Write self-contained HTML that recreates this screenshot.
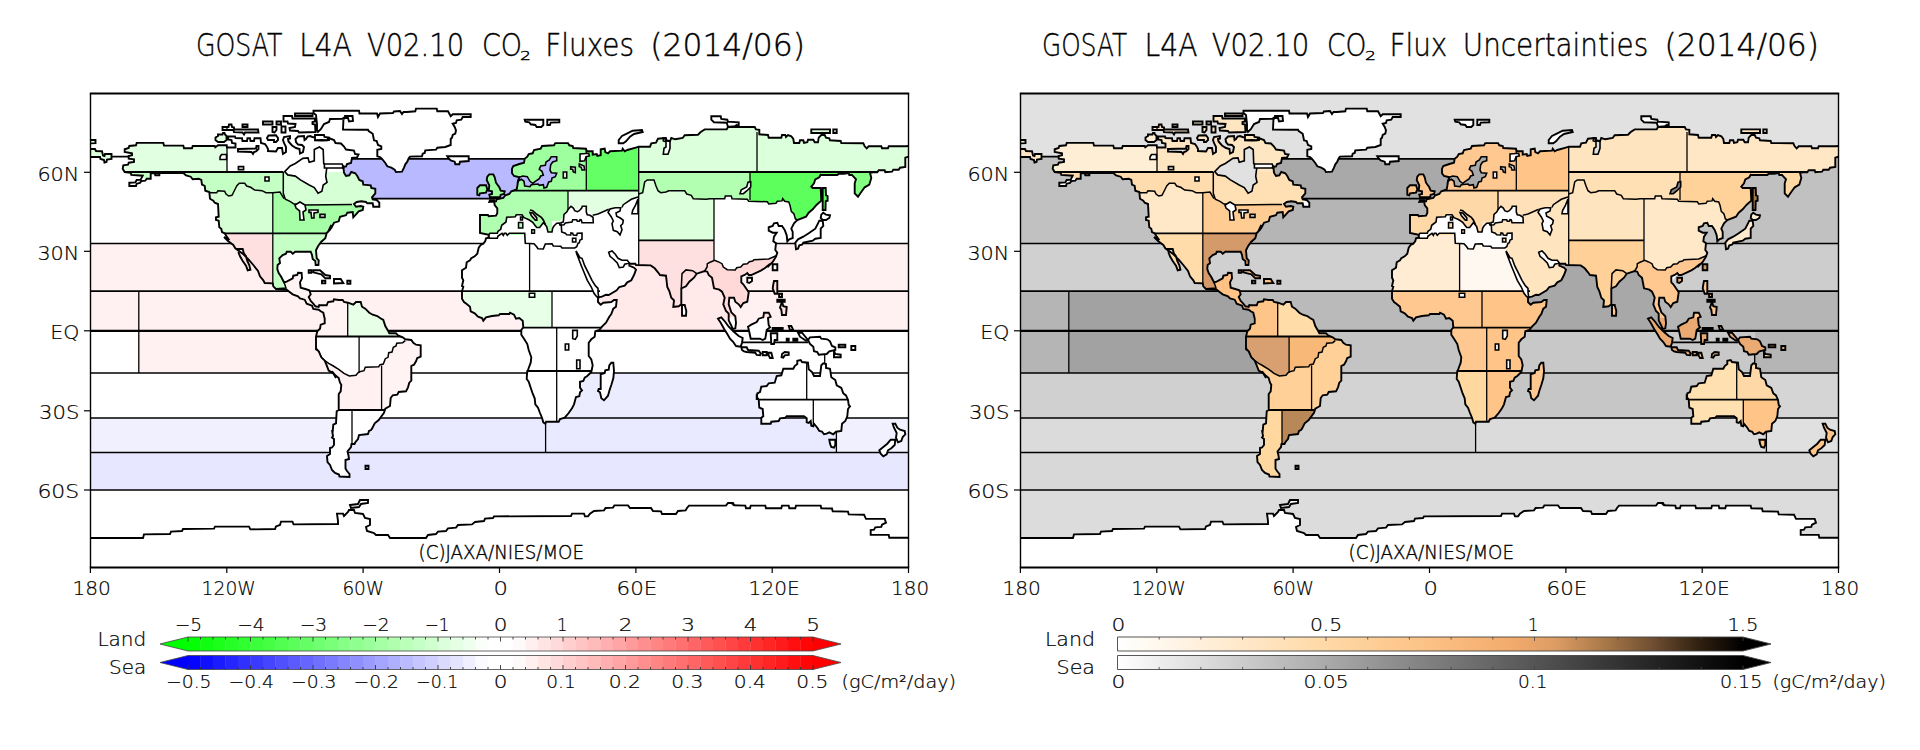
<!DOCTYPE html>
<html lang="en"><head><meta charset="utf-8"><title>GOSAT L4A V02.10 CO2 Fluxes (2014/06)</title>
<style>
html,body{margin:0;padding:0;background:#fff;}
body{width:1920px;height:750px;overflow:hidden;position:relative;}
svg{position:absolute;left:0;top:0;display:block;}
text{font-family:"DejaVu Sans Light","DejaVu Sans","Liberation Sans",sans-serif;font-weight:200;fill:#000;stroke:#000;stroke-width:0.4px;}
.ax text,.cb text{stroke-width:0.22px;}
</style></head><body>
<svg width="1920" height="750" viewBox="0 0 1920 750">
<defs>
<clipPath id="frame"><rect x="90.5" y="93.6" width="818.0" height="473.9"/></clipPath>
<clipPath id="landclip"><path d="M226.7 145.3 L218.0 145.3 L215.3 147.3 L214.7 146.0 L192.7 146.0 L192.0 148.3 L184.0 148.3 L183.3 145.6 L164.0 145.6 L163.3 142.9 L136.7 142.9 L136.0 145.3 L129.3 146.0 L128.7 148.0 L124.7 149.3 L124.7 152.0 L132.0 153.3 L132.0 155.3 L128.7 156.0 L128.7 158.7 L134.0 159.3 L134.0 162.0 L128.7 162.7 L128.0 164.7 L123.3 165.3 L122.7 168.7 L124.7 172.0 L130.7 172.7 L131.3 174.9 L142.7 175.7 L140.7 179.7 L136.7 180.0 L135.3 182.4 L129.3 182.7 L129.3 186.0 L136.0 186.0 L136.7 183.7 L140.0 182.9 L141.3 181.1 L145.3 180.7 L146.7 178.7 L150.7 178.7 L150.7 173.3 L154.7 173.1 L155.3 175.3 L159.3 175.3 L159.6 173.1 L183.3 173.1 L186.0 175.3 L190.7 176.7 L192.7 179.3 L198.7 178.7 L201.3 180.0 L202.0 184.7 L204.7 186.0 L205.3 190.7 L209.3 192.0 L210.0 198.7 L213.3 200.7 L214.7 202.7 L218.0 204.0 L218.7 216.7 L216.0 217.3 L216.0 220.0 L218.7 220.7 L219.3 227.3 L221.3 228.7 L222.0 232.0 L224.7 233.3 L226.7 236.7 L229.3 240.0 L224.0 237.0 L228.0 241.0 L233.3 245.0 L235.3 248.3 L242.7 253.7 L248.7 259.7 L253.3 265.0 L258.0 271.0 L260.0 276.3 L263.3 280.3 L264.7 283.0 L272.7 283.4 L273.3 286.3 L276.0 289.0 L286.7 289.7 L289.3 291.7 L292.7 294.3 L298.0 296.3 L300.0 298.3 L304.7 299.7 L306.7 303.7 L312.0 305.7 L313.3 309.0 L318.7 309.7 L320.7 311.3 L323.3 312.7 L324.7 318.7 L324.7 323.3 L320.7 324.7 L320.0 328.7 L317.3 331.3 L316.0 336.7 L316.0 349.3 L318.7 351.3 L321.3 357.3 L324.7 360.7 L326.7 365.3 L328.7 370.7 L333.3 373.3 L336.0 378.0 L332.0 371.3 L335.3 375.3 L338.7 378.0 L340.0 382.7 L341.3 384.7 L340.7 391.3 L338.7 394.0 L338.7 410.0 L336.7 411.3 L336.0 423.3 L333.3 424.7 L332.7 431.3 L332.0 430.0 L333.0 436.0 L332.0 437.5 L334.0 439.0 L334.0 445.0 L332.0 447.5 L330.0 448.0 L330.0 454.0 L327.0 456.0 L327.5 462.0 L330.0 465.0 L332.0 470.0 L335.0 473.0 L339.0 474.5 L339.5 476.5 L349.5 477.0 L349.5 474.0 L347.0 471.0 L345.5 468.5 L345.5 460.0 L349.0 459.0 L348.5 455.5 L347.5 451.5 L351.0 447.0 L351.5 444.0 L354.5 444.0 L355.5 442.0 L358.0 439.0 L359.0 435.0 L368.0 434.0 L369.0 431.0 L371.0 430.0 L372.0 428.7 L374.7 423.3 L378.7 420.0 L384.0 412.7 L385.3 408.7 L390.0 406.0 L390.7 398.0 L392.7 395.3 L397.3 394.7 L398.7 392.0 L406.0 391.3 L408.0 387.3 L409.3 382.7 L411.3 380.7 L411.3 370.0 L411.3 366.0 L414.0 364.7 L416.0 361.3 L417.3 358.0 L420.7 356.7 L420.7 345.3 L416.0 344.7 L413.3 342.7 L411.3 340.0 L405.3 339.3 L402.7 337.3 L398.0 335.3 L396.0 333.3 L389.3 333.3 L388.0 330.7 L385.3 326.0 L383.3 320.0 L380.0 318.0 L377.3 316.0 L372.7 314.7 L369.3 312.7 L365.3 308.7 L362.0 306.7 L360.7 302.0 L356.0 302.0 L353.3 304.7 L348.0 302.7 L344.0 302.0 L342.7 300.0 L338.7 300.0 L334.0 299.3 L333.3 301.3 L328.0 302.0 L326.7 305.3 L320.0 305.3 L319.3 305.0 L318.7 307.0 L315.3 306.3 L313.3 303.7 L310.7 301.0 L308.7 297.0 L310.7 294.3 L309.3 290.3 L305.3 289.0 L300.7 287.7 L300.0 282.3 L302.0 278.3 L301.6 273.0 L298.0 272.7 L297.3 275.0 L293.3 275.7 L292.7 278.3 L286.7 281.7 L284.0 282.3 L281.3 277.0 L278.7 273.0 L277.3 269.0 L277.6 265.0 L280.0 263.0 L279.3 258.3 L282.7 255.0 L286.0 253.7 L286.7 251.7 L290.7 251.7 L292.7 253.7 L295.3 251.7 L310.7 251.7 L312.0 255.0 L312.7 259.0 L315.3 261.0 L315.7 265.0 L318.4 265.0 L318.7 260.3 L316.7 258.3 L316.0 250.3 L318.0 246.3 L321.3 241.7 L325.3 238.3 L326.7 233.0 L330.0 229.7 L331.3 225.0 L328.0 232.0 L331.3 228.0 L334.0 222.7 L338.7 221.3 L340.0 216.7 L346.0 215.3 L347.3 212.7 L352.7 212.0 L353.3 217.3 L358.7 211.3 L362.7 210.0 L363.3 206.7 L360.7 206.0 L356.0 206.7 L354.0 204.0 L356.7 202.0 L361.3 201.3 L366.0 202.0 L367.3 203.3 L372.7 203.3 L373.3 206.7 L379.3 206.7 L379.3 202.7 L376.7 200.0 L372.7 199.3 L372.0 197.3 L375.3 193.3 L375.3 188.7 L371.3 188.0 L370.7 185.3 L363.3 184.7 L362.7 181.3 L359.3 180.0 L357.3 176.0 L355.3 173.3 L351.3 172.0 L349.3 175.3 L346.0 176.0 L344.0 172.7 L343.3 166.7 L342.0 168.0 L343.0 167.0 L346.0 166.5 L347.0 164.0 L351.0 163.0 L352.0 158.0 L357.0 157.5 L358.5 154.5 L355.0 154.0 L354.0 150.5 L346.0 149.5 L344.0 146.5 L341.0 143.5 L335.5 143.0 L334.0 140.0 L330.0 138.5 L328.0 138.5 L327.0 140.5 L315.0 140.0 L315.0 137.5 L312.5 137.0 L310.0 136.0 L307.5 136.5 L306.0 139.0 L304.5 140.0 L304.0 136.0 L298.0 136.5 L295.5 139.0 L296.0 142.0 L298.0 144.5 L302.0 145.0 L304.0 147.0 L303.0 152.0 L300.0 153.5 L299.5 149.0 L296.0 148.0 L292.0 145.5 L288.5 141.5 L288.0 139.0 L290.0 138.5 L290.0 136.0 L284.0 137.0 L283.0 140.0 L284.0 143.0 L286.0 147.0 L286.0 152.0 L283.0 154.0 L282.0 148.0 L278.0 148.0 L276.0 151.5 L268.0 151.0 L268.0 149.0 L267.0 147.0 L265.0 144.0 L261.0 143.0 L260.5 138.2 L254.5 138.2 L254.0 141.0 L250.5 141.0 L250.0 138.2 L247.5 138.2 L247.0 141.0 L242.5 141.0 L242.0 138.2 L235.5 138.0 L235.0 136.5 L228.0 136.5 L228.0 139.5 L231.5 140.0 L232.0 143.0 L235.5 143.5 L235.5 147.5 L227.0 147.5ZM218.0 134.5 L222.5 134.5 L223.0 133.0 L224.5 133.0 L225.0 134.5 L226.5 136.0 L226.5 140.0 L224.0 142.0 L218.0 142.0 L215.5 140.0 L215.5 137.5 L218.0 136.0ZM222.5 127.0 L228.5 127.0 L229.0 124.5 L231.5 124.5 L232.0 127.0 L234.0 127.5 L234.0 129.5 L258.0 129.5 L258.5 132.5 L245.0 132.5 L244.0 134.5 L242.5 132.5 L234.0 132.2 L233.5 130.0 L222.5 130.0ZM242.5 124.5 L247.5 124.5 L247.5 127.0 L242.5 127.0ZM263.0 121.5 L272.5 121.5 L272.5 124.5 L263.0 124.5ZM276.5 121.5 L281.0 121.5 L281.0 124.5 L276.5 124.5ZM272.5 127.0 L276.5 127.0 L276.5 130.0 L274.5 132.5 L272.5 132.0ZM281.5 126.5 L285.5 126.5 L285.5 132.5 L281.5 132.5ZM283.5 116.0 L292.0 116.0 L292.5 118.5 L315.0 118.5 L315.0 121.5 L312.5 122.0 L312.5 124.0 L315.0 124.5 L315.5 132.0 L299.0 132.5 L298.0 131.0 L290.0 130.5 L289.5 128.0 L295.0 127.0 L295.5 124.0 L288.0 123.5 L287.5 121.5 L283.5 121.5ZM295.0 113.5 L312.5 113.5 L312.5 116.0 L295.0 116.0ZM268.5 135.5 L276.0 135.2 L278.0 138.0 L278.0 140.0 L276.0 142.0 L274.0 142.0 L274.0 140.0 L268.0 140.0 L267.0 138.0ZM238.0 149.0 L256.0 148.5 L256.5 146.0 L258.5 146.0 L258.5 149.0 L256.0 151.5 L254.0 152.0 L253.0 154.0 L251.5 152.0 L238.0 151.5ZM315.0 135.0 L324.0 135.0 L324.5 137.0 L329.0 137.5 L329.0 140.0 L315.0 140.5ZM343.0 129.5 L343.5 118.0 L348.0 118.0 L349.0 121.5 L353.0 121.0 L352.5 116.0 L345.0 116.0 L344.0 118.8 L330.0 119.0 L329.0 122.0 L324.0 124.0 L321.0 129.0 L318.0 132.0 L317.0 130.0 L317.0 124.0 L316.0 115.0 L313.5 113.0 L313.5 110.8 L359.0 110.8 L359.5 113.5 L377.0 113.5 L378.0 117.0 L380.0 113.5 L393.0 113.0 L394.0 111.5 L400.0 111.0 L402.0 114.0 L403.5 112.0 L407.0 112.0 L415.3 111.3 L416.0 108.6 L436.7 108.6 L437.3 111.3 L448.0 111.3 L450.7 116.3 L452.7 114.3 L470.7 114.1 L470.7 117.0 L462.7 117.0 L461.3 119.7 L456.7 120.3 L456.0 123.0 L452.7 123.7 L454.7 127.0 L456.0 130.3 L455.3 133.7 L452.7 135.0 L452.0 137.7 L450.7 139.0 L450.7 145.0 L445.3 147.0 L437.3 147.7 L436.0 149.7 L425.3 150.3 L424.7 153.0 L422.7 153.7 L422.0 156.3 L410.0 156.6 L408.7 158.3 L407.3 161.7 L405.3 164.3 L404.0 167.7 L402.0 171.7 L396.0 172.1 L394.7 169.7 L391.3 167.7 L387.3 166.3 L385.3 163.0 L382.0 159.0 L380.0 157.0 L377.3 156.3 L377.3 149.7 L381.3 149.0 L381.3 146.3 L378.0 145.0 L376.7 141.0 L374.0 140.3 L372.7 133.7 L368.7 131.0 L368.0 129.7 L360.0 129.7ZM447.3 156.3 L468.7 156.3 L468.7 161.0 L460.0 161.7 L459.3 164.3 L455.3 164.3 L454.7 161.7 L450.7 160.3 L448.7 158.3ZM524.7 119.7 L543.3 119.7 L543.3 125.0 L541.3 127.0 L536.7 127.0 L535.3 125.0 L530.7 124.3 L529.3 122.3 L525.3 121.7ZM547.3 119.7 L559.3 119.7 L559.3 122.3 L550.7 122.6 L550.0 125.0 L547.3 125.0ZM618.7 140.0 L622.0 136.0 L627.3 133.3 L632.7 130.7 L642.0 130.0 L642.7 132.0 L634.0 134.0 L630.0 136.7 L626.0 141.3 L623.3 143.3 L618.7 143.3ZM313.3 270.3 L320.0 270.3 L325.3 275.0 L330.0 275.7 L330.0 278.3 L325.3 278.3 L321.3 274.3 L313.3 272.3ZM308.7 270.1 L311.3 270.1 L311.3 272.7 L308.7 272.7ZM334.0 279.0 L340.7 279.0 L343.3 283.0 L334.0 283.4ZM322.0 280.7 L325.3 280.7 L325.3 283.4 L322.0 283.4ZM347.3 280.7 L350.4 280.7 L350.4 283.7 L347.3 283.7ZM238.0 249.0 L242.7 249.0 L244.0 253.7 L246.0 256.3 L247.3 261.0 L249.3 265.0 L250.4 269.7 L247.7 270.3 L246.0 265.7 L242.7 261.0 L240.0 256.3 L238.7 253.0ZM365.5 465.8 L368.5 465.8 L368.5 469.0 L365.5 469.0ZM154.7 173.1 L159.3 173.1 L159.3 175.3 L155.3 175.3ZM90.5 538.0 L143.0 538.0 L144.0 534.4 L170.0 534.0 L171.0 531.6 L182.0 531.0 L183.0 529.0 L214.0 528.6 L215.0 526.6 L249.0 526.6 L250.4 529.4 L275.0 529.0 L276.0 526.4 L280.0 525.0 L281.0 521.6 L292.4 521.6 L293.6 524.4 L338.0 524.0 L338.0 521.0 L337.0 513.6 L343.0 513.6 L344.0 516.0 L348.0 512.0 L349.0 510.0 L354.0 510.0 L355.0 513.0 L363.0 514.0 L365.0 518.0 L370.0 519.0 L370.0 525.0 L366.0 527.0 L367.0 531.0 L374.0 533.0 L376.0 535.0 L388.0 535.0 L390.0 538.0 L426.0 538.0 L428.0 535.0 L436.0 534.0 L438.0 531.6 L446.0 531.0 L448.0 528.4 L456.0 527.6 L458.0 525.0 L472.0 524.4 L475.0 522.0 L484.0 521.0 L485.0 518.6 L493.0 518.0 L494.0 516.4 L571.0 516.0 L572.0 513.6 L584.0 513.6 L585.0 516.4 L588.0 516.4 L590.0 513.6 L594.0 511.0 L604.0 510.4 L605.6 508.0 L613.0 507.6 L614.4 505.4 L628.0 505.4 L630.0 508.0 L651.0 508.0 L653.0 511.0 L661.0 511.4 L662.0 514.0 L676.0 514.0 L678.0 511.0 L685.6 510.4 L687.0 508.0 L689.0 505.6 L726.0 505.6 L728.0 503.0 L733.0 503.0 L734.4 505.6 L734.0 505.3 L745.3 505.6 L746.0 508.3 L750.0 508.3 L750.7 505.6 L765.3 505.6 L766.0 508.3 L781.3 508.3 L782.0 505.6 L788.7 505.6 L789.3 508.3 L795.3 508.3 L796.0 505.6 L820.7 505.6 L821.3 508.3 L832.0 508.5 L832.7 511.3 L848.0 511.6 L848.7 514.4 L864.0 514.7 L866.0 518.9 L884.7 518.9 L886.0 522.7 L882.0 524.7 L881.3 526.9 L875.3 527.3 L874.0 529.6 L870.7 530.0 L870.7 534.9 L888.7 534.9 L889.3 537.7 L908.7 537.7 L912.0 538.0 L912.0 572.0 L88.0 572.0 L88.0 538.0ZM350.0 505.0 L358.0 504.0 L360.0 500.0 L368.0 500.0 L368.0 503.0 L361.0 504.0 L359.0 507.0 L351.0 508.0ZM912.0 145.7 L912.0 155.7 L905.3 157.7 L905.3 167.0 L900.0 167.7 L898.7 169.7 L893.3 169.7 L892.0 171.7 L885.3 172.3 L884.7 170.3 L878.7 170.3 L877.3 172.3 L873.3 172.3 L870.0 172.7 L871.3 178.0 L869.3 184.7 L864.7 187.3 L860.7 192.7 L858.0 196.7 L854.7 193.3 L854.7 183.3 L856.0 179.3 L853.3 176.3 L852.0 175.0 L849.3 175.0 L848.7 173.0 L844.0 173.7 L838.7 173.7 L837.3 175.0 L821.3 175.0 L820.7 174.7 L819.3 177.3 L815.3 179.3 L814.0 183.3 L811.3 186.7 L812.7 188.0 L820.7 188.0 L821.3 200.7 L816.7 204.7 L812.7 209.3 L808.7 212.7 L806.0 216.7 L797.3 220.0 L794.0 223.3 L791.3 228.7 L792.7 232.0 L792.7 238.0 L789.3 239.3 L787.3 241.3 L786.7 235.3 L784.7 230.0 L782.0 226.0 L778.7 226.0 L777.3 222.7 L774.0 223.3 L772.7 226.0 L768.7 227.3 L768.7 230.7 L772.7 232.7 L776.7 232.7 L774.0 236.7 L773.3 241.3 L776.0 243.3 L775.3 250.0 L777.3 252.7 L776.0 256.7 L772.7 262.0 L768.7 266.0 L768.7 265.0 L764.7 268.3 L761.3 270.3 L751.3 275.0 L748.7 275.0 L747.3 273.0 L744.7 275.0 L741.3 276.3 L741.3 282.3 L743.3 284.3 L746.0 288.3 L748.7 292.3 L747.3 301.7 L743.3 303.0 L740.7 307.0 L738.7 304.3 L735.3 301.7 L734.0 297.7 L729.3 297.7 L728.7 304.3 L731.3 312.3 L735.3 316.3 L736.0 323.0 L735.3 328.3 L732.7 329.0 L731.3 325.7 L728.7 320.3 L728.7 313.7 L726.0 311.0 L723.3 304.3 L724.7 297.7 L722.0 291.7 L719.3 289.7 L714.0 288.3 L712.0 277.7 L708.7 275.0 L707.3 271.7 L704.7 271.0 L696.7 273.7 L694.0 277.7 L689.3 281.7 L686.0 286.3 L681.3 288.3 L681.3 304.3 L678.7 306.3 L673.3 307.0 L674.0 300.3 L671.3 297.7 L669.3 291.0 L667.3 287.0 L666.0 275.7 L660.0 275.0 L658.0 272.3 L654.7 268.3 L650.7 265.4 L636.0 265.0 L635.3 263.7 L630.0 263.7 L629.3 263.3 L629.3 265.7 L634.0 267.7 L636.0 269.7 L634.0 275.0 L631.3 280.3 L627.3 282.3 L624.7 285.7 L619.3 287.0 L616.7 290.3 L608.7 295.0 L606.0 294.7 L602.0 296.7 L598.0 297.3 L598.0 302.0 L600.7 304.7 L603.3 302.7 L611.3 302.0 L614.0 300.0 L616.7 300.0 L616.0 306.7 L613.3 308.7 L611.3 314.0 L609.3 316.7 L606.0 322.7 L602.0 326.7 L599.3 330.0 L595.3 331.3 L594.7 336.7 L591.3 339.3 L588.7 342.7 L588.7 356.0 L591.3 359.3 L592.7 365.3 L591.3 372.0 L587.3 376.0 L584.7 377.7 L583.3 381.0 L580.0 381.7 L580.0 387.7 L582.0 390.3 L580.0 392.3 L579.3 396.3 L576.0 397.0 L574.0 404.3 L572.0 408.3 L568.7 413.0 L564.7 417.7 L560.0 419.0 L558.7 421.7 L546.0 421.7 L545.3 423.7 L543.3 422.3 L542.0 417.7 L540.0 413.0 L538.0 407.7 L535.3 404.3 L534.7 398.3 L532.7 393.7 L530.7 387.7 L528.7 381.7 L526.7 379.0 L527.3 370.3 L527.3 372.0 L528.7 368.0 L530.7 362.7 L531.3 357.3 L528.7 350.0 L527.3 344.0 L524.0 338.7 L521.3 334.7 L521.3 330.0 L523.3 327.3 L522.7 320.7 L519.3 318.0 L516.0 318.7 L514.0 314.7 L510.0 312.7 L509.3 314.0 L500.0 314.0 L498.7 315.3 L492.0 316.0 L486.0 317.3 L483.3 320.7 L482.0 318.0 L478.0 316.7 L474.7 313.3 L470.7 311.3 L470.0 306.7 L466.7 304.0 L464.0 302.0 L462.0 298.7 L462.0 291.3 L463.3 286.7 L462.0 286.0 L463.3 280.3 L462.0 277.7 L462.0 270.3 L466.0 267.7 L466.7 262.3 L470.0 260.3 L471.3 258.3 L474.7 256.3 L477.3 253.7 L478.7 247.7 L480.7 245.0 L483.3 243.7 L485.3 241.0 L486.0 238.3 L488.7 237.7 L488.7 234.7 L480.0 233.0 L480.0 215.0 L488.0 215.0 L488.7 216.3 L496.0 215.7 L497.3 213.0 L497.3 208.3 L494.7 205.0 L494.0 200.3 L490.0 200.3 L489.3 202.0 L496.0 201.3 L496.7 199.3 L503.3 198.0 L505.3 195.3 L509.3 194.0 L511.3 191.3 L516.7 189.3 L517.3 186.0 L518.0 181.3 L519.3 177.3 L514.0 176.0 L512.0 173.3 L512.0 168.7 L513.3 166.0 L519.3 164.0 L524.0 162.7 L524.7 158.7 L527.3 156.7 L528.7 154.0 L532.7 153.3 L534.0 150.0 L540.7 148.7 L542.0 146.0 L554.0 145.3 L555.3 143.1 L568.0 143.1 L569.3 145.3 L572.7 146.0 L573.3 148.0 L586.0 148.7 L586.7 151.3 L592.7 151.3 L592.7 154.7 L596.7 154.0 L597.3 156.0 L600.7 155.3 L600.7 149.3 L604.7 148.7 L605.3 152.0 L608.0 153.3 L610.0 151.3 L622.0 150.7 L622.7 148.7 L624.7 151.3 L627.3 150.0 L636.7 147.3 L638.7 146.7 L650.0 146.7 L651.3 143.3 L656.0 142.7 L658.0 138.7 L664.7 138.0 L666.0 140.7 L670.0 141.3 L671.3 138.0 L675.3 139.3 L682.7 138.0 L684.7 135.3 L698.0 134.7 L700.7 132.0 L704.7 129.4 L726.7 129.4 L728.0 127.0 L734.7 126.3 L736.7 125.0 L738.7 127.0 L754.7 127.0 L756.0 129.4 L759.3 129.9 L759.3 134.3 L768.0 135.0 L768.7 137.7 L781.3 137.7 L782.0 135.0 L785.3 135.0 L786.0 137.0 L788.0 135.0 L791.3 136.3 L793.3 139.0 L794.0 143.0 L799.3 143.0 L800.0 140.3 L803.3 140.3 L804.0 143.0 L807.3 142.3 L808.0 139.7 L813.3 139.7 L814.7 142.3 L818.0 142.3 L818.7 137.7 L821.3 135.0 L824.7 135.0 L826.0 137.7 L829.3 138.3 L830.0 140.3 L840.7 141.0 L841.3 143.0 L863.3 143.3 L864.7 146.3 L866.7 148.3 L868.7 146.3 L881.3 146.3 L882.0 148.3 L888.0 148.3 L888.7 146.3 L905.3 146.3ZM86.0 149.0 L95.0 149.0 L96.0 151.0 L102.0 151.2 L103.0 155.5 L104.5 156.0 L105.0 154.0 L111.5 154.0 L111.5 159.0 L107.0 159.5 L106.5 162.0 L104.5 162.5 L104.0 160.0 L100.5 159.0 L100.0 157.0 L86.0 157.0ZM86.0 140.0 L95.5 140.0 L95.5 143.2 L86.0 143.5ZM711.3 116.3 L720.7 116.3 L721.3 119.0 L727.3 119.7 L728.0 121.7 L738.7 122.3 L738.7 127.0 L728.0 127.0 L726.7 122.7 L714.0 122.3 L711.3 119.7ZM811.3 129.4 L830.0 129.4 L830.0 133.0 L811.3 133.0ZM833.3 129.4 L836.7 129.4 L836.7 133.0 L833.3 133.0ZM822.7 188.0 L825.7 188.0 L826.0 195.3 L827.6 196.0 L827.6 200.7 L825.7 201.3 L825.5 210.0 L822.7 210.0ZM821.3 214.7 L823.3 212.7 L826.0 214.7 L830.0 215.3 L829.3 218.0 L826.0 220.0 L822.7 220.0 L820.7 218.0ZM822.7 220.7 L823.3 226.0 L820.7 228.7 L820.7 238.0 L815.3 238.7 L812.7 240.7 L803.3 242.7 L802.0 244.7 L799.3 245.3 L798.0 248.7 L796.0 249.3 L795.3 242.7 L798.0 239.3 L803.3 236.7 L808.7 233.3 L815.3 228.7 L818.0 223.3 L819.3 220.7ZM772.7 264.3 L777.3 264.3 L777.3 270.3 L772.7 270.3ZM747.3 277.7 L752.0 277.7 L752.0 281.0 L749.3 283.0 L747.3 282.3ZM774.0 281.0 L777.3 281.0 L777.3 293.7 L774.7 293.7 L772.7 288.3 L773.3 284.3ZM777.3 299.7 L784.7 299.7 L784.7 301.7 L777.3 301.7ZM779.1 293.7 L782.0 293.7 L782.0 297.0 L779.1 297.0ZM782.0 301.7 L783.3 306.3 L786.7 307.0 L786.0 315.0 L782.0 315.0 L781.3 309.7 L780.0 307.7ZM682.0 305.0 L684.7 305.0 L686.3 311.0 L686.0 315.7 L682.0 315.7ZM487.3 176.7 L489.3 174.4 L493.3 174.4 L494.7 177.3 L496.0 182.7 L499.3 187.3 L500.7 190.7 L504.7 191.3 L504.0 194.0 L500.7 194.7 L500.0 197.3 L490.0 197.3 L489.3 194.7 L492.0 194.0 L492.0 191.3 L488.7 190.7 L489.3 185.3 L486.7 180.0ZM477.3 188.0 L480.0 185.3 L486.0 185.1 L487.3 189.3 L486.0 192.7 L480.0 193.3 L479.3 195.3 L477.3 194.7ZM611.3 362.7 L613.3 362.7 L614.0 371.0 L613.3 378.3 L611.3 385.0 L609.3 391.0 L608.0 395.7 L604.0 400.3 L601.3 398.3 L600.0 392.3 L598.0 391.0 L598.7 389.0 L600.7 389.0 L600.7 374.3 L604.7 373.0 L605.3 370.3 L608.7 369.7 L609.3 365.3ZM718.0 318.7 L721.3 317.3 L725.3 322.0 L728.7 326.7 L733.3 331.3 L738.7 336.0 L742.7 338.0 L742.0 342.7 L740.7 346.7 L736.0 346.0 L733.3 342.0 L730.0 338.7 L727.3 334.0 L724.0 328.7 L720.7 322.7ZM741.3 347.3 L746.7 347.3 L748.0 350.0 L758.7 350.7 L760.7 353.3 L760.0 355.3 L756.7 354.9 L755.3 352.7 L746.7 352.0 L744.0 351.3 L742.0 350.0ZM762.7 352.0 L766.7 352.0 L766.7 355.3 L762.7 355.3ZM768.0 352.7 L771.3 352.7 L772.7 358.0 L770.0 358.0 L768.7 355.3ZM748.0 326.7 L751.3 324.7 L756.7 322.0 L758.7 318.7 L763.3 317.3 L764.0 312.7 L768.7 312.7 L770.7 316.7 L768.0 318.0 L768.7 325.3 L770.0 327.3 L766.7 330.0 L765.3 338.7 L762.7 340.0 L760.0 338.7 L750.7 338.7 L749.3 332.0ZM770.7 333.3 L777.3 333.3 L777.3 340.0 L774.7 340.0 L774.0 344.0 L771.3 344.0ZM772.7 328.0 L782.7 328.0 L782.7 330.0 L772.7 330.0ZM788.7 326.0 L791.3 326.0 L793.3 330.0 L790.0 330.0ZM782.0 354.0 L784.7 352.0 L788.7 352.3 L788.7 354.9 L784.7 355.3 L783.3 357.6 L781.6 357.3ZM798.0 332.7 L802.0 332.7 L808.0 340.0 L806.0 340.7 L800.0 336.7ZM786.7 338.7 L788.7 338.7 L788.7 340.7 L786.7 340.7ZM793.3 338.7 L797.3 338.7 L797.3 340.7 L793.3 340.7ZM808.0 340.0 L810.0 337.3 L820.0 336.7 L821.3 338.7 L827.3 339.3 L830.0 341.3 L832.0 346.0 L835.3 347.3 L835.3 350.0 L829.3 351.3 L826.7 354.0 L818.7 354.7 L817.3 352.0 L814.0 351.3 L813.3 346.7 L810.0 344.0ZM838.7 344.7 L845.3 344.7 L845.3 347.3 L838.7 347.3ZM834.0 350.7 L835.3 354.0 L840.7 354.7 L840.7 357.3 L834.0 357.3ZM851.3 346.0 L855.3 346.0 L855.3 350.0 L851.3 350.0ZM756.7 400.0 L757.3 393.3 L760.0 392.0 L761.3 386.7 L766.7 386.0 L768.7 383.3 L774.7 382.7 L776.7 376.0 L781.3 375.3 L783.3 368.7 L793.3 368.7 L794.7 366.0 L797.3 364.0 L797.3 360.7 L800.7 360.0 L802.0 362.0 L808.0 362.7 L808.7 369.3 L812.0 372.0 L814.0 376.0 L820.0 376.0 L821.3 365.3 L823.3 363.3 L826.0 364.0 L826.0 368.0 L830.0 368.7 L831.3 377.3 L835.3 380.0 L836.7 385.3 L841.3 388.0 L843.3 393.3 L846.7 396.0 L846.0 395.7 L848.0 399.7 L848.7 405.0 L850.0 406.3 L848.0 409.0 L847.3 416.3 L845.3 421.0 L842.0 423.7 L841.3 431.0 L836.0 431.7 L833.3 434.3 L829.3 432.3 L826.7 433.7 L824.0 434.3 L822.0 431.7 L819.3 431.0 L817.3 427.7 L814.0 423.7 L813.3 426.3 L811.3 425.7 L810.7 421.0 L808.7 423.0 L806.7 422.3 L806.7 418.3 L804.0 416.3 L786.7 416.3 L785.3 417.7 L780.0 418.3 L778.7 421.0 L771.3 421.7 L770.7 423.7 L761.3 423.7 L761.3 417.7 L763.3 416.3 L762.7 409.0 L759.3 407.7 L758.7 399.7 L756.7 397.0ZM829.3 439.7 L835.3 439.7 L835.3 445.0 L834.0 447.7 L831.3 447.0 L830.0 443.7ZM892.7 423.7 L895.3 423.7 L897.3 427.7 L900.0 429.7 L904.7 431.0 L905.3 434.3 L902.7 437.0 L901.3 441.0 L898.0 442.3 L896.0 437.7 L896.7 433.0 L894.0 427.7ZM890.7 439.7 L895.3 439.7 L894.7 445.0 L891.3 448.3 L888.0 450.3 L886.7 454.3 L883.3 456.3 L880.7 453.7 L879.3 450.3 L883.3 447.0 L887.3 443.7Z"/></clipPath>
</defs>
<rect width="1920" height="750" fill="#fff"/>
<g class="ttl">
<text x="195.9" y="56.2" font-size="31.2" textLength="86.6" lengthAdjust="spacingAndGlyphs">GOSAT</text>
<text x="299.3" y="56.2" font-size="31.2" textLength="52.5" lengthAdjust="spacingAndGlyphs">L4A</text>
<text x="366.9" y="56.2" font-size="31.2" textLength="97.3" lengthAdjust="spacingAndGlyphs">V02.10</text>
<text x="481.9" y="56.2" font-size="31.2" textLength="40.1" lengthAdjust="spacingAndGlyphs">CO</text>
<text x="545.3" y="56.2" font-size="31.2" textLength="88.7" lengthAdjust="spacingAndGlyphs">Fluxes</text>
<text x="650.3" y="56.2" font-size="31.2" textLength="154.7" lengthAdjust="spacingAndGlyphs">(2014/06)</text>
<text x="520.0" y="59.5" font-size="12.0" textLength="11.0" lengthAdjust="spacingAndGlyphs" stroke-width="0.8">2</text>
<text x="1042.1" y="56.2" font-size="31.2" textLength="84.9" lengthAdjust="spacingAndGlyphs">GOSAT</text>
<text x="1144.6" y="56.2" font-size="31.2" textLength="52.8" lengthAdjust="spacingAndGlyphs">L4A</text>
<text x="1211.7" y="56.2" font-size="31.2" textLength="97.7" lengthAdjust="spacingAndGlyphs">V02.10</text>
<text x="1327.0" y="56.2" font-size="31.2" textLength="39.4" lengthAdjust="spacingAndGlyphs">CO</text>
<text x="1389.4" y="56.2" font-size="31.2" textLength="57.9" lengthAdjust="spacingAndGlyphs">Flux</text>
<text x="1462.8" y="56.2" font-size="31.2" textLength="185.4" lengthAdjust="spacingAndGlyphs">Uncertainties</text>
<text x="1664.5" y="56.2" font-size="31.2" textLength="154.5" lengthAdjust="spacingAndGlyphs">(2014/06)</text>
<text x="1365.1" y="59.5" font-size="12.0" textLength="11.0" lengthAdjust="spacingAndGlyphs" stroke-width="0.8">2</text>
</g>
<g transform="translate(0,0)">
<g clip-path="url(#frame)">
<rect x="90.5" y="93.6" width="818.0" height="473.9" fill="#ffffff"/>
<rect x="300.0" y="158.9" width="260.0" height="39.8" fill="#b9b9ff"/>
<polygon points="90.5,243.5 250.0,243.5 280.0,291.2 90.5,291.2" fill="#fff1f1"/>
<polygon points="770.0,243.5 908.5,243.5 908.5,291.2 735.0,291.2" fill="#fff1f1"/>
<polygon points="585.0,235.0 722.0,235.0 727.0,295.0 734.0,322.0 727.0,330.8 585.0,330.8" fill="#ffe9e9"/>
<polygon points="727.0,295.0 722.0,291.2 908.5,291.2 908.5,330.8 727.0,330.8 734.0,322.0" fill="#fff1f1"/>
<polygon points="90.5,291.2 138.8,291.2 138.8,330.8 90.5,330.8" fill="#fff1f1"/>
<polygon points="138.8,291.2 290.0,291.2 303.0,300.0 316.0,308.5 323.0,312.0 323.0,330.8 138.8,330.8" fill="#fff1f1"/>
<polygon points="290.0,291.2 303.0,300.0 316.0,308.5 323.0,312.0 323.0,330.8 540.0,330.8 540.0,291.2" fill="#fff1f1"/>
<rect x="138.8" y="330.8" width="201.2" height="42.2" fill="#fff1f1"/>
<rect x="555.0" y="373.0" width="260.0" height="45.0" fill="#ececff"/>
<rect x="90.5" y="418.0" width="249.5" height="34.5" fill="#f0f0fe"/>
<rect x="340.0" y="418.0" width="205.6" height="34.5" fill="#e9e9ff"/>
<rect x="545.6" y="418.0" width="290.8" height="34.5" fill="#e9e9ff"/>
<rect x="836.4" y="418.0" width="72.1" height="34.5" fill="#f0f0fe"/>
<rect x="90.5" y="452.5" width="818.0" height="37.5" fill="#e7e7ff"/>
<g stroke="#000" stroke-width="1.7" fill="none">
<line x1="90.5" y1="156.7" x2="130.0" y2="156.7"/>
<line x1="300.0" y1="158.9" x2="540.0" y2="158.9"/>
<line x1="340.0" y1="198.7" x2="500.0" y2="198.7"/>
<line x1="90.5" y1="243.5" x2="908.5" y2="243.5"/>
<line x1="90.5" y1="291.2" x2="560.0" y2="291.2"/>
<line x1="742.0" y1="291.2" x2="908.5" y2="291.2"/>
<line x1="90.5" y1="330.8" x2="908.5" y2="330.8" stroke-width="2.3"/>
<line x1="90.5" y1="373.0" x2="908.5" y2="373.0"/>
<line x1="90.5" y1="418.0" x2="908.5" y2="418.0"/>
<line x1="90.5" y1="452.5" x2="908.5" y2="452.5"/>
<line x1="90.5" y1="490.0" x2="908.5" y2="490.0"/>
<line x1="138.8" y1="291.2" x2="138.8" y2="373.0" stroke-width="1.3"/>
<line x1="545.6" y1="412.0" x2="545.6" y2="452.5" stroke-width="1.3"/>
<line x1="836.4" y1="425.0" x2="836.4" y2="452.5" stroke-width="1.3"/>
<line x1="824.7" y1="350.0" x2="824.7" y2="368.0" stroke-width="1.3"/>
<line x1="741.0" y1="342.3" x2="808.0" y2="342.3"/>
</g>
<g clip-path="url(#landclip)">
<rect x="90.5" y="93.6" width="818.0" height="473.9" fill="#ffffff"/>
<polygon points="80.0,100.0 227.0,100.0 227.0,172.0 80.0,172.0" fill="#e1ffe1"/>
<polygon points="227.0,95.0 362.0,95.0 362.0,212.0 227.0,212.0" fill="#ffffff"/>
<polygon points="120.0,172.0 283.3,172.0 283.3,193.3 280.0,192.0 272.7,192.7 266.0,192.7 262.0,190.7 254.7,190.0 250.7,187.3 246.7,186.0 244.7,183.3 239.3,183.3 236.7,186.0 234.7,190.0 232.0,195.3 228.7,196.0 226.0,194.0 224.7,191.3 218.0,190.7 216.7,192.7 209.3,192.7 200.0,193.0" fill="#c4ffc4"/>
<polygon points="209.3,192.7 216.7,192.7 218.0,190.7 224.7,191.3 226.0,194.0 228.7,196.0 232.0,195.3 234.7,190.0 236.7,186.0 239.3,183.3 244.7,183.3 246.7,186.0 250.7,187.3 254.7,190.0 262.0,190.7 266.0,192.7 272.7,192.7 280.0,192.0 282.0,195.3 284.0,198.7 284.0,199.0 272.8,199.0 272.8,233.3 200.0,233.3 200.0,192.0" fill="#d6ffd6"/>
<polygon points="283.3,172.0 400.0,172.0 400.0,204.5 304.0,204.5 294.0,204.0 290.0,201.3 285.3,199.3 283.3,193.3 283.3,172.0" fill="#d6ffd6"/>
<polygon points="272.8,192.7 284.0,193.5 286.0,199.3 290.7,201.3 294.7,204.0 304.0,204.5 400.0,204.5 400.0,233.3 272.8,233.3" fill="#a6ffa6"/>
<polygon points="200.0,233.3 272.8,233.3 272.8,292.0 200.0,292.0" fill="#ffe0e0"/>
<polygon points="272.8,233.3 345.0,233.3 345.0,270.0 290.0,270.0 284.0,282.0 286.0,288.0 272.8,289.0" fill="#c6ffc6"/>
<polygon points="272.8,289.0 286.0,288.0 284.0,282.0 290.0,270.0 312.0,270.0 330.0,312.0 300.0,312.0" fill="#fff3f3"/>
<polygon points="300.0,285.0 347.7,285.0 347.7,336.5 300.0,336.5" fill="#fff3f3"/>
<polygon points="347.7,285.0 420.0,285.0 420.0,336.5 347.7,336.5" fill="#e6ffe6"/>
<polygon points="310.0,336.5 359.1,336.5 359.1,372.0 358.7,372.0 356.0,375.3 349.3,376.0 344.0,373.3 338.7,369.3 333.3,366.0 328.7,363.3 324.7,360.7 321.3,357.3 318.7,351.3 316.0,348.0" fill="#ffffff"/>
<polygon points="359.1,336.5 410.0,336.5 405.0,340.0 405.3,340.7 402.7,342.7 396.7,343.3 396.0,346.0 393.3,347.3 392.0,352.0 388.7,352.7 388.0,357.3 385.3,358.7 383.3,364.0 380.0,364.7 378.7,366.7 365.3,367.3 364.0,370.7 358.7,372.0 359.1,372.0" fill="#ffffff"/>
<polygon points="405.0,340.0 425.0,340.0 425.0,410.0 381.6,410.0 381.6,365.5 380.0,364.7 383.3,364.0 385.3,358.7 388.0,357.3 388.7,352.7 392.0,352.0 393.3,347.3 396.0,346.0 396.7,343.3 402.7,342.7 405.3,340.7" fill="#fff3f3"/>
<polygon points="316.0,348.0 318.7,351.3 321.3,357.3 324.7,360.7 328.7,363.3 333.3,366.0 338.7,369.3 344.0,373.3 349.3,376.0 356.0,375.3 358.7,372.0 358.7,372.0 364.0,370.7 365.3,367.3 378.7,366.7 380.0,364.7 381.6,365.5 381.6,410.0 320.0,410.0 320.0,360.0 310.0,345.0" fill="#fff1f1"/>
<polygon points="320.0,410.0 352.0,410.0 352.0,480.0 320.0,480.0" fill="#ffffff"/>
<polygon points="352.0,410.0 400.0,410.0 400.0,480.0 352.0,480.0" fill="#ffffff"/>
<polygon points="500.0,100.0 586.3,100.0 586.3,190.7 500.0,190.7" fill="#9eff9e"/>
<polygon points="586.3,100.0 638.7,100.0 638.7,190.7 586.3,190.7" fill="#64ff64"/>
<polygon points="470.0,190.7 568.0,190.7 568.0,213.0 560.0,221.0 552.0,221.0 552.0,245.0 470.0,245.0" fill="#b0ffb0"/>
<polygon points="568.0,190.7 638.7,190.7 638.7,196.7 631.3,199.3 623.3,204.7 622.0,207.3 608.7,209.3 598.0,214.0 592.7,215.3 586.0,208.7 568.0,210.0" fill="#e2ffe2"/>
<polygon points="638.7,100.0 757.0,100.0 757.0,172.0 638.7,172.0" fill="#dcffdc"/>
<polygon points="757.0,100.0 915.0,100.0 915.0,172.0 757.0,172.0" fill="#dcffdc"/>
<polygon points="638.7,172.0 750.0,172.0 750.0,201.4 748.7,201.3 747.3,199.3 732.0,198.7 731.3,196.0 725.3,196.0 724.7,198.7 710.0,198.7 706.0,199.3 693.3,198.7 691.3,195.3 686.7,194.0 684.7,190.7 668.7,190.7 666.0,192.0 660.7,192.7 658.0,190.7 656.0,186.0 654.0,180.0 647.3,180.0 644.7,182.0 642.7,192.7 638.7,194.0" fill="#b2ffb2"/>
<polygon points="750.0,172.0 915.0,172.0 915.0,240.0 797.5,240.0 797.3,220.0 795.3,218.7 794.0,214.0 791.3,211.3 790.0,205.3 788.7,202.0 784.7,201.3 782.7,198.7 782.0,200.9 777.3,201.3 776.0,203.3 768.7,204.0 767.3,201.7 750.0,201.4" fill="#5cff5c"/>
<polygon points="638.7,194.0 642.7,192.7 644.7,182.0 647.3,180.0 654.0,180.0 656.0,186.0 658.0,190.7 660.7,192.7 666.0,192.0 668.7,190.7 684.7,190.7 686.7,194.0 691.3,195.3 693.3,198.7 706.0,199.3 710.0,198.7 714.0,198.7 714.0,240.4 638.7,240.4" fill="#dcffdc"/>
<polygon points="714.0,198.7 724.7,198.7 725.3,196.0 731.3,196.0 732.0,198.7 747.3,199.3 748.7,201.3 767.3,201.7 768.7,204.0 776.0,203.3 777.3,201.3 782.0,200.9 782.7,198.7 784.7,201.3 788.7,202.0 790.0,205.3 791.3,211.3 794.0,214.0 795.3,218.7 797.3,220.0 797.5,262.0 778.0,255.0 773.3,257.0 768.7,259.0 754.0,259.7 752.7,261.0 749.3,261.7 747.3,263.7 743.3,264.3 740.7,267.0 736.7,267.7 735.3,269.9 727.3,269.7 723.3,267.0 722.0,263.7 718.0,261.7 714.7,260.3" fill="#ffffff"/>
<polygon points="638.7,240.4 714.0,240.4 714.0,259.3 714.7,260.3 710.0,262.3 707.3,263.7 707.1,267.0 704.7,271.0 696.7,273.7 696.7,273.7 692.7,270.7 686.0,269.9 682.0,273.7 681.3,287.7 681.3,310.0 640.0,310.0" fill="#ffe0e0"/>
<polygon points="681.3,287.7 682.0,273.7 686.0,269.9 692.7,270.7 696.7,273.7 700.0,280.0 690.0,295.0 681.3,295.0" fill="#ffdcdc"/>
<polygon points="704.7,271.0 707.1,267.0 707.3,263.7 710.0,262.3 714.7,260.3 718.0,261.7 722.0,263.7 723.3,267.0 727.3,269.7 735.3,269.9 736.7,267.7 740.7,267.0 743.3,264.3 747.3,263.7 749.3,261.7 752.7,261.0 754.0,259.7 768.7,259.0 773.3,257.0 778.0,255.0 780.0,262.0 780.0,317.5 700.0,317.5 704.7,271.0" fill="#ffd8d8"/>
<polygon points="852.0,172.6 885.0,172.6 885.0,200.0 852.0,200.0" fill="#84ff84"/>
<polygon points="568.0,210.0 586.0,208.7 592.7,215.3 598.0,214.0 608.7,209.3 622.0,207.3 623.3,204.7 631.3,199.3 638.7,196.7 638.7,300.0 552.0,300.0 552.0,221.0 560.0,221.0 568.0,212.0" fill="#ffffff"/>
<polygon points="440.0,235.0 529.6,235.0 529.6,291.2 440.0,291.2" fill="#ffffff"/>
<polygon points="529.6,235.0 575.0,235.0 576.3,252.0 579.5,258.5 583.0,265.7 586.3,273.0 589.7,280.3 593.3,286.3 596.0,291.2 529.6,291.2" fill="#ffffff"/>
<polygon points="440.0,291.2 552.0,291.2 552.0,327.7 440.0,327.7" fill="#e8ffe8"/>
<polygon points="552.0,291.2 596.0,291.2 598.5,297.8 640.0,299.0 640.0,327.7 552.0,327.7" fill="#ffffff"/>
<polygon points="500.0,327.7 556.7,327.7 556.7,371.0 500.0,371.0" fill="#ffffff"/>
<polygon points="556.7,327.7 620.0,327.7 620.0,371.0 556.7,371.0" fill="#ffffff"/>
<polygon points="500.0,371.0 556.7,371.0 556.7,440.0 500.0,440.0" fill="#ffffff"/>
<polygon points="556.7,371.0 620.0,371.0 620.0,440.0 556.7,440.0" fill="#ffffff"/>
<polygon points="595.0,365.0 620.0,365.0 620.0,405.0 595.0,405.0" fill="#ffffff"/>
<polygon points="715.0,317.5 860.0,317.5 860.0,360.0 715.0,360.0" fill="#ffffff"/>
<polygon points="745.0,280.0 800.0,280.0 800.0,317.5 745.0,317.5" fill="#ffdede"/>
<polygon points="750.0,355.0 806.7,355.0 806.7,399.7 750.0,399.7" fill="#ffffff"/>
<polygon points="806.7,355.0 860.0,355.0 860.0,399.7 806.7,399.7" fill="#ffffff"/>
<polygon points="750.0,399.7 813.3,399.7 813.3,450.0 750.0,450.0" fill="#ffffff"/>
<polygon points="813.3,399.7 860.0,399.7 860.0,450.0 813.3,450.0" fill="#ffffff"/>
<polygon points="870.0,420.0 908.0,420.0 908.0,460.0 870.0,460.0" fill="#ffffff"/>
<polygon points="300.0,262.0 352.0,262.0 352.0,290.0 300.0,290.0" fill="#ffffff"/>
<polygon points="470.0,170.0 505.0,170.0 505.0,197.6 470.0,197.6" fill="#9eff9e"/>
<polygon points="372.5,199.2 381.0,199.2 381.0,208.0 372.5,208.0" fill="#ffffff"/>
<polygon points="80.0,130.0 125.0,130.0 125.0,160.0 80.0,160.0" fill="#dcffdc"/>
<polygon points="343.0,129.5 343.5,118.0 348.0,118.0 349.0,121.5 353.0,121.0 352.5,116.0 345.0,116.0 344.0,118.8 330.0,119.0 329.0,122.0 324.0,124.0 321.0,129.0 318.0,132.0 317.0,130.0 317.0,124.0 316.0,115.0 313.5,113.0 313.5,110.8 359.0,110.8 359.5,113.5 377.0,113.5 378.0,117.0 380.0,113.5 393.0,113.0 394.0,111.5 400.0,111.0 402.0,114.0 403.5,112.0 407.0,112.0 415.3,111.3 416.0,108.6 436.7,108.6 437.3,111.3 448.0,111.3 450.7,116.3 452.7,114.3 470.7,114.1 470.7,117.0 462.7,117.0 461.3,119.7 456.7,120.3 456.0,123.0 452.7,123.7 454.7,127.0 456.0,130.3 455.3,133.7 452.7,135.0 452.0,137.7 450.7,139.0 450.7,145.0 445.3,147.0 437.3,147.7 436.0,149.7 425.3,150.3 424.7,153.0 422.7,153.7 422.0,156.3 410.0,156.6 408.7,158.3 407.3,161.7 405.3,164.3 404.0,167.7 402.0,171.7 396.0,172.1 394.7,169.7 391.3,167.7 387.3,166.3 385.3,163.0 382.0,159.0 380.0,157.0 377.3,156.3 377.3,149.7 381.3,149.0 381.3,146.3 378.0,145.0 376.7,141.0 374.0,140.3 372.7,133.7 368.7,131.0 368.0,129.7 360.0,129.7" fill="#ffffff"/>
<polygon points="447.3,156.3 468.7,156.3 468.7,161.0 460.0,161.7 459.3,164.3 455.3,164.3 454.7,161.7 450.7,160.3 448.7,158.3" fill="#ffffff"/>
<polygon points="524.7,119.7 543.3,119.7 543.3,125.0 541.3,127.0 536.7,127.0 535.3,125.0 530.7,124.3 529.3,122.3 525.3,121.7" fill="#ffffff"/>
<polygon points="547.3,119.7 559.3,119.7 559.3,122.3 550.7,122.6 550.0,125.0 547.3,125.0" fill="#ffffff"/>
<polygon points="618.7,140.0 622.0,136.0 627.3,133.3 632.7,130.7 642.0,130.0 642.7,132.0 634.0,134.0 630.0,136.7 626.0,141.3 623.3,143.3 618.7,143.3" fill="#ffffff"/>
<polygon points="711.3,116.3 720.7,116.3 721.3,119.0 727.3,119.7 728.0,121.7 738.7,122.3 738.7,127.0 728.0,127.0 726.7,122.7 714.0,122.3 711.3,119.7" fill="#ffffff"/>
<polygon points="682.0,305.0 684.7,305.0 686.3,311.0 686.0,315.7 682.0,315.7" fill="#ffffff"/>
<polygon points="747.3,277.7 752.0,277.7 752.0,281.0 749.3,283.0 747.3,282.3" fill="#ffffff"/>
<polygon points="772.7,264.3 777.3,264.3 777.3,270.3 772.7,270.3" fill="#ffffff"/>
<polygon points="822.7,188.0 825.7,188.0 826.0,195.3 827.6,196.0 827.6,200.7 825.7,201.3 825.5,210.0 822.7,210.0" fill="#60ff60"/>
<polygon points="821.3,214.7 823.3,212.7 826.0,214.7 830.0,215.3 829.3,218.0 826.0,220.0 822.7,220.0 820.7,218.0" fill="#ffffff"/>
<polygon points="822.7,220.7 823.3,226.0 820.7,228.7 820.7,238.0 815.3,238.7 812.7,240.7 803.3,242.7 802.0,244.7 799.3,245.3 798.0,248.7 796.0,249.3 795.3,242.7 798.0,239.3 803.3,236.7 808.7,233.3 815.3,228.7 818.0,223.3 819.3,220.7" fill="#ffffff"/>
<g stroke="#000" stroke-width="1.5" fill="none" stroke-linejoin="miter">
<line x1="227.0" y1="120.0" x2="227.0" y2="172.0" stroke-width="1.3"/>
<line x1="120.0" y1="172.0" x2="283.3" y2="172.0" stroke-width="1.8"/>
<polyline points="209.3,192.7 216.7,192.7 218.0,190.7 224.7,191.3 226.0,194.0 228.7,196.0 232.0,195.3 234.7,190.0 236.7,186.0 239.3,183.3 244.7,183.3 246.7,186.0 250.7,187.3 254.7,190.0 262.0,190.7 266.0,192.7 272.7,192.7 280.0,192.0 282.0,195.3 284.0,198.7"/>
<polyline points="283.3,172.0 283.3,193.3 285.3,199.3 290.0,201.3 294.0,204.0 304.7,204.9 352.0,204.5"/>
<line x1="272.8" y1="192.7" x2="272.8" y2="289.0" stroke-width="1.3"/>
<line x1="225.0" y1="233.3" x2="335.0" y2="233.3" stroke-width="1.8"/>
<polyline points="272.8,289.0 286.0,288.0 284.0,282.0 281.0,276.0"/>
<line x1="310.0" y1="336.5" x2="410.0" y2="336.5" stroke-width="1.8"/>
<line x1="347.7" y1="295.0" x2="347.7" y2="336.5" stroke-width="1.3"/>
<line x1="359.1" y1="336.5" x2="359.1" y2="373.0" stroke-width="1.3"/>
<polyline points="316.0,348.0 318.7,351.3 321.3,357.3 324.7,360.7 328.7,363.3 333.3,366.0 338.7,369.3 344.0,373.3 349.3,376.0 356.0,375.3 358.7,372.0"/>
<polyline points="358.7,372.0 364.0,370.7 365.3,367.3 378.7,366.7 380.0,364.7 383.3,364.0 385.3,358.7 388.0,357.3 388.7,352.7 392.0,352.0 393.3,347.3 396.0,346.0 396.7,343.3 402.7,342.7 405.3,340.7"/>
<line x1="381.6" y1="365.5" x2="381.6" y2="410.0" stroke-width="1.3"/>
<line x1="330.0" y1="410.0" x2="390.0" y2="410.0" stroke-width="1.8"/>
<line x1="352.0" y1="410.0" x2="352.0" y2="455.0" stroke-width="1.3"/>
<line x1="505.0" y1="190.7" x2="638.7" y2="190.7" stroke-width="1.8"/>
<line x1="586.3" y1="140.0" x2="586.3" y2="190.7" stroke-width="1.3"/>
<line x1="638.7" y1="140.0" x2="638.7" y2="268.0" stroke-width="1.3"/>
<line x1="568.0" y1="190.7" x2="568.0" y2="212.0" stroke-width="1.3"/>
<polyline points="592.7,215.3 598.0,214.0 608.7,209.3"/>
<polyline points="622.0,207.3 623.3,204.7 631.3,199.3 638.7,196.7"/>
<line x1="638.7" y1="172.0" x2="905.0" y2="172.0" stroke-width="1.8"/>
<line x1="757.0" y1="132.0" x2="757.0" y2="172.0" stroke-width="1.3"/>
<line x1="750.0" y1="172.0" x2="750.0" y2="200.0" stroke-width="1.3"/>
<polyline points="638.7,194.0 642.7,192.7 644.7,182.0 647.3,180.0 654.0,180.0 656.0,186.0 658.0,190.7 660.7,192.7 666.0,192.0 668.7,190.7 684.7,190.7 686.7,194.0 691.3,195.3 693.3,198.7 706.0,199.3 710.0,198.7 724.7,198.7 725.3,196.0 731.3,196.0 732.0,198.7 747.3,199.3 748.7,201.3 767.3,201.7 768.7,204.0 776.0,203.3 777.3,201.3 782.0,200.9 782.7,198.7 784.7,201.3 788.7,202.0 790.0,205.3 791.3,211.3 794.0,214.0 795.3,218.7 797.3,220.0"/>
<line x1="714.0" y1="198.7" x2="714.0" y2="260.3" stroke-width="1.3"/>
<line x1="638.7" y1="240.4" x2="714.0" y2="240.4" stroke-width="1.8"/>
<polyline points="704.7,271.0 707.1,267.0 707.3,263.7 710.0,262.3 714.7,260.3 718.0,261.7 722.0,263.7 723.3,267.0 727.3,269.7 735.3,269.9 736.7,267.7 740.7,267.0 743.3,264.3 747.3,263.7 749.3,261.7 752.7,261.0 754.0,259.7 768.7,259.0 773.3,257.0 778.0,255.0"/>
<polyline points="681.3,287.7 682.0,273.7 686.0,269.9 692.7,270.7 696.7,273.7"/>
<line x1="529.6" y1="238.0" x2="529.6" y2="291.2" stroke-width="1.3"/>
<line x1="455.0" y1="291.2" x2="600.0" y2="291.2" stroke-width="1.8"/>
<line x1="552.0" y1="291.2" x2="552.0" y2="327.7" stroke-width="1.3"/>
<line x1="520.0" y1="327.7" x2="605.0" y2="327.7" stroke-width="1.8"/>
<line x1="556.7" y1="327.7" x2="556.7" y2="425.0" stroke-width="1.3"/>
<line x1="525.0" y1="371.0" x2="595.0" y2="371.0" stroke-width="1.8"/>
<line x1="806.7" y1="362.0" x2="806.7" y2="399.7" stroke-width="1.3"/>
<line x1="756.0" y1="399.7" x2="850.0" y2="399.7" stroke-width="1.8"/>
<line x1="813.3" y1="399.7" x2="813.3" y2="426.0" stroke-width="1.3"/>
</g>
</g>
<polygon points="488.7,234.7 490.0,233.3 497.3,233.3 498.0,231.3 500.7,229.3 501.7,225.3 506.0,222.0 506.7,217.3 515.3,216.7 516.3,214.7 522.0,214.7 524.0,217.7 527.3,219.0 529.3,220.0 532.7,222.3 535.3,225.7 536.7,227.5 539.7,227.5 540.8,225.9 543.3,222.7 545.3,224.7 546.7,226.7 548.0,232.0 552.0,232.0 552.7,228.0 554.0,226.0 556.7,223.3 559.3,223.0 560.0,225.0 561.3,225.3 561.7,232.0 565.3,233.3 566.7,234.7 570.7,235.0 571.0,233.0 572.7,233.3 573.3,235.0 576.7,235.3 577.3,233.3 582.0,233.0 582.0,239.3 580.0,240.0 579.3,242.7 578.0,243.3 576.7,246.7 574.7,248.0 573.3,248.0 562.0,248.0 560.7,246.3 553.3,246.0 552.0,243.7 545.3,244.0 543.3,249.0 538.0,248.7 536.7,246.7 534.0,243.7 525.3,243.3 524.7,233.3 509.3,233.3 507.3,235.3 506.0,233.3 504.3,233.3 503.3,235.3 502.0,233.3 498.0,236.0 497.3,238.3 490.0,238.3 488.7,237.7" fill="#ffffff" stroke="#000" stroke-width="1.6"/>
<polygon points="530.0,212.5 532.7,212.9 536.8,217.9 536.8,220.1 535.3,220.1 531.3,215.5" fill="#ffffff" stroke="#000" stroke-width="1.6"/>
<polygon points="563.3,222.0 564.0,214.3 566.7,212.0 568.7,208.7 571.0,206.3 573.3,208.0 574.7,210.7 577.3,211.7 579.3,210.7 581.7,208.0 582.3,206.3 586.3,206.3 586.3,212.0 587.3,214.7 590.0,215.3 593.0,217.3 593.3,222.7 582.0,222.7 581.3,220.0 580.0,219.7 579.3,221.3 577.3,221.3 576.7,219.7 572.7,219.7 572.0,222.0 565.3,223.0 564.0,224.7 561.0,225.0 561.0,222.7" fill="#ffffff" stroke="#000" stroke-width="1.6"/>
<polygon points="608.0,212.3 610.0,209.0 615.3,207.7 620.7,207.7 620.0,211.0 616.0,213.0 616.7,216.3 620.7,218.3 623.3,220.3 622.7,223.7 620.7,225.7 622.0,229.7 620.0,235.0 617.3,231.7 613.3,230.3 612.0,223.7 613.3,221.0 611.3,217.0" fill="#ffffff" stroke="#000" stroke-width="1.6"/>
<polygon points="638.0,199.0 638.0,213.7 632.0,213.7 632.7,210.3 635.3,205.7" fill="#ffffff" stroke="#000" stroke-width="1.6"/>
<polygon points="576.0,251.0 580.0,257.7 582.0,258.3 584.7,265.7 588.7,273.7 592.0,280.3 595.3,285.7 598.0,288.3 598.0,292.0 598.7,297.3 596.7,296.7 594.0,293.3 591.3,287.0 587.3,280.3 584.0,272.3 581.3,265.7 578.7,259.0 576.7,253.7" fill="#ffffff" stroke="#000" stroke-width="1.6"/>
<polygon points="608.7,252.3 612.0,251.0 615.3,254.3 618.0,258.3 622.0,260.3 627.3,260.3 629.3,263.0 624.7,264.3 623.3,267.0 619.3,267.7 617.3,263.0 613.3,259.0 610.0,256.3" fill="#ffffff" stroke="#000" stroke-width="1.6"/>
<polygon points="556.7,156.7 551.3,156.7 549.3,160.0 546.0,162.0 545.3,165.3 540.7,166.0 539.3,169.3 542.0,171.3 543.3,175.3 540.7,176.0 539.3,178.7 535.3,181.3 532.7,183.3 530.0,181.3 527.3,176.7 522.7,176.0 519.3,177.3 518.0,181.3 521.3,179.3 524.0,181.3 524.7,186.0 530.0,186.7 531.3,184.7 538.0,184.0 539.3,185.3 543.3,184.7 544.0,188.0 546.7,187.3 548.7,182.0 551.3,181.3 552.0,178.0 555.3,176.7 556.7,173.3 551.3,172.7 550.0,170.0 550.7,164.7 552.7,162.0 556.7,160.7" fill="#b9b9ff" stroke="#000" stroke-width="1.6"/>
<polygon points="580.0,154.0 588.7,153.3 589.3,156.0 586.0,156.7 584.7,160.7 580.0,161.3" fill="#ffffff" stroke="#000" stroke-width="1.6"/>
<polygon points="572.7,330.4 577.3,330.4 577.3,336.0 575.3,339.3 572.7,338.7" fill="#ffffff" stroke="#000" stroke-width="1.6"/>
<polygon points="565.3,344.0 568.7,344.0 568.7,350.0 565.3,350.0" fill="#ffffff" stroke="#000" stroke-width="1.6"/>
<polygon points="576.7,360.0 580.0,360.0 580.0,368.7 576.7,368.7" fill="#ffffff" stroke="#000" stroke-width="1.6"/>
<polygon points="529.3,293.3 534.7,293.3 534.7,297.3 529.3,297.3" fill="#ffffff" stroke="#000" stroke-width="1.6"/>
<polygon points="740.0,193.7 741.3,189.7 746.7,187.0 748.0,182.3 750.7,181.7 750.7,187.0 746.7,191.0 743.3,193.7" fill="#ffffff" stroke="#000" stroke-width="1.6"/>
<polygon points="663.3,137.7 666.0,137.7 666.7,140.3 670.0,141.0 670.0,148.3 668.0,154.3 663.3,154.3 664.0,148.3 666.0,147.0 666.0,141.7 663.3,141.0" fill="#ffffff" stroke="#000" stroke-width="1.6"/>
<polygon points="220.0,157.0 221.5,154.5 226.5,154.5 226.5,159.5 220.0,159.5" fill="#ffffff" stroke="#000" stroke-width="1.6"/>
<polygon points="284.7,171.6 290.2,166.0 295.3,163.5 302.9,158.4 308.0,157.9 309.2,162.2 314.3,160.9 314.3,149.5 319.4,147.0 323.2,149.5 323.7,163.5 327.0,166.0 325.7,176.1 327.0,182.5 323.2,185.0 321.9,191.3 318.1,193.3 314.3,187.5 309.2,185.0 300.4,179.9 295.3,176.1 287.7,174.9" fill="#ffffff" stroke="#000" stroke-width="1.6"/>
<polygon points="324.4,164.0 342.2,164.0 343.4,168.0 324.4,168.0" fill="#ffffff" stroke="#000" stroke-width="1.6"/>
<polygon points="295.0,205.0 300.0,202.0 305.0,205.0 306.0,210.0 303.0,212.0 304.0,220.0 300.0,220.0 299.6,211.0 296.0,208.0" fill="#ffffff" stroke="#000" stroke-width="1.6"/>
<polygon points="309.0,210.0 318.0,210.0 318.0,212.4 314.0,213.0 314.0,218.0 311.6,218.0 311.0,212.4 309.0,212.4" fill="#ffffff" stroke="#000" stroke-width="1.6"/>
<polygon points="320.0,214.4 325.0,214.4 325.0,217.4 320.0,217.4" fill="#ffffff" stroke="#000" stroke-width="1.6"/>
<polygon points="238.4,166.6 243.6,166.6 243.6,169.6 238.4,169.6" fill="#ffffff" stroke="#000" stroke-width="1.6"/>
<polygon points="265.0,177.0 269.0,177.0 269.0,181.0 265.0,181.0" fill="#ffffff" stroke="#000" stroke-width="1.6"/>
<polygon points="570.7,166.7 575.3,167.3 575.3,172.7 573.3,172.0 572.7,169.3 570.7,169.3" fill="#ffffff" stroke="#000" stroke-width="1.6"/>
<polygon points="579.3,164.0 584.0,166.0 584.7,170.0 582.0,170.0 581.3,167.3 579.3,166.7" fill="#ffffff" stroke="#000" stroke-width="1.6"/>
<polygon points="563.3,172.0 566.7,172.0 566.7,178.0 563.3,178.0" fill="#ffffff" stroke="#000" stroke-width="1.6"/>
<polyline points="530.0,210.0 532.7,210.7 536.7,214.3 541.3,217.3 543.3,220.0 545.3,224.7" fill="none" stroke="#000" stroke-width="1.8"/>
<polygon points="518.5,222.5 522.8,222.5 522.8,227.9 518.5,227.9" fill="#b0ffb0" stroke="#000" stroke-width="1.5"/>
<polygon points="520.5,217.0 522.5,217.0 522.5,219.9 520.5,219.9" fill="#b0ffb0" stroke="#000" stroke-width="1.5"/>
<polygon points="531.7,229.7 534.5,229.7 534.5,233.2 531.7,233.2" fill="#b0ffb0" stroke="#000" stroke-width="1.5"/>
<polygon points="572.5,238.3 575.9,238.3 575.9,241.9 572.5,241.9" fill="#ffffff" stroke="#000" stroke-width="1.5"/>
<path d="M226.7 145.3 L218.0 145.3 L215.3 147.3 L214.7 146.0 L192.7 146.0 L192.0 148.3 L184.0 148.3 L183.3 145.6 L164.0 145.6 L163.3 142.9 L136.7 142.9 L136.0 145.3 L129.3 146.0 L128.7 148.0 L124.7 149.3 L124.7 152.0 L132.0 153.3 L132.0 155.3 L128.7 156.0 L128.7 158.7 L134.0 159.3 L134.0 162.0 L128.7 162.7 L128.0 164.7 L123.3 165.3 L122.7 168.7 L124.7 172.0 L130.7 172.7 L131.3 174.9 L142.7 175.7 L140.7 179.7 L136.7 180.0 L135.3 182.4 L129.3 182.7 L129.3 186.0 L136.0 186.0 L136.7 183.7 L140.0 182.9 L141.3 181.1 L145.3 180.7 L146.7 178.7 L150.7 178.7 L150.7 173.3 L154.7 173.1 L155.3 175.3 L159.3 175.3 L159.6 173.1 L183.3 173.1 L186.0 175.3 L190.7 176.7 L192.7 179.3 L198.7 178.7 L201.3 180.0 L202.0 184.7 L204.7 186.0 L205.3 190.7 L209.3 192.0 L210.0 198.7 L213.3 200.7 L214.7 202.7 L218.0 204.0 L218.7 216.7 L216.0 217.3 L216.0 220.0 L218.7 220.7 L219.3 227.3 L221.3 228.7 L222.0 232.0 L224.7 233.3 L226.7 236.7 L229.3 240.0 L224.0 237.0 L228.0 241.0 L233.3 245.0 L235.3 248.3 L242.7 253.7 L248.7 259.7 L253.3 265.0 L258.0 271.0 L260.0 276.3 L263.3 280.3 L264.7 283.0 L272.7 283.4 L273.3 286.3 L276.0 289.0 L286.7 289.7 L289.3 291.7 L292.7 294.3 L298.0 296.3 L300.0 298.3 L304.7 299.7 L306.7 303.7 L312.0 305.7 L313.3 309.0 L318.7 309.7 L320.7 311.3 L323.3 312.7 L324.7 318.7 L324.7 323.3 L320.7 324.7 L320.0 328.7 L317.3 331.3 L316.0 336.7 L316.0 349.3 L318.7 351.3 L321.3 357.3 L324.7 360.7 L326.7 365.3 L328.7 370.7 L333.3 373.3 L336.0 378.0 L332.0 371.3 L335.3 375.3 L338.7 378.0 L340.0 382.7 L341.3 384.7 L340.7 391.3 L338.7 394.0 L338.7 410.0 L336.7 411.3 L336.0 423.3 L333.3 424.7 L332.7 431.3 L332.0 430.0 L333.0 436.0 L332.0 437.5 L334.0 439.0 L334.0 445.0 L332.0 447.5 L330.0 448.0 L330.0 454.0 L327.0 456.0 L327.5 462.0 L330.0 465.0 L332.0 470.0 L335.0 473.0 L339.0 474.5 L339.5 476.5 L349.5 477.0 L349.5 474.0 L347.0 471.0 L345.5 468.5 L345.5 460.0 L349.0 459.0 L348.5 455.5 L347.5 451.5 L351.0 447.0 L351.5 444.0 L354.5 444.0 L355.5 442.0 L358.0 439.0 L359.0 435.0 L368.0 434.0 L369.0 431.0 L371.0 430.0 L372.0 428.7 L374.7 423.3 L378.7 420.0 L384.0 412.7 L385.3 408.7 L390.0 406.0 L390.7 398.0 L392.7 395.3 L397.3 394.7 L398.7 392.0 L406.0 391.3 L408.0 387.3 L409.3 382.7 L411.3 380.7 L411.3 370.0 L411.3 366.0 L414.0 364.7 L416.0 361.3 L417.3 358.0 L420.7 356.7 L420.7 345.3 L416.0 344.7 L413.3 342.7 L411.3 340.0 L405.3 339.3 L402.7 337.3 L398.0 335.3 L396.0 333.3 L389.3 333.3 L388.0 330.7 L385.3 326.0 L383.3 320.0 L380.0 318.0 L377.3 316.0 L372.7 314.7 L369.3 312.7 L365.3 308.7 L362.0 306.7 L360.7 302.0 L356.0 302.0 L353.3 304.7 L348.0 302.7 L344.0 302.0 L342.7 300.0 L338.7 300.0 L334.0 299.3 L333.3 301.3 L328.0 302.0 L326.7 305.3 L320.0 305.3 L319.3 305.0 L318.7 307.0 L315.3 306.3 L313.3 303.7 L310.7 301.0 L308.7 297.0 L310.7 294.3 L309.3 290.3 L305.3 289.0 L300.7 287.7 L300.0 282.3 L302.0 278.3 L301.6 273.0 L298.0 272.7 L297.3 275.0 L293.3 275.7 L292.7 278.3 L286.7 281.7 L284.0 282.3 L281.3 277.0 L278.7 273.0 L277.3 269.0 L277.6 265.0 L280.0 263.0 L279.3 258.3 L282.7 255.0 L286.0 253.7 L286.7 251.7 L290.7 251.7 L292.7 253.7 L295.3 251.7 L310.7 251.7 L312.0 255.0 L312.7 259.0 L315.3 261.0 L315.7 265.0 L318.4 265.0 L318.7 260.3 L316.7 258.3 L316.0 250.3 L318.0 246.3 L321.3 241.7 L325.3 238.3 L326.7 233.0 L330.0 229.7 L331.3 225.0 L328.0 232.0 L331.3 228.0 L334.0 222.7 L338.7 221.3 L340.0 216.7 L346.0 215.3 L347.3 212.7 L352.7 212.0 L353.3 217.3 L358.7 211.3 L362.7 210.0 L363.3 206.7 L360.7 206.0 L356.0 206.7 L354.0 204.0 L356.7 202.0 L361.3 201.3 L366.0 202.0 L367.3 203.3 L372.7 203.3 L373.3 206.7 L379.3 206.7 L379.3 202.7 L376.7 200.0 L372.7 199.3 L372.0 197.3 L375.3 193.3 L375.3 188.7 L371.3 188.0 L370.7 185.3 L363.3 184.7 L362.7 181.3 L359.3 180.0 L357.3 176.0 L355.3 173.3 L351.3 172.0 L349.3 175.3 L346.0 176.0 L344.0 172.7 L343.3 166.7 L342.0 168.0 L343.0 167.0 L346.0 166.5 L347.0 164.0 L351.0 163.0 L352.0 158.0 L357.0 157.5 L358.5 154.5 L355.0 154.0 L354.0 150.5 L346.0 149.5 L344.0 146.5 L341.0 143.5 L335.5 143.0 L334.0 140.0 L330.0 138.5 L328.0 138.5 L327.0 140.5 L315.0 140.0 L315.0 137.5 L312.5 137.0 L310.0 136.0 L307.5 136.5 L306.0 139.0 L304.5 140.0 L304.0 136.0 L298.0 136.5 L295.5 139.0 L296.0 142.0 L298.0 144.5 L302.0 145.0 L304.0 147.0 L303.0 152.0 L300.0 153.5 L299.5 149.0 L296.0 148.0 L292.0 145.5 L288.5 141.5 L288.0 139.0 L290.0 138.5 L290.0 136.0 L284.0 137.0 L283.0 140.0 L284.0 143.0 L286.0 147.0 L286.0 152.0 L283.0 154.0 L282.0 148.0 L278.0 148.0 L276.0 151.5 L268.0 151.0 L268.0 149.0 L267.0 147.0 L265.0 144.0 L261.0 143.0 L260.5 138.2 L254.5 138.2 L254.0 141.0 L250.5 141.0 L250.0 138.2 L247.5 138.2 L247.0 141.0 L242.5 141.0 L242.0 138.2 L235.5 138.0 L235.0 136.5 L228.0 136.5 L228.0 139.5 L231.5 140.0 L232.0 143.0 L235.5 143.5 L235.5 147.5 L227.0 147.5ZM218.0 134.5 L222.5 134.5 L223.0 133.0 L224.5 133.0 L225.0 134.5 L226.5 136.0 L226.5 140.0 L224.0 142.0 L218.0 142.0 L215.5 140.0 L215.5 137.5 L218.0 136.0ZM222.5 127.0 L228.5 127.0 L229.0 124.5 L231.5 124.5 L232.0 127.0 L234.0 127.5 L234.0 129.5 L258.0 129.5 L258.5 132.5 L245.0 132.5 L244.0 134.5 L242.5 132.5 L234.0 132.2 L233.5 130.0 L222.5 130.0ZM242.5 124.5 L247.5 124.5 L247.5 127.0 L242.5 127.0ZM263.0 121.5 L272.5 121.5 L272.5 124.5 L263.0 124.5ZM276.5 121.5 L281.0 121.5 L281.0 124.5 L276.5 124.5ZM272.5 127.0 L276.5 127.0 L276.5 130.0 L274.5 132.5 L272.5 132.0ZM281.5 126.5 L285.5 126.5 L285.5 132.5 L281.5 132.5ZM283.5 116.0 L292.0 116.0 L292.5 118.5 L315.0 118.5 L315.0 121.5 L312.5 122.0 L312.5 124.0 L315.0 124.5 L315.5 132.0 L299.0 132.5 L298.0 131.0 L290.0 130.5 L289.5 128.0 L295.0 127.0 L295.5 124.0 L288.0 123.5 L287.5 121.5 L283.5 121.5ZM295.0 113.5 L312.5 113.5 L312.5 116.0 L295.0 116.0ZM268.5 135.5 L276.0 135.2 L278.0 138.0 L278.0 140.0 L276.0 142.0 L274.0 142.0 L274.0 140.0 L268.0 140.0 L267.0 138.0ZM238.0 149.0 L256.0 148.5 L256.5 146.0 L258.5 146.0 L258.5 149.0 L256.0 151.5 L254.0 152.0 L253.0 154.0 L251.5 152.0 L238.0 151.5ZM315.0 135.0 L324.0 135.0 L324.5 137.0 L329.0 137.5 L329.0 140.0 L315.0 140.5ZM343.0 129.5 L343.5 118.0 L348.0 118.0 L349.0 121.5 L353.0 121.0 L352.5 116.0 L345.0 116.0 L344.0 118.8 L330.0 119.0 L329.0 122.0 L324.0 124.0 L321.0 129.0 L318.0 132.0 L317.0 130.0 L317.0 124.0 L316.0 115.0 L313.5 113.0 L313.5 110.8 L359.0 110.8 L359.5 113.5 L377.0 113.5 L378.0 117.0 L380.0 113.5 L393.0 113.0 L394.0 111.5 L400.0 111.0 L402.0 114.0 L403.5 112.0 L407.0 112.0 L415.3 111.3 L416.0 108.6 L436.7 108.6 L437.3 111.3 L448.0 111.3 L450.7 116.3 L452.7 114.3 L470.7 114.1 L470.7 117.0 L462.7 117.0 L461.3 119.7 L456.7 120.3 L456.0 123.0 L452.7 123.7 L454.7 127.0 L456.0 130.3 L455.3 133.7 L452.7 135.0 L452.0 137.7 L450.7 139.0 L450.7 145.0 L445.3 147.0 L437.3 147.7 L436.0 149.7 L425.3 150.3 L424.7 153.0 L422.7 153.7 L422.0 156.3 L410.0 156.6 L408.7 158.3 L407.3 161.7 L405.3 164.3 L404.0 167.7 L402.0 171.7 L396.0 172.1 L394.7 169.7 L391.3 167.7 L387.3 166.3 L385.3 163.0 L382.0 159.0 L380.0 157.0 L377.3 156.3 L377.3 149.7 L381.3 149.0 L381.3 146.3 L378.0 145.0 L376.7 141.0 L374.0 140.3 L372.7 133.7 L368.7 131.0 L368.0 129.7 L360.0 129.7ZM447.3 156.3 L468.7 156.3 L468.7 161.0 L460.0 161.7 L459.3 164.3 L455.3 164.3 L454.7 161.7 L450.7 160.3 L448.7 158.3ZM524.7 119.7 L543.3 119.7 L543.3 125.0 L541.3 127.0 L536.7 127.0 L535.3 125.0 L530.7 124.3 L529.3 122.3 L525.3 121.7ZM547.3 119.7 L559.3 119.7 L559.3 122.3 L550.7 122.6 L550.0 125.0 L547.3 125.0ZM618.7 140.0 L622.0 136.0 L627.3 133.3 L632.7 130.7 L642.0 130.0 L642.7 132.0 L634.0 134.0 L630.0 136.7 L626.0 141.3 L623.3 143.3 L618.7 143.3ZM313.3 270.3 L320.0 270.3 L325.3 275.0 L330.0 275.7 L330.0 278.3 L325.3 278.3 L321.3 274.3 L313.3 272.3ZM308.7 270.1 L311.3 270.1 L311.3 272.7 L308.7 272.7ZM334.0 279.0 L340.7 279.0 L343.3 283.0 L334.0 283.4ZM322.0 280.7 L325.3 280.7 L325.3 283.4 L322.0 283.4ZM347.3 280.7 L350.4 280.7 L350.4 283.7 L347.3 283.7ZM238.0 249.0 L242.7 249.0 L244.0 253.7 L246.0 256.3 L247.3 261.0 L249.3 265.0 L250.4 269.7 L247.7 270.3 L246.0 265.7 L242.7 261.0 L240.0 256.3 L238.7 253.0ZM365.5 465.8 L368.5 465.8 L368.5 469.0 L365.5 469.0ZM154.7 173.1 L159.3 173.1 L159.3 175.3 L155.3 175.3ZM90.5 538.0 L143.0 538.0 L144.0 534.4 L170.0 534.0 L171.0 531.6 L182.0 531.0 L183.0 529.0 L214.0 528.6 L215.0 526.6 L249.0 526.6 L250.4 529.4 L275.0 529.0 L276.0 526.4 L280.0 525.0 L281.0 521.6 L292.4 521.6 L293.6 524.4 L338.0 524.0 L338.0 521.0 L337.0 513.6 L343.0 513.6 L344.0 516.0 L348.0 512.0 L349.0 510.0 L354.0 510.0 L355.0 513.0 L363.0 514.0 L365.0 518.0 L370.0 519.0 L370.0 525.0 L366.0 527.0 L367.0 531.0 L374.0 533.0 L376.0 535.0 L388.0 535.0 L390.0 538.0 L426.0 538.0 L428.0 535.0 L436.0 534.0 L438.0 531.6 L446.0 531.0 L448.0 528.4 L456.0 527.6 L458.0 525.0 L472.0 524.4 L475.0 522.0 L484.0 521.0 L485.0 518.6 L493.0 518.0 L494.0 516.4 L571.0 516.0 L572.0 513.6 L584.0 513.6 L585.0 516.4 L588.0 516.4 L590.0 513.6 L594.0 511.0 L604.0 510.4 L605.6 508.0 L613.0 507.6 L614.4 505.4 L628.0 505.4 L630.0 508.0 L651.0 508.0 L653.0 511.0 L661.0 511.4 L662.0 514.0 L676.0 514.0 L678.0 511.0 L685.6 510.4 L687.0 508.0 L689.0 505.6 L726.0 505.6 L728.0 503.0 L733.0 503.0 L734.4 505.6 L734.0 505.3 L745.3 505.6 L746.0 508.3 L750.0 508.3 L750.7 505.6 L765.3 505.6 L766.0 508.3 L781.3 508.3 L782.0 505.6 L788.7 505.6 L789.3 508.3 L795.3 508.3 L796.0 505.6 L820.7 505.6 L821.3 508.3 L832.0 508.5 L832.7 511.3 L848.0 511.6 L848.7 514.4 L864.0 514.7 L866.0 518.9 L884.7 518.9 L886.0 522.7 L882.0 524.7 L881.3 526.9 L875.3 527.3 L874.0 529.6 L870.7 530.0 L870.7 534.9 L888.7 534.9 L889.3 537.7 L908.7 537.7 L912.0 538.0 L912.0 572.0 L88.0 572.0 L88.0 538.0ZM350.0 505.0 L358.0 504.0 L360.0 500.0 L368.0 500.0 L368.0 503.0 L361.0 504.0 L359.0 507.0 L351.0 508.0ZM912.0 145.7 L912.0 155.7 L905.3 157.7 L905.3 167.0 L900.0 167.7 L898.7 169.7 L893.3 169.7 L892.0 171.7 L885.3 172.3 L884.7 170.3 L878.7 170.3 L877.3 172.3 L873.3 172.3 L870.0 172.7 L871.3 178.0 L869.3 184.7 L864.7 187.3 L860.7 192.7 L858.0 196.7 L854.7 193.3 L854.7 183.3 L856.0 179.3 L853.3 176.3 L852.0 175.0 L849.3 175.0 L848.7 173.0 L844.0 173.7 L838.7 173.7 L837.3 175.0 L821.3 175.0 L820.7 174.7 L819.3 177.3 L815.3 179.3 L814.0 183.3 L811.3 186.7 L812.7 188.0 L820.7 188.0 L821.3 200.7 L816.7 204.7 L812.7 209.3 L808.7 212.7 L806.0 216.7 L797.3 220.0 L794.0 223.3 L791.3 228.7 L792.7 232.0 L792.7 238.0 L789.3 239.3 L787.3 241.3 L786.7 235.3 L784.7 230.0 L782.0 226.0 L778.7 226.0 L777.3 222.7 L774.0 223.3 L772.7 226.0 L768.7 227.3 L768.7 230.7 L772.7 232.7 L776.7 232.7 L774.0 236.7 L773.3 241.3 L776.0 243.3 L775.3 250.0 L777.3 252.7 L776.0 256.7 L772.7 262.0 L768.7 266.0 L768.7 265.0 L764.7 268.3 L761.3 270.3 L751.3 275.0 L748.7 275.0 L747.3 273.0 L744.7 275.0 L741.3 276.3 L741.3 282.3 L743.3 284.3 L746.0 288.3 L748.7 292.3 L747.3 301.7 L743.3 303.0 L740.7 307.0 L738.7 304.3 L735.3 301.7 L734.0 297.7 L729.3 297.7 L728.7 304.3 L731.3 312.3 L735.3 316.3 L736.0 323.0 L735.3 328.3 L732.7 329.0 L731.3 325.7 L728.7 320.3 L728.7 313.7 L726.0 311.0 L723.3 304.3 L724.7 297.7 L722.0 291.7 L719.3 289.7 L714.0 288.3 L712.0 277.7 L708.7 275.0 L707.3 271.7 L704.7 271.0 L696.7 273.7 L694.0 277.7 L689.3 281.7 L686.0 286.3 L681.3 288.3 L681.3 304.3 L678.7 306.3 L673.3 307.0 L674.0 300.3 L671.3 297.7 L669.3 291.0 L667.3 287.0 L666.0 275.7 L660.0 275.0 L658.0 272.3 L654.7 268.3 L650.7 265.4 L636.0 265.0 L635.3 263.7 L630.0 263.7 L629.3 263.3 L629.3 265.7 L634.0 267.7 L636.0 269.7 L634.0 275.0 L631.3 280.3 L627.3 282.3 L624.7 285.7 L619.3 287.0 L616.7 290.3 L608.7 295.0 L606.0 294.7 L602.0 296.7 L598.0 297.3 L598.0 302.0 L600.7 304.7 L603.3 302.7 L611.3 302.0 L614.0 300.0 L616.7 300.0 L616.0 306.7 L613.3 308.7 L611.3 314.0 L609.3 316.7 L606.0 322.7 L602.0 326.7 L599.3 330.0 L595.3 331.3 L594.7 336.7 L591.3 339.3 L588.7 342.7 L588.7 356.0 L591.3 359.3 L592.7 365.3 L591.3 372.0 L587.3 376.0 L584.7 377.7 L583.3 381.0 L580.0 381.7 L580.0 387.7 L582.0 390.3 L580.0 392.3 L579.3 396.3 L576.0 397.0 L574.0 404.3 L572.0 408.3 L568.7 413.0 L564.7 417.7 L560.0 419.0 L558.7 421.7 L546.0 421.7 L545.3 423.7 L543.3 422.3 L542.0 417.7 L540.0 413.0 L538.0 407.7 L535.3 404.3 L534.7 398.3 L532.7 393.7 L530.7 387.7 L528.7 381.7 L526.7 379.0 L527.3 370.3 L527.3 372.0 L528.7 368.0 L530.7 362.7 L531.3 357.3 L528.7 350.0 L527.3 344.0 L524.0 338.7 L521.3 334.7 L521.3 330.0 L523.3 327.3 L522.7 320.7 L519.3 318.0 L516.0 318.7 L514.0 314.7 L510.0 312.7 L509.3 314.0 L500.0 314.0 L498.7 315.3 L492.0 316.0 L486.0 317.3 L483.3 320.7 L482.0 318.0 L478.0 316.7 L474.7 313.3 L470.7 311.3 L470.0 306.7 L466.7 304.0 L464.0 302.0 L462.0 298.7 L462.0 291.3 L463.3 286.7 L462.0 286.0 L463.3 280.3 L462.0 277.7 L462.0 270.3 L466.0 267.7 L466.7 262.3 L470.0 260.3 L471.3 258.3 L474.7 256.3 L477.3 253.7 L478.7 247.7 L480.7 245.0 L483.3 243.7 L485.3 241.0 L486.0 238.3 L488.7 237.7 L488.7 234.7 L480.0 233.0 L480.0 215.0 L488.0 215.0 L488.7 216.3 L496.0 215.7 L497.3 213.0 L497.3 208.3 L494.7 205.0 L494.0 200.3 L490.0 200.3 L489.3 202.0 L496.0 201.3 L496.7 199.3 L503.3 198.0 L505.3 195.3 L509.3 194.0 L511.3 191.3 L516.7 189.3 L517.3 186.0 L518.0 181.3 L519.3 177.3 L514.0 176.0 L512.0 173.3 L512.0 168.7 L513.3 166.0 L519.3 164.0 L524.0 162.7 L524.7 158.7 L527.3 156.7 L528.7 154.0 L532.7 153.3 L534.0 150.0 L540.7 148.7 L542.0 146.0 L554.0 145.3 L555.3 143.1 L568.0 143.1 L569.3 145.3 L572.7 146.0 L573.3 148.0 L586.0 148.7 L586.7 151.3 L592.7 151.3 L592.7 154.7 L596.7 154.0 L597.3 156.0 L600.7 155.3 L600.7 149.3 L604.7 148.7 L605.3 152.0 L608.0 153.3 L610.0 151.3 L622.0 150.7 L622.7 148.7 L624.7 151.3 L627.3 150.0 L636.7 147.3 L638.7 146.7 L650.0 146.7 L651.3 143.3 L656.0 142.7 L658.0 138.7 L664.7 138.0 L666.0 140.7 L670.0 141.3 L671.3 138.0 L675.3 139.3 L682.7 138.0 L684.7 135.3 L698.0 134.7 L700.7 132.0 L704.7 129.4 L726.7 129.4 L728.0 127.0 L734.7 126.3 L736.7 125.0 L738.7 127.0 L754.7 127.0 L756.0 129.4 L759.3 129.9 L759.3 134.3 L768.0 135.0 L768.7 137.7 L781.3 137.7 L782.0 135.0 L785.3 135.0 L786.0 137.0 L788.0 135.0 L791.3 136.3 L793.3 139.0 L794.0 143.0 L799.3 143.0 L800.0 140.3 L803.3 140.3 L804.0 143.0 L807.3 142.3 L808.0 139.7 L813.3 139.7 L814.7 142.3 L818.0 142.3 L818.7 137.7 L821.3 135.0 L824.7 135.0 L826.0 137.7 L829.3 138.3 L830.0 140.3 L840.7 141.0 L841.3 143.0 L863.3 143.3 L864.7 146.3 L866.7 148.3 L868.7 146.3 L881.3 146.3 L882.0 148.3 L888.0 148.3 L888.7 146.3 L905.3 146.3ZM86.0 149.0 L95.0 149.0 L96.0 151.0 L102.0 151.2 L103.0 155.5 L104.5 156.0 L105.0 154.0 L111.5 154.0 L111.5 159.0 L107.0 159.5 L106.5 162.0 L104.5 162.5 L104.0 160.0 L100.5 159.0 L100.0 157.0 L86.0 157.0ZM86.0 140.0 L95.5 140.0 L95.5 143.2 L86.0 143.5ZM711.3 116.3 L720.7 116.3 L721.3 119.0 L727.3 119.7 L728.0 121.7 L738.7 122.3 L738.7 127.0 L728.0 127.0 L726.7 122.7 L714.0 122.3 L711.3 119.7ZM811.3 129.4 L830.0 129.4 L830.0 133.0 L811.3 133.0ZM833.3 129.4 L836.7 129.4 L836.7 133.0 L833.3 133.0ZM822.7 188.0 L825.7 188.0 L826.0 195.3 L827.6 196.0 L827.6 200.7 L825.7 201.3 L825.5 210.0 L822.7 210.0ZM821.3 214.7 L823.3 212.7 L826.0 214.7 L830.0 215.3 L829.3 218.0 L826.0 220.0 L822.7 220.0 L820.7 218.0ZM822.7 220.7 L823.3 226.0 L820.7 228.7 L820.7 238.0 L815.3 238.7 L812.7 240.7 L803.3 242.7 L802.0 244.7 L799.3 245.3 L798.0 248.7 L796.0 249.3 L795.3 242.7 L798.0 239.3 L803.3 236.7 L808.7 233.3 L815.3 228.7 L818.0 223.3 L819.3 220.7ZM772.7 264.3 L777.3 264.3 L777.3 270.3 L772.7 270.3ZM747.3 277.7 L752.0 277.7 L752.0 281.0 L749.3 283.0 L747.3 282.3ZM774.0 281.0 L777.3 281.0 L777.3 293.7 L774.7 293.7 L772.7 288.3 L773.3 284.3ZM777.3 299.7 L784.7 299.7 L784.7 301.7 L777.3 301.7ZM779.1 293.7 L782.0 293.7 L782.0 297.0 L779.1 297.0ZM782.0 301.7 L783.3 306.3 L786.7 307.0 L786.0 315.0 L782.0 315.0 L781.3 309.7 L780.0 307.7ZM682.0 305.0 L684.7 305.0 L686.3 311.0 L686.0 315.7 L682.0 315.7ZM487.3 176.7 L489.3 174.4 L493.3 174.4 L494.7 177.3 L496.0 182.7 L499.3 187.3 L500.7 190.7 L504.7 191.3 L504.0 194.0 L500.7 194.7 L500.0 197.3 L490.0 197.3 L489.3 194.7 L492.0 194.0 L492.0 191.3 L488.7 190.7 L489.3 185.3 L486.7 180.0ZM477.3 188.0 L480.0 185.3 L486.0 185.1 L487.3 189.3 L486.0 192.7 L480.0 193.3 L479.3 195.3 L477.3 194.7ZM611.3 362.7 L613.3 362.7 L614.0 371.0 L613.3 378.3 L611.3 385.0 L609.3 391.0 L608.0 395.7 L604.0 400.3 L601.3 398.3 L600.0 392.3 L598.0 391.0 L598.7 389.0 L600.7 389.0 L600.7 374.3 L604.7 373.0 L605.3 370.3 L608.7 369.7 L609.3 365.3ZM718.0 318.7 L721.3 317.3 L725.3 322.0 L728.7 326.7 L733.3 331.3 L738.7 336.0 L742.7 338.0 L742.0 342.7 L740.7 346.7 L736.0 346.0 L733.3 342.0 L730.0 338.7 L727.3 334.0 L724.0 328.7 L720.7 322.7ZM741.3 347.3 L746.7 347.3 L748.0 350.0 L758.7 350.7 L760.7 353.3 L760.0 355.3 L756.7 354.9 L755.3 352.7 L746.7 352.0 L744.0 351.3 L742.0 350.0ZM762.7 352.0 L766.7 352.0 L766.7 355.3 L762.7 355.3ZM768.0 352.7 L771.3 352.7 L772.7 358.0 L770.0 358.0 L768.7 355.3ZM748.0 326.7 L751.3 324.7 L756.7 322.0 L758.7 318.7 L763.3 317.3 L764.0 312.7 L768.7 312.7 L770.7 316.7 L768.0 318.0 L768.7 325.3 L770.0 327.3 L766.7 330.0 L765.3 338.7 L762.7 340.0 L760.0 338.7 L750.7 338.7 L749.3 332.0ZM770.7 333.3 L777.3 333.3 L777.3 340.0 L774.7 340.0 L774.0 344.0 L771.3 344.0ZM772.7 328.0 L782.7 328.0 L782.7 330.0 L772.7 330.0ZM788.7 326.0 L791.3 326.0 L793.3 330.0 L790.0 330.0ZM782.0 354.0 L784.7 352.0 L788.7 352.3 L788.7 354.9 L784.7 355.3 L783.3 357.6 L781.6 357.3ZM798.0 332.7 L802.0 332.7 L808.0 340.0 L806.0 340.7 L800.0 336.7ZM786.7 338.7 L788.7 338.7 L788.7 340.7 L786.7 340.7ZM793.3 338.7 L797.3 338.7 L797.3 340.7 L793.3 340.7ZM808.0 340.0 L810.0 337.3 L820.0 336.7 L821.3 338.7 L827.3 339.3 L830.0 341.3 L832.0 346.0 L835.3 347.3 L835.3 350.0 L829.3 351.3 L826.7 354.0 L818.7 354.7 L817.3 352.0 L814.0 351.3 L813.3 346.7 L810.0 344.0ZM838.7 344.7 L845.3 344.7 L845.3 347.3 L838.7 347.3ZM834.0 350.7 L835.3 354.0 L840.7 354.7 L840.7 357.3 L834.0 357.3ZM851.3 346.0 L855.3 346.0 L855.3 350.0 L851.3 350.0ZM756.7 400.0 L757.3 393.3 L760.0 392.0 L761.3 386.7 L766.7 386.0 L768.7 383.3 L774.7 382.7 L776.7 376.0 L781.3 375.3 L783.3 368.7 L793.3 368.7 L794.7 366.0 L797.3 364.0 L797.3 360.7 L800.7 360.0 L802.0 362.0 L808.0 362.7 L808.7 369.3 L812.0 372.0 L814.0 376.0 L820.0 376.0 L821.3 365.3 L823.3 363.3 L826.0 364.0 L826.0 368.0 L830.0 368.7 L831.3 377.3 L835.3 380.0 L836.7 385.3 L841.3 388.0 L843.3 393.3 L846.7 396.0 L846.0 395.7 L848.0 399.7 L848.7 405.0 L850.0 406.3 L848.0 409.0 L847.3 416.3 L845.3 421.0 L842.0 423.7 L841.3 431.0 L836.0 431.7 L833.3 434.3 L829.3 432.3 L826.7 433.7 L824.0 434.3 L822.0 431.7 L819.3 431.0 L817.3 427.7 L814.0 423.7 L813.3 426.3 L811.3 425.7 L810.7 421.0 L808.7 423.0 L806.7 422.3 L806.7 418.3 L804.0 416.3 L786.7 416.3 L785.3 417.7 L780.0 418.3 L778.7 421.0 L771.3 421.7 L770.7 423.7 L761.3 423.7 L761.3 417.7 L763.3 416.3 L762.7 409.0 L759.3 407.7 L758.7 399.7 L756.7 397.0ZM829.3 439.7 L835.3 439.7 L835.3 445.0 L834.0 447.7 L831.3 447.0 L830.0 443.7ZM892.7 423.7 L895.3 423.7 L897.3 427.7 L900.0 429.7 L904.7 431.0 L905.3 434.3 L902.7 437.0 L901.3 441.0 L898.0 442.3 L896.0 437.7 L896.7 433.0 L894.0 427.7ZM890.7 439.7 L895.3 439.7 L894.7 445.0 L891.3 448.3 L888.0 450.3 L886.7 454.3 L883.3 456.3 L880.7 453.7 L879.3 450.3 L883.3 447.0 L887.3 443.7Z" fill="none" stroke="#000" stroke-width="1.9" stroke-linejoin="miter"/>
</g>
<path d="M90.5 93.6V567.5" stroke="#000" stroke-width="1.4" fill="none"/>
<path d="M908.5 93.6V567.5" stroke="#000" stroke-width="1.4" fill="none"/>
<path d="M89.8 93.6H909.2" stroke="#000" stroke-width="2" fill="none"/>
<path d="M89.8 567.5H909.2" stroke="#000" stroke-width="2" fill="none"/>
<g stroke="#000" stroke-width="1.2">
<line x1="90.4" y1="567.5" x2="90.4" y2="573.0"/>
<line x1="226.8" y1="567.5" x2="226.8" y2="573.0"/>
<line x1="363.1" y1="567.5" x2="363.1" y2="573.0"/>
<line x1="499.5" y1="567.5" x2="499.5" y2="573.0"/>
<line x1="635.9" y1="567.5" x2="635.9" y2="573.0"/>
<line x1="772.2" y1="567.5" x2="772.2" y2="573.0"/>
<line x1="908.5" y1="567.5" x2="908.5" y2="573.0"/>
<line x1="84.0" y1="172.3" x2="90.5" y2="172.3"/>
<line x1="84.0" y1="251.3" x2="90.5" y2="251.3"/>
<line x1="84.0" y1="330.8" x2="90.5" y2="330.8"/>
<line x1="84.0" y1="410.8" x2="90.5" y2="410.8"/>
<line x1="84.0" y1="490.0" x2="90.5" y2="490.0"/>
</g>
<g class="ax">
<text x="72.4" y="595.0" font-size="19.8" textLength="38.4" lengthAdjust="spacingAndGlyphs">180</text>
<text x="201.6" y="595.0" font-size="19.8" textLength="54.2" lengthAdjust="spacingAndGlyphs">120W</text>
<text x="342.4" y="595.0" font-size="19.8" textLength="41.7" lengthAdjust="spacingAndGlyphs">60W</text>
<text x="493.4" y="595.0" font-size="19.8" textLength="14.4" lengthAdjust="spacingAndGlyphs">0</text>
<text x="616.6" y="595.0" font-size="19.8" textLength="40.7" lengthAdjust="spacingAndGlyphs">60E</text>
<text x="748.6" y="595.0" font-size="19.8" textLength="51.2" lengthAdjust="spacingAndGlyphs">120E</text>
<text x="891.1" y="595.0" font-size="19.8" textLength="38.0" lengthAdjust="spacingAndGlyphs">180</text>
<text x="37.4" y="180.6" font-size="19.9" textLength="41.9" lengthAdjust="spacingAndGlyphs">60N</text>
<text x="37.4" y="259.6" font-size="19.9" textLength="41.9" lengthAdjust="spacingAndGlyphs">30N</text>
<text x="50.2" y="339.2" font-size="19.9" textLength="29.1" lengthAdjust="spacingAndGlyphs">EQ</text>
<text x="39.0" y="418.9" font-size="19.9" textLength="40.3" lengthAdjust="spacingAndGlyphs">30S</text>
<text x="37.4" y="498.3" font-size="19.9" textLength="41.9" lengthAdjust="spacingAndGlyphs">60S</text>
</g>
<text x="418.6" y="559.0" font-size="19.2" textLength="165.4" lengthAdjust="spacingAndGlyphs" stroke-width="0.22">(C)JAXA/NIES/MOE</text>
</g>
<g transform="translate(930,0)">
<g clip-path="url(#frame)">
<rect x="90.5" y="93.6" width="818.0" height="473.9" fill="#ffffff"/>
<rect x="90.5" y="93.6" width="818.0" height="65.8" fill="#e1e1e1"/>
<rect x="90.5" y="156.7" width="209.5" height="86.8" fill="#c1c1c1"/>
<rect x="700.0" y="155.7" width="208.5" height="87.8" fill="#c1c1c1"/>
<rect x="300.0" y="158.9" width="260.0" height="39.8" fill="#a9a9a9"/>
<rect x="300.0" y="198.7" width="240.0" height="44.8" fill="#b5b5b5"/>
<polygon points="90.5,243.5 250.0,243.5 280.0,291.2 90.5,291.2" fill="#d0d0d0"/>
<polygon points="250.0,243.5 490.0,243.5 470.0,291.2 280.0,291.2" fill="#d0d0d0"/>
<polygon points="770.0,243.5 908.5,243.5 908.5,291.2 735.0,291.2" fill="#cdcdcd"/>
<polygon points="585.0,235.0 722.0,235.0 727.0,295.0 734.0,322.0 727.0,330.8 585.0,330.8" fill="#a8a8a8"/>
<polygon points="727.0,295.0 722.0,291.2 908.5,291.2 908.5,330.8 727.0,330.8 734.0,322.0" fill="#b5b5b5"/>
<polygon points="90.5,291.2 138.8,291.2 138.8,330.8 90.5,330.8" fill="#b5b5b5"/>
<polygon points="138.8,291.2 290.0,291.2 303.0,300.0 316.0,308.5 323.0,312.0 323.0,330.8 138.8,330.8" fill="#a2a2a2"/>
<polygon points="290.0,291.2 303.0,300.0 316.0,308.5 323.0,312.0 323.0,330.8 540.0,330.8 540.0,291.2" fill="#bababa"/>
<rect x="90.5" y="330.8" width="48.3" height="42.2" fill="#b5b5b5"/>
<rect x="138.8" y="330.8" width="201.2" height="42.2" fill="#a2a2a2"/>
<rect x="340.0" y="330.8" width="230.0" height="42.2" fill="#c4c4c4"/>
<rect x="570.0" y="330.8" width="254.7" height="42.2" fill="#c8c8c8"/>
<rect x="824.7" y="330.8" width="83.8" height="42.2" fill="#b5b5b5"/>
<rect x="90.5" y="373.0" width="259.5" height="45.0" fill="#d0d0d0"/>
<rect x="350.0" y="373.0" width="205.0" height="45.0" fill="#d3d3d3"/>
<rect x="555.0" y="373.0" width="260.0" height="45.0" fill="#c6c6c6"/>
<rect x="815.0" y="373.0" width="93.5" height="45.0" fill="#d5d5d5"/>
<rect x="90.5" y="418.0" width="249.5" height="34.5" fill="#dbdbdb"/>
<rect x="340.0" y="418.0" width="205.6" height="34.5" fill="#d4d4d4"/>
<rect x="545.6" y="418.0" width="290.8" height="34.5" fill="#dbdbdb"/>
<rect x="836.4" y="418.0" width="72.1" height="34.5" fill="#e0e0e0"/>
<rect x="90.5" y="452.5" width="818.0" height="37.5" fill="#d8d8d8"/>
<rect x="90.5" y="490.0" width="818.0" height="77.5" fill="#dcdcdc"/>
<g stroke="#000" stroke-width="1.7" fill="none">
<line x1="90.5" y1="156.7" x2="130.0" y2="156.7"/>
<line x1="300.0" y1="158.9" x2="540.0" y2="158.9"/>
<line x1="340.0" y1="198.7" x2="500.0" y2="198.7"/>
<line x1="90.5" y1="243.5" x2="908.5" y2="243.5"/>
<line x1="90.5" y1="291.2" x2="560.0" y2="291.2"/>
<line x1="742.0" y1="291.2" x2="908.5" y2="291.2"/>
<line x1="90.5" y1="330.8" x2="908.5" y2="330.8" stroke-width="2.3"/>
<line x1="90.5" y1="373.0" x2="908.5" y2="373.0"/>
<line x1="90.5" y1="418.0" x2="908.5" y2="418.0"/>
<line x1="90.5" y1="452.5" x2="908.5" y2="452.5"/>
<line x1="90.5" y1="490.0" x2="908.5" y2="490.0"/>
<line x1="138.8" y1="291.2" x2="138.8" y2="373.0" stroke-width="1.3"/>
<line x1="545.6" y1="412.0" x2="545.6" y2="452.5" stroke-width="1.3"/>
<line x1="836.4" y1="425.0" x2="836.4" y2="452.5" stroke-width="1.3"/>
<line x1="824.7" y1="350.0" x2="824.7" y2="368.0" stroke-width="1.3"/>
<line x1="741.0" y1="342.3" x2="808.0" y2="342.3"/>
</g>
<g clip-path="url(#landclip)">
<rect x="90.5" y="93.6" width="818.0" height="473.9" fill="#ffffff"/>
<polygon points="80.0,100.0 227.0,100.0 227.0,172.0 80.0,172.0" fill="#ffeed6"/>
<polygon points="227.0,95.0 362.0,95.0 362.0,212.0 227.0,212.0" fill="#ffe6c2"/>
<polygon points="120.0,172.0 283.3,172.0 283.3,193.3 280.0,192.0 272.7,192.7 266.0,192.7 262.0,190.7 254.7,190.0 250.7,187.3 246.7,186.0 244.7,183.3 239.3,183.3 236.7,186.0 234.7,190.0 232.0,195.3 228.7,196.0 226.0,194.0 224.7,191.3 218.0,190.7 216.7,192.7 209.3,192.7 200.0,193.0" fill="#ffdcae"/>
<polygon points="209.3,192.7 216.7,192.7 218.0,190.7 224.7,191.3 226.0,194.0 228.7,196.0 232.0,195.3 234.7,190.0 236.7,186.0 239.3,183.3 244.7,183.3 246.7,186.0 250.7,187.3 254.7,190.0 262.0,190.7 266.0,192.7 272.7,192.7 280.0,192.0 282.0,195.3 284.0,198.7 284.0,199.0 272.8,199.0 272.8,233.3 200.0,233.3 200.0,192.0" fill="#ffe8c8"/>
<polygon points="283.3,172.0 400.0,172.0 400.0,204.5 304.0,204.5 294.0,204.0 290.0,201.3 285.3,199.3 283.3,193.3 283.3,172.0" fill="#ffe0b4"/>
<polygon points="272.8,192.7 284.0,193.5 286.0,199.3 290.7,201.3 294.7,204.0 304.0,204.5 400.0,204.5 400.0,233.3 272.8,233.3" fill="#ffcc94"/>
<polygon points="200.0,233.3 272.8,233.3 272.8,292.0 200.0,292.0" fill="#ffdcaa"/>
<polygon points="272.8,233.3 345.0,233.3 345.0,270.0 290.0,270.0 284.0,282.0 286.0,288.0 272.8,289.0" fill="#d49a6a"/>
<polygon points="272.8,289.0 286.0,288.0 284.0,282.0 290.0,270.0 312.0,270.0 330.0,312.0 300.0,312.0" fill="#ffc284"/>
<polygon points="300.0,285.0 347.7,285.0 347.7,336.5 300.0,336.5" fill="#ffc488"/>
<polygon points="347.7,285.0 420.0,285.0 420.0,336.5 347.7,336.5" fill="#ffdca8"/>
<polygon points="310.0,336.5 359.1,336.5 359.1,372.0 358.7,372.0 356.0,375.3 349.3,376.0 344.0,373.3 338.7,369.3 333.3,366.0 328.7,363.3 324.7,360.7 321.3,357.3 318.7,351.3 316.0,348.0" fill="#d8a070"/>
<polygon points="359.1,336.5 410.0,336.5 405.0,340.0 405.3,340.7 402.7,342.7 396.7,343.3 396.0,346.0 393.3,347.3 392.0,352.0 388.7,352.7 388.0,357.3 385.3,358.7 383.3,364.0 380.0,364.7 378.7,366.7 365.3,367.3 364.0,370.7 358.7,372.0 359.1,372.0" fill="#f8b878"/>
<polygon points="405.0,340.0 425.0,340.0 425.0,410.0 381.6,410.0 381.6,365.5 380.0,364.7 383.3,364.0 385.3,358.7 388.0,357.3 388.7,352.7 392.0,352.0 393.3,347.3 396.0,346.0 396.7,343.3 402.7,342.7 405.3,340.7" fill="#ffd098"/>
<polygon points="316.0,348.0 318.7,351.3 321.3,357.3 324.7,360.7 328.7,363.3 333.3,366.0 338.7,369.3 344.0,373.3 349.3,376.0 356.0,375.3 358.7,372.0 358.7,372.0 364.0,370.7 365.3,367.3 378.7,366.7 380.0,364.7 381.6,365.5 381.6,410.0 320.0,410.0 320.0,360.0 310.0,345.0" fill="#ffd098"/>
<polygon points="320.0,410.0 352.0,410.0 352.0,480.0 320.0,480.0" fill="#ffd8a0"/>
<polygon points="352.0,410.0 400.0,410.0 400.0,480.0 352.0,480.0" fill="#b88858"/>
<polygon points="500.0,100.0 586.3,100.0 586.3,190.7 500.0,190.7" fill="#ffc890"/>
<polygon points="586.3,100.0 638.7,100.0 638.7,190.7 586.3,190.7" fill="#ffc488"/>
<polygon points="470.0,190.7 568.0,190.7 568.0,213.0 560.0,221.0 552.0,221.0 552.0,245.0 470.0,245.0" fill="#ffd8a8"/>
<polygon points="568.0,190.7 638.7,190.7 638.7,196.7 631.3,199.3 623.3,204.7 622.0,207.3 608.7,209.3 598.0,214.0 592.7,215.3 586.0,208.7 568.0,210.0" fill="#ffe0b8"/>
<polygon points="638.7,100.0 757.0,100.0 757.0,172.0 638.7,172.0" fill="#ffe4c0"/>
<polygon points="757.0,100.0 915.0,100.0 915.0,172.0 757.0,172.0" fill="#ffe6c4"/>
<polygon points="638.7,172.0 750.0,172.0 750.0,201.4 748.7,201.3 747.3,199.3 732.0,198.7 731.3,196.0 725.3,196.0 724.7,198.7 710.0,198.7 706.0,199.3 693.3,198.7 691.3,195.3 686.7,194.0 684.7,190.7 668.7,190.7 666.0,192.0 660.7,192.7 658.0,190.7 656.0,186.0 654.0,180.0 647.3,180.0 644.7,182.0 642.7,192.7 638.7,194.0" fill="#ffe0b4"/>
<polygon points="750.0,172.0 915.0,172.0 915.0,240.0 797.5,240.0 797.3,220.0 795.3,218.7 794.0,214.0 791.3,211.3 790.0,205.3 788.7,202.0 784.7,201.3 782.7,198.7 782.0,200.9 777.3,201.3 776.0,203.3 768.7,204.0 767.3,201.7 750.0,201.4" fill="#ffd29a"/>
<polygon points="638.7,194.0 642.7,192.7 644.7,182.0 647.3,180.0 654.0,180.0 656.0,186.0 658.0,190.7 660.7,192.7 666.0,192.0 668.7,190.7 684.7,190.7 686.7,194.0 691.3,195.3 693.3,198.7 706.0,199.3 710.0,198.7 714.0,198.7 714.0,240.4 638.7,240.4" fill="#ffe4c0"/>
<polygon points="714.0,198.7 724.7,198.7 725.3,196.0 731.3,196.0 732.0,198.7 747.3,199.3 748.7,201.3 767.3,201.7 768.7,204.0 776.0,203.3 777.3,201.3 782.0,200.9 782.7,198.7 784.7,201.3 788.7,202.0 790.0,205.3 791.3,211.3 794.0,214.0 795.3,218.7 797.3,220.0 797.5,262.0 778.0,255.0 773.3,257.0 768.7,259.0 754.0,259.7 752.7,261.0 749.3,261.7 747.3,263.7 743.3,264.3 740.7,267.0 736.7,267.7 735.3,269.9 727.3,269.7 723.3,267.0 722.0,263.7 718.0,261.7 714.7,260.3" fill="#ffe8c8"/>
<polygon points="638.7,240.4 714.0,240.4 714.0,259.3 714.7,260.3 710.0,262.3 707.3,263.7 707.1,267.0 704.7,271.0 696.7,273.7 696.7,273.7 692.7,270.7 686.0,269.9 682.0,273.7 681.3,287.7 681.3,310.0 640.0,310.0" fill="#ffd098"/>
<polygon points="681.3,287.7 682.0,273.7 686.0,269.9 692.7,270.7 696.7,273.7 700.0,280.0 690.0,295.0 681.3,295.0" fill="#ffd098"/>
<polygon points="704.7,271.0 707.1,267.0 707.3,263.7 710.0,262.3 714.7,260.3 718.0,261.7 722.0,263.7 723.3,267.0 727.3,269.7 735.3,269.9 736.7,267.7 740.7,267.0 743.3,264.3 747.3,263.7 749.3,261.7 752.7,261.0 754.0,259.7 768.7,259.0 773.3,257.0 778.0,255.0 780.0,262.0 780.0,317.5 700.0,317.5 704.7,271.0" fill="#ffc890"/>
<polygon points="852.0,172.6 885.0,172.6 885.0,200.0 852.0,200.0" fill="#ffd8a4"/>
<polygon points="568.0,210.0 586.0,208.7 592.7,215.3 598.0,214.0 608.7,209.3 622.0,207.3 623.3,204.7 631.3,199.3 638.7,196.7 638.7,300.0 552.0,300.0 552.0,221.0 560.0,221.0 568.0,212.0" fill="#ffe4c0"/>
<polygon points="440.0,235.0 529.6,235.0 529.6,291.2 440.0,291.2" fill="#ffecd2"/>
<polygon points="529.6,235.0 575.0,235.0 576.3,252.0 579.5,258.5 583.0,265.7 586.3,273.0 589.7,280.3 593.3,286.3 596.0,291.2 529.6,291.2" fill="#fff8f0"/>
<polygon points="440.0,291.2 552.0,291.2 552.0,327.7 440.0,327.7" fill="#ffc890"/>
<polygon points="552.0,291.2 596.0,291.2 598.5,297.8 640.0,299.0 640.0,327.7 552.0,327.7" fill="#ffc488"/>
<polygon points="500.0,327.7 556.7,327.7 556.7,371.0 500.0,371.0" fill="#ffc890"/>
<polygon points="556.7,327.7 620.0,327.7 620.0,371.0 556.7,371.0" fill="#ffc488"/>
<polygon points="500.0,371.0 556.7,371.0 556.7,440.0 500.0,440.0" fill="#ffd8a0"/>
<polygon points="556.7,371.0 620.0,371.0 620.0,440.0 556.7,440.0" fill="#ffc488"/>
<polygon points="595.0,365.0 620.0,365.0 620.0,405.0 595.0,405.0" fill="#ffc890"/>
<polygon points="715.0,317.5 860.0,317.5 860.0,360.0 715.0,360.0" fill="#eaaa72"/>
<polygon points="745.0,280.0 800.0,280.0 800.0,317.5 745.0,317.5" fill="#ffc890"/>
<polygon points="750.0,355.0 806.7,355.0 806.7,399.7 750.0,399.7" fill="#ffe0b0"/>
<polygon points="806.7,355.0 860.0,355.0 860.0,399.7 806.7,399.7" fill="#ffd8a8"/>
<polygon points="750.0,399.7 813.3,399.7 813.3,450.0 750.0,450.0" fill="#ffe0b0"/>
<polygon points="813.3,399.7 860.0,399.7 860.0,450.0 813.3,450.0" fill="#ffc488"/>
<polygon points="870.0,420.0 908.0,420.0 908.0,460.0 870.0,460.0" fill="#ffc488"/>
<polygon points="300.0,262.0 352.0,262.0 352.0,290.0 300.0,290.0" fill="#ffc284"/>
<polygon points="470.0,170.0 505.0,170.0 505.0,197.6 470.0,197.6" fill="#ffc890"/>
<polygon points="372.5,199.2 381.0,199.2 381.0,208.0 372.5,208.0" fill="#ffffff"/>
<polygon points="80.0,130.0 125.0,130.0 125.0,160.0 80.0,160.0" fill="#ffe6c4"/>
<polygon points="343.0,129.5 343.5,118.0 348.0,118.0 349.0,121.5 353.0,121.0 352.5,116.0 345.0,116.0 344.0,118.8 330.0,119.0 329.0,122.0 324.0,124.0 321.0,129.0 318.0,132.0 317.0,130.0 317.0,124.0 316.0,115.0 313.5,113.0 313.5,110.8 359.0,110.8 359.5,113.5 377.0,113.5 378.0,117.0 380.0,113.5 393.0,113.0 394.0,111.5 400.0,111.0 402.0,114.0 403.5,112.0 407.0,112.0 415.3,111.3 416.0,108.6 436.7,108.6 437.3,111.3 448.0,111.3 450.7,116.3 452.7,114.3 470.7,114.1 470.7,117.0 462.7,117.0 461.3,119.7 456.7,120.3 456.0,123.0 452.7,123.7 454.7,127.0 456.0,130.3 455.3,133.7 452.7,135.0 452.0,137.7 450.7,139.0 450.7,145.0 445.3,147.0 437.3,147.7 436.0,149.7 425.3,150.3 424.7,153.0 422.7,153.7 422.0,156.3 410.0,156.6 408.7,158.3 407.3,161.7 405.3,164.3 404.0,167.7 402.0,171.7 396.0,172.1 394.7,169.7 391.3,167.7 387.3,166.3 385.3,163.0 382.0,159.0 380.0,157.0 377.3,156.3 377.3,149.7 381.3,149.0 381.3,146.3 378.0,145.0 376.7,141.0 374.0,140.3 372.7,133.7 368.7,131.0 368.0,129.7 360.0,129.7" fill="#ffffff"/>
<polygon points="447.3,156.3 468.7,156.3 468.7,161.0 460.0,161.7 459.3,164.3 455.3,164.3 454.7,161.7 450.7,160.3 448.7,158.3" fill="#ffffff"/>
<polygon points="524.7,119.7 543.3,119.7 543.3,125.0 541.3,127.0 536.7,127.0 535.3,125.0 530.7,124.3 529.3,122.3 525.3,121.7" fill="#ffffff"/>
<polygon points="547.3,119.7 559.3,119.7 559.3,122.3 550.7,122.6 550.0,125.0 547.3,125.0" fill="#ffffff"/>
<polygon points="618.7,140.0 622.0,136.0 627.3,133.3 632.7,130.7 642.0,130.0 642.7,132.0 634.0,134.0 630.0,136.7 626.0,141.3 623.3,143.3 618.7,143.3" fill="#ffffff"/>
<polygon points="711.3,116.3 720.7,116.3 721.3,119.0 727.3,119.7 728.0,121.7 738.7,122.3 738.7,127.0 728.0,127.0 726.7,122.7 714.0,122.3 711.3,119.7" fill="#ffffff"/>
<polygon points="682.0,305.0 684.7,305.0 686.3,311.0 686.0,315.7 682.0,315.7" fill="#ffc890"/>
<polygon points="747.3,277.7 752.0,277.7 752.0,281.0 749.3,283.0 747.3,282.3" fill="#eaaa72"/>
<polygon points="772.7,264.3 777.3,264.3 777.3,270.3 772.7,270.3" fill="#d09860"/>
<polygon points="822.7,188.0 825.7,188.0 826.0,195.3 827.6,196.0 827.6,200.7 825.7,201.3 825.5,210.0 822.7,210.0" fill="#a87848"/>
<polygon points="821.3,214.7 823.3,212.7 826.0,214.7 830.0,215.3 829.3,218.0 826.0,220.0 822.7,220.0 820.7,218.0" fill="#ffecd0"/>
<polygon points="822.7,220.7 823.3,226.0 820.7,228.7 820.7,238.0 815.3,238.7 812.7,240.7 803.3,242.7 802.0,244.7 799.3,245.3 798.0,248.7 796.0,249.3 795.3,242.7 798.0,239.3 803.3,236.7 808.7,233.3 815.3,228.7 818.0,223.3 819.3,220.7" fill="#ffecd0"/>
<g stroke="#000" stroke-width="1.5" fill="none" stroke-linejoin="miter">
<line x1="227.0" y1="120.0" x2="227.0" y2="172.0" stroke-width="1.3"/>
<line x1="120.0" y1="172.0" x2="283.3" y2="172.0" stroke-width="1.8"/>
<polyline points="209.3,192.7 216.7,192.7 218.0,190.7 224.7,191.3 226.0,194.0 228.7,196.0 232.0,195.3 234.7,190.0 236.7,186.0 239.3,183.3 244.7,183.3 246.7,186.0 250.7,187.3 254.7,190.0 262.0,190.7 266.0,192.7 272.7,192.7 280.0,192.0 282.0,195.3 284.0,198.7"/>
<polyline points="283.3,172.0 283.3,193.3 285.3,199.3 290.0,201.3 294.0,204.0 304.7,204.9 352.0,204.5"/>
<line x1="272.8" y1="192.7" x2="272.8" y2="289.0" stroke-width="1.3"/>
<line x1="225.0" y1="233.3" x2="335.0" y2="233.3" stroke-width="1.8"/>
<polyline points="272.8,289.0 286.0,288.0 284.0,282.0 281.0,276.0"/>
<line x1="310.0" y1="336.5" x2="410.0" y2="336.5" stroke-width="1.8"/>
<line x1="347.7" y1="295.0" x2="347.7" y2="336.5" stroke-width="1.3"/>
<line x1="359.1" y1="336.5" x2="359.1" y2="373.0" stroke-width="1.3"/>
<polyline points="316.0,348.0 318.7,351.3 321.3,357.3 324.7,360.7 328.7,363.3 333.3,366.0 338.7,369.3 344.0,373.3 349.3,376.0 356.0,375.3 358.7,372.0"/>
<polyline points="358.7,372.0 364.0,370.7 365.3,367.3 378.7,366.7 380.0,364.7 383.3,364.0 385.3,358.7 388.0,357.3 388.7,352.7 392.0,352.0 393.3,347.3 396.0,346.0 396.7,343.3 402.7,342.7 405.3,340.7"/>
<line x1="381.6" y1="365.5" x2="381.6" y2="410.0" stroke-width="1.3"/>
<line x1="330.0" y1="410.0" x2="390.0" y2="410.0" stroke-width="1.8"/>
<line x1="352.0" y1="410.0" x2="352.0" y2="455.0" stroke-width="1.3"/>
<line x1="505.0" y1="190.7" x2="638.7" y2="190.7" stroke-width="1.8"/>
<line x1="586.3" y1="140.0" x2="586.3" y2="190.7" stroke-width="1.3"/>
<line x1="638.7" y1="140.0" x2="638.7" y2="268.0" stroke-width="1.3"/>
<line x1="568.0" y1="190.7" x2="568.0" y2="212.0" stroke-width="1.3"/>
<polyline points="592.7,215.3 598.0,214.0 608.7,209.3"/>
<polyline points="622.0,207.3 623.3,204.7 631.3,199.3 638.7,196.7"/>
<line x1="638.7" y1="172.0" x2="905.0" y2="172.0" stroke-width="1.8"/>
<line x1="757.0" y1="132.0" x2="757.0" y2="172.0" stroke-width="1.3"/>
<line x1="750.0" y1="172.0" x2="750.0" y2="200.0" stroke-width="1.3"/>
<polyline points="638.7,194.0 642.7,192.7 644.7,182.0 647.3,180.0 654.0,180.0 656.0,186.0 658.0,190.7 660.7,192.7 666.0,192.0 668.7,190.7 684.7,190.7 686.7,194.0 691.3,195.3 693.3,198.7 706.0,199.3 710.0,198.7 724.7,198.7 725.3,196.0 731.3,196.0 732.0,198.7 747.3,199.3 748.7,201.3 767.3,201.7 768.7,204.0 776.0,203.3 777.3,201.3 782.0,200.9 782.7,198.7 784.7,201.3 788.7,202.0 790.0,205.3 791.3,211.3 794.0,214.0 795.3,218.7 797.3,220.0"/>
<line x1="714.0" y1="198.7" x2="714.0" y2="260.3" stroke-width="1.3"/>
<line x1="638.7" y1="240.4" x2="714.0" y2="240.4" stroke-width="1.8"/>
<polyline points="704.7,271.0 707.1,267.0 707.3,263.7 710.0,262.3 714.7,260.3 718.0,261.7 722.0,263.7 723.3,267.0 727.3,269.7 735.3,269.9 736.7,267.7 740.7,267.0 743.3,264.3 747.3,263.7 749.3,261.7 752.7,261.0 754.0,259.7 768.7,259.0 773.3,257.0 778.0,255.0"/>
<polyline points="681.3,287.7 682.0,273.7 686.0,269.9 692.7,270.7 696.7,273.7"/>
<line x1="529.6" y1="238.0" x2="529.6" y2="291.2" stroke-width="1.3"/>
<line x1="455.0" y1="291.2" x2="600.0" y2="291.2" stroke-width="1.8"/>
<line x1="552.0" y1="291.2" x2="552.0" y2="327.7" stroke-width="1.3"/>
<line x1="520.0" y1="327.7" x2="605.0" y2="327.7" stroke-width="1.8"/>
<line x1="556.7" y1="327.7" x2="556.7" y2="425.0" stroke-width="1.3"/>
<line x1="525.0" y1="371.0" x2="595.0" y2="371.0" stroke-width="1.8"/>
<line x1="806.7" y1="362.0" x2="806.7" y2="399.7" stroke-width="1.3"/>
<line x1="756.0" y1="399.7" x2="850.0" y2="399.7" stroke-width="1.8"/>
<line x1="813.3" y1="399.7" x2="813.3" y2="426.0" stroke-width="1.3"/>
</g>
</g>
<polygon points="488.7,234.7 490.0,233.3 497.3,233.3 498.0,231.3 500.7,229.3 501.7,225.3 506.0,222.0 506.7,217.3 515.3,216.7 516.3,214.7 522.0,214.7 524.0,217.7 527.3,219.0 529.3,220.0 532.7,222.3 535.3,225.7 536.7,227.5 539.7,227.5 540.8,225.9 543.3,222.7 545.3,224.7 546.7,226.7 548.0,232.0 552.0,232.0 552.7,228.0 554.0,226.0 556.7,223.3 559.3,223.0 560.0,225.0 561.3,225.3 561.7,232.0 565.3,233.3 566.7,234.7 570.7,235.0 571.0,233.0 572.7,233.3 573.3,235.0 576.7,235.3 577.3,233.3 582.0,233.0 582.0,239.3 580.0,240.0 579.3,242.7 578.0,243.3 576.7,246.7 574.7,248.0 573.3,248.0 562.0,248.0 560.7,246.3 553.3,246.0 552.0,243.7 545.3,244.0 543.3,249.0 538.0,248.7 536.7,246.7 534.0,243.7 525.3,243.3 524.7,233.3 509.3,233.3 507.3,235.3 506.0,233.3 504.3,233.3 503.3,235.3 502.0,233.3 498.0,236.0 497.3,238.3 490.0,238.3 488.7,237.7" fill="#ffffff" stroke="#000" stroke-width="1.6"/>
<polygon points="530.0,212.5 532.7,212.9 536.8,217.9 536.8,220.1 535.3,220.1 531.3,215.5" fill="#ffffff" stroke="#000" stroke-width="1.6"/>
<polygon points="563.3,222.0 564.0,214.3 566.7,212.0 568.7,208.7 571.0,206.3 573.3,208.0 574.7,210.7 577.3,211.7 579.3,210.7 581.7,208.0 582.3,206.3 586.3,206.3 586.3,212.0 587.3,214.7 590.0,215.3 593.0,217.3 593.3,222.7 582.0,222.7 581.3,220.0 580.0,219.7 579.3,221.3 577.3,221.3 576.7,219.7 572.7,219.7 572.0,222.0 565.3,223.0 564.0,224.7 561.0,225.0 561.0,222.7" fill="#ffffff" stroke="#000" stroke-width="1.6"/>
<polygon points="608.0,212.3 610.0,209.0 615.3,207.7 620.7,207.7 620.0,211.0 616.0,213.0 616.7,216.3 620.7,218.3 623.3,220.3 622.7,223.7 620.7,225.7 622.0,229.7 620.0,235.0 617.3,231.7 613.3,230.3 612.0,223.7 613.3,221.0 611.3,217.0" fill="#ffffff" stroke="#000" stroke-width="1.6"/>
<polygon points="638.0,199.0 638.0,213.7 632.0,213.7 632.7,210.3 635.3,205.7" fill="#ffffff" stroke="#000" stroke-width="1.6"/>
<polygon points="576.0,251.0 580.0,257.7 582.0,258.3 584.7,265.7 588.7,273.7 592.0,280.3 595.3,285.7 598.0,288.3 598.0,292.0 598.7,297.3 596.7,296.7 594.0,293.3 591.3,287.0 587.3,280.3 584.0,272.3 581.3,265.7 578.7,259.0 576.7,253.7" fill="#ffffff" stroke="#000" stroke-width="1.6"/>
<polygon points="608.7,252.3 612.0,251.0 615.3,254.3 618.0,258.3 622.0,260.3 627.3,260.3 629.3,263.0 624.7,264.3 623.3,267.0 619.3,267.7 617.3,263.0 613.3,259.0 610.0,256.3" fill="#ffffff" stroke="#000" stroke-width="1.6"/>
<polygon points="556.7,156.7 551.3,156.7 549.3,160.0 546.0,162.0 545.3,165.3 540.7,166.0 539.3,169.3 542.0,171.3 543.3,175.3 540.7,176.0 539.3,178.7 535.3,181.3 532.7,183.3 530.0,181.3 527.3,176.7 522.7,176.0 519.3,177.3 518.0,181.3 521.3,179.3 524.0,181.3 524.7,186.0 530.0,186.7 531.3,184.7 538.0,184.0 539.3,185.3 543.3,184.7 544.0,188.0 546.7,187.3 548.7,182.0 551.3,181.3 552.0,178.0 555.3,176.7 556.7,173.3 551.3,172.7 550.0,170.0 550.7,164.7 552.7,162.0 556.7,160.7" fill="#a9a9a9" stroke="#000" stroke-width="1.6"/>
<polygon points="580.0,154.0 588.7,153.3 589.3,156.0 586.0,156.7 584.7,160.7 580.0,161.3" fill="#ffffff" stroke="#000" stroke-width="1.6"/>
<polygon points="572.7,330.4 577.3,330.4 577.3,336.0 575.3,339.3 572.7,338.7" fill="#ffffff" stroke="#000" stroke-width="1.6"/>
<polygon points="565.3,344.0 568.7,344.0 568.7,350.0 565.3,350.0" fill="#ffffff" stroke="#000" stroke-width="1.6"/>
<polygon points="576.7,360.0 580.0,360.0 580.0,368.7 576.7,368.7" fill="#ffffff" stroke="#000" stroke-width="1.6"/>
<polygon points="529.3,293.3 534.7,293.3 534.7,297.3 529.3,297.3" fill="#ffffff" stroke="#000" stroke-width="1.6"/>
<polygon points="740.0,193.7 741.3,189.7 746.7,187.0 748.0,182.3 750.7,181.7 750.7,187.0 746.7,191.0 743.3,193.7" fill="#808080" stroke="#000" stroke-width="1.6"/>
<polygon points="663.3,137.7 666.0,137.7 666.7,140.3 670.0,141.0 670.0,148.3 668.0,154.3 663.3,154.3 664.0,148.3 666.0,147.0 666.0,141.7 663.3,141.0" fill="#e1e1e1" stroke="#000" stroke-width="1.6"/>
<polygon points="220.0,157.0 221.5,154.5 226.5,154.5 226.5,159.5 220.0,159.5" fill="#ffffff" stroke="#000" stroke-width="1.6"/>
<polygon points="284.7,171.6 290.2,166.0 295.3,163.5 302.9,158.4 308.0,157.9 309.2,162.2 314.3,160.9 314.3,149.5 319.4,147.0 323.2,149.5 323.7,163.5 327.0,166.0 325.7,176.1 327.0,182.5 323.2,185.0 321.9,191.3 318.1,193.3 314.3,187.5 309.2,185.0 300.4,179.9 295.3,176.1 287.7,174.9" fill="#e1e1e1" stroke="#000" stroke-width="1.6"/>
<polygon points="324.4,164.0 342.2,164.0 343.4,168.0 324.4,168.0" fill="#ffffff" stroke="#000" stroke-width="1.6"/>
<polygon points="295.0,205.0 300.0,202.0 305.0,205.0 306.0,210.0 303.0,212.0 304.0,220.0 300.0,220.0 299.6,211.0 296.0,208.0" fill="#ffffff" stroke="#000" stroke-width="1.6"/>
<polygon points="309.0,210.0 318.0,210.0 318.0,212.4 314.0,213.0 314.0,218.0 311.6,218.0 311.0,212.4 309.0,212.4" fill="#ffffff" stroke="#000" stroke-width="1.6"/>
<polygon points="320.0,214.4 325.0,214.4 325.0,217.4 320.0,217.4" fill="#ffffff" stroke="#000" stroke-width="1.6"/>
<polygon points="238.4,166.6 243.6,166.6 243.6,169.6 238.4,169.6" fill="#ffffff" stroke="#000" stroke-width="1.6"/>
<polygon points="265.0,177.0 269.0,177.0 269.0,181.0 265.0,181.0" fill="#ffffff" stroke="#000" stroke-width="1.6"/>
<polygon points="570.7,166.7 575.3,167.3 575.3,172.7 573.3,172.0 572.7,169.3 570.7,169.3" fill="#ffffff" stroke="#000" stroke-width="1.6"/>
<polygon points="579.3,164.0 584.0,166.0 584.7,170.0 582.0,170.0 581.3,167.3 579.3,166.7" fill="#ffffff" stroke="#000" stroke-width="1.6"/>
<polygon points="563.3,172.0 566.7,172.0 566.7,178.0 563.3,178.0" fill="#ffffff" stroke="#000" stroke-width="1.6"/>
<polyline points="530.0,210.0 532.7,210.7 536.7,214.3 541.3,217.3 543.3,220.0 545.3,224.7" fill="none" stroke="#000" stroke-width="1.8"/>
<polygon points="518.5,222.5 522.8,222.5 522.8,227.9 518.5,227.9" fill="#ffd8a8" stroke="#000" stroke-width="1.5"/>
<polygon points="520.5,217.0 522.5,217.0 522.5,219.9 520.5,219.9" fill="#ffd8a8" stroke="#000" stroke-width="1.5"/>
<polygon points="531.7,229.7 534.5,229.7 534.5,233.2 531.7,233.2" fill="#ffd8a8" stroke="#000" stroke-width="1.5"/>
<polygon points="572.5,238.3 575.9,238.3 575.9,241.9 572.5,241.9" fill="#ffd8a8" stroke="#000" stroke-width="1.5"/>
<path d="M226.7 145.3 L218.0 145.3 L215.3 147.3 L214.7 146.0 L192.7 146.0 L192.0 148.3 L184.0 148.3 L183.3 145.6 L164.0 145.6 L163.3 142.9 L136.7 142.9 L136.0 145.3 L129.3 146.0 L128.7 148.0 L124.7 149.3 L124.7 152.0 L132.0 153.3 L132.0 155.3 L128.7 156.0 L128.7 158.7 L134.0 159.3 L134.0 162.0 L128.7 162.7 L128.0 164.7 L123.3 165.3 L122.7 168.7 L124.7 172.0 L130.7 172.7 L131.3 174.9 L142.7 175.7 L140.7 179.7 L136.7 180.0 L135.3 182.4 L129.3 182.7 L129.3 186.0 L136.0 186.0 L136.7 183.7 L140.0 182.9 L141.3 181.1 L145.3 180.7 L146.7 178.7 L150.7 178.7 L150.7 173.3 L154.7 173.1 L155.3 175.3 L159.3 175.3 L159.6 173.1 L183.3 173.1 L186.0 175.3 L190.7 176.7 L192.7 179.3 L198.7 178.7 L201.3 180.0 L202.0 184.7 L204.7 186.0 L205.3 190.7 L209.3 192.0 L210.0 198.7 L213.3 200.7 L214.7 202.7 L218.0 204.0 L218.7 216.7 L216.0 217.3 L216.0 220.0 L218.7 220.7 L219.3 227.3 L221.3 228.7 L222.0 232.0 L224.7 233.3 L226.7 236.7 L229.3 240.0 L224.0 237.0 L228.0 241.0 L233.3 245.0 L235.3 248.3 L242.7 253.7 L248.7 259.7 L253.3 265.0 L258.0 271.0 L260.0 276.3 L263.3 280.3 L264.7 283.0 L272.7 283.4 L273.3 286.3 L276.0 289.0 L286.7 289.7 L289.3 291.7 L292.7 294.3 L298.0 296.3 L300.0 298.3 L304.7 299.7 L306.7 303.7 L312.0 305.7 L313.3 309.0 L318.7 309.7 L320.7 311.3 L323.3 312.7 L324.7 318.7 L324.7 323.3 L320.7 324.7 L320.0 328.7 L317.3 331.3 L316.0 336.7 L316.0 349.3 L318.7 351.3 L321.3 357.3 L324.7 360.7 L326.7 365.3 L328.7 370.7 L333.3 373.3 L336.0 378.0 L332.0 371.3 L335.3 375.3 L338.7 378.0 L340.0 382.7 L341.3 384.7 L340.7 391.3 L338.7 394.0 L338.7 410.0 L336.7 411.3 L336.0 423.3 L333.3 424.7 L332.7 431.3 L332.0 430.0 L333.0 436.0 L332.0 437.5 L334.0 439.0 L334.0 445.0 L332.0 447.5 L330.0 448.0 L330.0 454.0 L327.0 456.0 L327.5 462.0 L330.0 465.0 L332.0 470.0 L335.0 473.0 L339.0 474.5 L339.5 476.5 L349.5 477.0 L349.5 474.0 L347.0 471.0 L345.5 468.5 L345.5 460.0 L349.0 459.0 L348.5 455.5 L347.5 451.5 L351.0 447.0 L351.5 444.0 L354.5 444.0 L355.5 442.0 L358.0 439.0 L359.0 435.0 L368.0 434.0 L369.0 431.0 L371.0 430.0 L372.0 428.7 L374.7 423.3 L378.7 420.0 L384.0 412.7 L385.3 408.7 L390.0 406.0 L390.7 398.0 L392.7 395.3 L397.3 394.7 L398.7 392.0 L406.0 391.3 L408.0 387.3 L409.3 382.7 L411.3 380.7 L411.3 370.0 L411.3 366.0 L414.0 364.7 L416.0 361.3 L417.3 358.0 L420.7 356.7 L420.7 345.3 L416.0 344.7 L413.3 342.7 L411.3 340.0 L405.3 339.3 L402.7 337.3 L398.0 335.3 L396.0 333.3 L389.3 333.3 L388.0 330.7 L385.3 326.0 L383.3 320.0 L380.0 318.0 L377.3 316.0 L372.7 314.7 L369.3 312.7 L365.3 308.7 L362.0 306.7 L360.7 302.0 L356.0 302.0 L353.3 304.7 L348.0 302.7 L344.0 302.0 L342.7 300.0 L338.7 300.0 L334.0 299.3 L333.3 301.3 L328.0 302.0 L326.7 305.3 L320.0 305.3 L319.3 305.0 L318.7 307.0 L315.3 306.3 L313.3 303.7 L310.7 301.0 L308.7 297.0 L310.7 294.3 L309.3 290.3 L305.3 289.0 L300.7 287.7 L300.0 282.3 L302.0 278.3 L301.6 273.0 L298.0 272.7 L297.3 275.0 L293.3 275.7 L292.7 278.3 L286.7 281.7 L284.0 282.3 L281.3 277.0 L278.7 273.0 L277.3 269.0 L277.6 265.0 L280.0 263.0 L279.3 258.3 L282.7 255.0 L286.0 253.7 L286.7 251.7 L290.7 251.7 L292.7 253.7 L295.3 251.7 L310.7 251.7 L312.0 255.0 L312.7 259.0 L315.3 261.0 L315.7 265.0 L318.4 265.0 L318.7 260.3 L316.7 258.3 L316.0 250.3 L318.0 246.3 L321.3 241.7 L325.3 238.3 L326.7 233.0 L330.0 229.7 L331.3 225.0 L328.0 232.0 L331.3 228.0 L334.0 222.7 L338.7 221.3 L340.0 216.7 L346.0 215.3 L347.3 212.7 L352.7 212.0 L353.3 217.3 L358.7 211.3 L362.7 210.0 L363.3 206.7 L360.7 206.0 L356.0 206.7 L354.0 204.0 L356.7 202.0 L361.3 201.3 L366.0 202.0 L367.3 203.3 L372.7 203.3 L373.3 206.7 L379.3 206.7 L379.3 202.7 L376.7 200.0 L372.7 199.3 L372.0 197.3 L375.3 193.3 L375.3 188.7 L371.3 188.0 L370.7 185.3 L363.3 184.7 L362.7 181.3 L359.3 180.0 L357.3 176.0 L355.3 173.3 L351.3 172.0 L349.3 175.3 L346.0 176.0 L344.0 172.7 L343.3 166.7 L342.0 168.0 L343.0 167.0 L346.0 166.5 L347.0 164.0 L351.0 163.0 L352.0 158.0 L357.0 157.5 L358.5 154.5 L355.0 154.0 L354.0 150.5 L346.0 149.5 L344.0 146.5 L341.0 143.5 L335.5 143.0 L334.0 140.0 L330.0 138.5 L328.0 138.5 L327.0 140.5 L315.0 140.0 L315.0 137.5 L312.5 137.0 L310.0 136.0 L307.5 136.5 L306.0 139.0 L304.5 140.0 L304.0 136.0 L298.0 136.5 L295.5 139.0 L296.0 142.0 L298.0 144.5 L302.0 145.0 L304.0 147.0 L303.0 152.0 L300.0 153.5 L299.5 149.0 L296.0 148.0 L292.0 145.5 L288.5 141.5 L288.0 139.0 L290.0 138.5 L290.0 136.0 L284.0 137.0 L283.0 140.0 L284.0 143.0 L286.0 147.0 L286.0 152.0 L283.0 154.0 L282.0 148.0 L278.0 148.0 L276.0 151.5 L268.0 151.0 L268.0 149.0 L267.0 147.0 L265.0 144.0 L261.0 143.0 L260.5 138.2 L254.5 138.2 L254.0 141.0 L250.5 141.0 L250.0 138.2 L247.5 138.2 L247.0 141.0 L242.5 141.0 L242.0 138.2 L235.5 138.0 L235.0 136.5 L228.0 136.5 L228.0 139.5 L231.5 140.0 L232.0 143.0 L235.5 143.5 L235.5 147.5 L227.0 147.5ZM218.0 134.5 L222.5 134.5 L223.0 133.0 L224.5 133.0 L225.0 134.5 L226.5 136.0 L226.5 140.0 L224.0 142.0 L218.0 142.0 L215.5 140.0 L215.5 137.5 L218.0 136.0ZM222.5 127.0 L228.5 127.0 L229.0 124.5 L231.5 124.5 L232.0 127.0 L234.0 127.5 L234.0 129.5 L258.0 129.5 L258.5 132.5 L245.0 132.5 L244.0 134.5 L242.5 132.5 L234.0 132.2 L233.5 130.0 L222.5 130.0ZM242.5 124.5 L247.5 124.5 L247.5 127.0 L242.5 127.0ZM263.0 121.5 L272.5 121.5 L272.5 124.5 L263.0 124.5ZM276.5 121.5 L281.0 121.5 L281.0 124.5 L276.5 124.5ZM272.5 127.0 L276.5 127.0 L276.5 130.0 L274.5 132.5 L272.5 132.0ZM281.5 126.5 L285.5 126.5 L285.5 132.5 L281.5 132.5ZM283.5 116.0 L292.0 116.0 L292.5 118.5 L315.0 118.5 L315.0 121.5 L312.5 122.0 L312.5 124.0 L315.0 124.5 L315.5 132.0 L299.0 132.5 L298.0 131.0 L290.0 130.5 L289.5 128.0 L295.0 127.0 L295.5 124.0 L288.0 123.5 L287.5 121.5 L283.5 121.5ZM295.0 113.5 L312.5 113.5 L312.5 116.0 L295.0 116.0ZM268.5 135.5 L276.0 135.2 L278.0 138.0 L278.0 140.0 L276.0 142.0 L274.0 142.0 L274.0 140.0 L268.0 140.0 L267.0 138.0ZM238.0 149.0 L256.0 148.5 L256.5 146.0 L258.5 146.0 L258.5 149.0 L256.0 151.5 L254.0 152.0 L253.0 154.0 L251.5 152.0 L238.0 151.5ZM315.0 135.0 L324.0 135.0 L324.5 137.0 L329.0 137.5 L329.0 140.0 L315.0 140.5ZM343.0 129.5 L343.5 118.0 L348.0 118.0 L349.0 121.5 L353.0 121.0 L352.5 116.0 L345.0 116.0 L344.0 118.8 L330.0 119.0 L329.0 122.0 L324.0 124.0 L321.0 129.0 L318.0 132.0 L317.0 130.0 L317.0 124.0 L316.0 115.0 L313.5 113.0 L313.5 110.8 L359.0 110.8 L359.5 113.5 L377.0 113.5 L378.0 117.0 L380.0 113.5 L393.0 113.0 L394.0 111.5 L400.0 111.0 L402.0 114.0 L403.5 112.0 L407.0 112.0 L415.3 111.3 L416.0 108.6 L436.7 108.6 L437.3 111.3 L448.0 111.3 L450.7 116.3 L452.7 114.3 L470.7 114.1 L470.7 117.0 L462.7 117.0 L461.3 119.7 L456.7 120.3 L456.0 123.0 L452.7 123.7 L454.7 127.0 L456.0 130.3 L455.3 133.7 L452.7 135.0 L452.0 137.7 L450.7 139.0 L450.7 145.0 L445.3 147.0 L437.3 147.7 L436.0 149.7 L425.3 150.3 L424.7 153.0 L422.7 153.7 L422.0 156.3 L410.0 156.6 L408.7 158.3 L407.3 161.7 L405.3 164.3 L404.0 167.7 L402.0 171.7 L396.0 172.1 L394.7 169.7 L391.3 167.7 L387.3 166.3 L385.3 163.0 L382.0 159.0 L380.0 157.0 L377.3 156.3 L377.3 149.7 L381.3 149.0 L381.3 146.3 L378.0 145.0 L376.7 141.0 L374.0 140.3 L372.7 133.7 L368.7 131.0 L368.0 129.7 L360.0 129.7ZM447.3 156.3 L468.7 156.3 L468.7 161.0 L460.0 161.7 L459.3 164.3 L455.3 164.3 L454.7 161.7 L450.7 160.3 L448.7 158.3ZM524.7 119.7 L543.3 119.7 L543.3 125.0 L541.3 127.0 L536.7 127.0 L535.3 125.0 L530.7 124.3 L529.3 122.3 L525.3 121.7ZM547.3 119.7 L559.3 119.7 L559.3 122.3 L550.7 122.6 L550.0 125.0 L547.3 125.0ZM618.7 140.0 L622.0 136.0 L627.3 133.3 L632.7 130.7 L642.0 130.0 L642.7 132.0 L634.0 134.0 L630.0 136.7 L626.0 141.3 L623.3 143.3 L618.7 143.3ZM313.3 270.3 L320.0 270.3 L325.3 275.0 L330.0 275.7 L330.0 278.3 L325.3 278.3 L321.3 274.3 L313.3 272.3ZM308.7 270.1 L311.3 270.1 L311.3 272.7 L308.7 272.7ZM334.0 279.0 L340.7 279.0 L343.3 283.0 L334.0 283.4ZM322.0 280.7 L325.3 280.7 L325.3 283.4 L322.0 283.4ZM347.3 280.7 L350.4 280.7 L350.4 283.7 L347.3 283.7ZM238.0 249.0 L242.7 249.0 L244.0 253.7 L246.0 256.3 L247.3 261.0 L249.3 265.0 L250.4 269.7 L247.7 270.3 L246.0 265.7 L242.7 261.0 L240.0 256.3 L238.7 253.0ZM365.5 465.8 L368.5 465.8 L368.5 469.0 L365.5 469.0ZM154.7 173.1 L159.3 173.1 L159.3 175.3 L155.3 175.3ZM90.5 538.0 L143.0 538.0 L144.0 534.4 L170.0 534.0 L171.0 531.6 L182.0 531.0 L183.0 529.0 L214.0 528.6 L215.0 526.6 L249.0 526.6 L250.4 529.4 L275.0 529.0 L276.0 526.4 L280.0 525.0 L281.0 521.6 L292.4 521.6 L293.6 524.4 L338.0 524.0 L338.0 521.0 L337.0 513.6 L343.0 513.6 L344.0 516.0 L348.0 512.0 L349.0 510.0 L354.0 510.0 L355.0 513.0 L363.0 514.0 L365.0 518.0 L370.0 519.0 L370.0 525.0 L366.0 527.0 L367.0 531.0 L374.0 533.0 L376.0 535.0 L388.0 535.0 L390.0 538.0 L426.0 538.0 L428.0 535.0 L436.0 534.0 L438.0 531.6 L446.0 531.0 L448.0 528.4 L456.0 527.6 L458.0 525.0 L472.0 524.4 L475.0 522.0 L484.0 521.0 L485.0 518.6 L493.0 518.0 L494.0 516.4 L571.0 516.0 L572.0 513.6 L584.0 513.6 L585.0 516.4 L588.0 516.4 L590.0 513.6 L594.0 511.0 L604.0 510.4 L605.6 508.0 L613.0 507.6 L614.4 505.4 L628.0 505.4 L630.0 508.0 L651.0 508.0 L653.0 511.0 L661.0 511.4 L662.0 514.0 L676.0 514.0 L678.0 511.0 L685.6 510.4 L687.0 508.0 L689.0 505.6 L726.0 505.6 L728.0 503.0 L733.0 503.0 L734.4 505.6 L734.0 505.3 L745.3 505.6 L746.0 508.3 L750.0 508.3 L750.7 505.6 L765.3 505.6 L766.0 508.3 L781.3 508.3 L782.0 505.6 L788.7 505.6 L789.3 508.3 L795.3 508.3 L796.0 505.6 L820.7 505.6 L821.3 508.3 L832.0 508.5 L832.7 511.3 L848.0 511.6 L848.7 514.4 L864.0 514.7 L866.0 518.9 L884.7 518.9 L886.0 522.7 L882.0 524.7 L881.3 526.9 L875.3 527.3 L874.0 529.6 L870.7 530.0 L870.7 534.9 L888.7 534.9 L889.3 537.7 L908.7 537.7 L912.0 538.0 L912.0 572.0 L88.0 572.0 L88.0 538.0ZM350.0 505.0 L358.0 504.0 L360.0 500.0 L368.0 500.0 L368.0 503.0 L361.0 504.0 L359.0 507.0 L351.0 508.0ZM912.0 145.7 L912.0 155.7 L905.3 157.7 L905.3 167.0 L900.0 167.7 L898.7 169.7 L893.3 169.7 L892.0 171.7 L885.3 172.3 L884.7 170.3 L878.7 170.3 L877.3 172.3 L873.3 172.3 L870.0 172.7 L871.3 178.0 L869.3 184.7 L864.7 187.3 L860.7 192.7 L858.0 196.7 L854.7 193.3 L854.7 183.3 L856.0 179.3 L853.3 176.3 L852.0 175.0 L849.3 175.0 L848.7 173.0 L844.0 173.7 L838.7 173.7 L837.3 175.0 L821.3 175.0 L820.7 174.7 L819.3 177.3 L815.3 179.3 L814.0 183.3 L811.3 186.7 L812.7 188.0 L820.7 188.0 L821.3 200.7 L816.7 204.7 L812.7 209.3 L808.7 212.7 L806.0 216.7 L797.3 220.0 L794.0 223.3 L791.3 228.7 L792.7 232.0 L792.7 238.0 L789.3 239.3 L787.3 241.3 L786.7 235.3 L784.7 230.0 L782.0 226.0 L778.7 226.0 L777.3 222.7 L774.0 223.3 L772.7 226.0 L768.7 227.3 L768.7 230.7 L772.7 232.7 L776.7 232.7 L774.0 236.7 L773.3 241.3 L776.0 243.3 L775.3 250.0 L777.3 252.7 L776.0 256.7 L772.7 262.0 L768.7 266.0 L768.7 265.0 L764.7 268.3 L761.3 270.3 L751.3 275.0 L748.7 275.0 L747.3 273.0 L744.7 275.0 L741.3 276.3 L741.3 282.3 L743.3 284.3 L746.0 288.3 L748.7 292.3 L747.3 301.7 L743.3 303.0 L740.7 307.0 L738.7 304.3 L735.3 301.7 L734.0 297.7 L729.3 297.7 L728.7 304.3 L731.3 312.3 L735.3 316.3 L736.0 323.0 L735.3 328.3 L732.7 329.0 L731.3 325.7 L728.7 320.3 L728.7 313.7 L726.0 311.0 L723.3 304.3 L724.7 297.7 L722.0 291.7 L719.3 289.7 L714.0 288.3 L712.0 277.7 L708.7 275.0 L707.3 271.7 L704.7 271.0 L696.7 273.7 L694.0 277.7 L689.3 281.7 L686.0 286.3 L681.3 288.3 L681.3 304.3 L678.7 306.3 L673.3 307.0 L674.0 300.3 L671.3 297.7 L669.3 291.0 L667.3 287.0 L666.0 275.7 L660.0 275.0 L658.0 272.3 L654.7 268.3 L650.7 265.4 L636.0 265.0 L635.3 263.7 L630.0 263.7 L629.3 263.3 L629.3 265.7 L634.0 267.7 L636.0 269.7 L634.0 275.0 L631.3 280.3 L627.3 282.3 L624.7 285.7 L619.3 287.0 L616.7 290.3 L608.7 295.0 L606.0 294.7 L602.0 296.7 L598.0 297.3 L598.0 302.0 L600.7 304.7 L603.3 302.7 L611.3 302.0 L614.0 300.0 L616.7 300.0 L616.0 306.7 L613.3 308.7 L611.3 314.0 L609.3 316.7 L606.0 322.7 L602.0 326.7 L599.3 330.0 L595.3 331.3 L594.7 336.7 L591.3 339.3 L588.7 342.7 L588.7 356.0 L591.3 359.3 L592.7 365.3 L591.3 372.0 L587.3 376.0 L584.7 377.7 L583.3 381.0 L580.0 381.7 L580.0 387.7 L582.0 390.3 L580.0 392.3 L579.3 396.3 L576.0 397.0 L574.0 404.3 L572.0 408.3 L568.7 413.0 L564.7 417.7 L560.0 419.0 L558.7 421.7 L546.0 421.7 L545.3 423.7 L543.3 422.3 L542.0 417.7 L540.0 413.0 L538.0 407.7 L535.3 404.3 L534.7 398.3 L532.7 393.7 L530.7 387.7 L528.7 381.7 L526.7 379.0 L527.3 370.3 L527.3 372.0 L528.7 368.0 L530.7 362.7 L531.3 357.3 L528.7 350.0 L527.3 344.0 L524.0 338.7 L521.3 334.7 L521.3 330.0 L523.3 327.3 L522.7 320.7 L519.3 318.0 L516.0 318.7 L514.0 314.7 L510.0 312.7 L509.3 314.0 L500.0 314.0 L498.7 315.3 L492.0 316.0 L486.0 317.3 L483.3 320.7 L482.0 318.0 L478.0 316.7 L474.7 313.3 L470.7 311.3 L470.0 306.7 L466.7 304.0 L464.0 302.0 L462.0 298.7 L462.0 291.3 L463.3 286.7 L462.0 286.0 L463.3 280.3 L462.0 277.7 L462.0 270.3 L466.0 267.7 L466.7 262.3 L470.0 260.3 L471.3 258.3 L474.7 256.3 L477.3 253.7 L478.7 247.7 L480.7 245.0 L483.3 243.7 L485.3 241.0 L486.0 238.3 L488.7 237.7 L488.7 234.7 L480.0 233.0 L480.0 215.0 L488.0 215.0 L488.7 216.3 L496.0 215.7 L497.3 213.0 L497.3 208.3 L494.7 205.0 L494.0 200.3 L490.0 200.3 L489.3 202.0 L496.0 201.3 L496.7 199.3 L503.3 198.0 L505.3 195.3 L509.3 194.0 L511.3 191.3 L516.7 189.3 L517.3 186.0 L518.0 181.3 L519.3 177.3 L514.0 176.0 L512.0 173.3 L512.0 168.7 L513.3 166.0 L519.3 164.0 L524.0 162.7 L524.7 158.7 L527.3 156.7 L528.7 154.0 L532.7 153.3 L534.0 150.0 L540.7 148.7 L542.0 146.0 L554.0 145.3 L555.3 143.1 L568.0 143.1 L569.3 145.3 L572.7 146.0 L573.3 148.0 L586.0 148.7 L586.7 151.3 L592.7 151.3 L592.7 154.7 L596.7 154.0 L597.3 156.0 L600.7 155.3 L600.7 149.3 L604.7 148.7 L605.3 152.0 L608.0 153.3 L610.0 151.3 L622.0 150.7 L622.7 148.7 L624.7 151.3 L627.3 150.0 L636.7 147.3 L638.7 146.7 L650.0 146.7 L651.3 143.3 L656.0 142.7 L658.0 138.7 L664.7 138.0 L666.0 140.7 L670.0 141.3 L671.3 138.0 L675.3 139.3 L682.7 138.0 L684.7 135.3 L698.0 134.7 L700.7 132.0 L704.7 129.4 L726.7 129.4 L728.0 127.0 L734.7 126.3 L736.7 125.0 L738.7 127.0 L754.7 127.0 L756.0 129.4 L759.3 129.9 L759.3 134.3 L768.0 135.0 L768.7 137.7 L781.3 137.7 L782.0 135.0 L785.3 135.0 L786.0 137.0 L788.0 135.0 L791.3 136.3 L793.3 139.0 L794.0 143.0 L799.3 143.0 L800.0 140.3 L803.3 140.3 L804.0 143.0 L807.3 142.3 L808.0 139.7 L813.3 139.7 L814.7 142.3 L818.0 142.3 L818.7 137.7 L821.3 135.0 L824.7 135.0 L826.0 137.7 L829.3 138.3 L830.0 140.3 L840.7 141.0 L841.3 143.0 L863.3 143.3 L864.7 146.3 L866.7 148.3 L868.7 146.3 L881.3 146.3 L882.0 148.3 L888.0 148.3 L888.7 146.3 L905.3 146.3ZM86.0 149.0 L95.0 149.0 L96.0 151.0 L102.0 151.2 L103.0 155.5 L104.5 156.0 L105.0 154.0 L111.5 154.0 L111.5 159.0 L107.0 159.5 L106.5 162.0 L104.5 162.5 L104.0 160.0 L100.5 159.0 L100.0 157.0 L86.0 157.0ZM86.0 140.0 L95.5 140.0 L95.5 143.2 L86.0 143.5ZM711.3 116.3 L720.7 116.3 L721.3 119.0 L727.3 119.7 L728.0 121.7 L738.7 122.3 L738.7 127.0 L728.0 127.0 L726.7 122.7 L714.0 122.3 L711.3 119.7ZM811.3 129.4 L830.0 129.4 L830.0 133.0 L811.3 133.0ZM833.3 129.4 L836.7 129.4 L836.7 133.0 L833.3 133.0ZM822.7 188.0 L825.7 188.0 L826.0 195.3 L827.6 196.0 L827.6 200.7 L825.7 201.3 L825.5 210.0 L822.7 210.0ZM821.3 214.7 L823.3 212.7 L826.0 214.7 L830.0 215.3 L829.3 218.0 L826.0 220.0 L822.7 220.0 L820.7 218.0ZM822.7 220.7 L823.3 226.0 L820.7 228.7 L820.7 238.0 L815.3 238.7 L812.7 240.7 L803.3 242.7 L802.0 244.7 L799.3 245.3 L798.0 248.7 L796.0 249.3 L795.3 242.7 L798.0 239.3 L803.3 236.7 L808.7 233.3 L815.3 228.7 L818.0 223.3 L819.3 220.7ZM772.7 264.3 L777.3 264.3 L777.3 270.3 L772.7 270.3ZM747.3 277.7 L752.0 277.7 L752.0 281.0 L749.3 283.0 L747.3 282.3ZM774.0 281.0 L777.3 281.0 L777.3 293.7 L774.7 293.7 L772.7 288.3 L773.3 284.3ZM777.3 299.7 L784.7 299.7 L784.7 301.7 L777.3 301.7ZM779.1 293.7 L782.0 293.7 L782.0 297.0 L779.1 297.0ZM782.0 301.7 L783.3 306.3 L786.7 307.0 L786.0 315.0 L782.0 315.0 L781.3 309.7 L780.0 307.7ZM682.0 305.0 L684.7 305.0 L686.3 311.0 L686.0 315.7 L682.0 315.7ZM487.3 176.7 L489.3 174.4 L493.3 174.4 L494.7 177.3 L496.0 182.7 L499.3 187.3 L500.7 190.7 L504.7 191.3 L504.0 194.0 L500.7 194.7 L500.0 197.3 L490.0 197.3 L489.3 194.7 L492.0 194.0 L492.0 191.3 L488.7 190.7 L489.3 185.3 L486.7 180.0ZM477.3 188.0 L480.0 185.3 L486.0 185.1 L487.3 189.3 L486.0 192.7 L480.0 193.3 L479.3 195.3 L477.3 194.7ZM611.3 362.7 L613.3 362.7 L614.0 371.0 L613.3 378.3 L611.3 385.0 L609.3 391.0 L608.0 395.7 L604.0 400.3 L601.3 398.3 L600.0 392.3 L598.0 391.0 L598.7 389.0 L600.7 389.0 L600.7 374.3 L604.7 373.0 L605.3 370.3 L608.7 369.7 L609.3 365.3ZM718.0 318.7 L721.3 317.3 L725.3 322.0 L728.7 326.7 L733.3 331.3 L738.7 336.0 L742.7 338.0 L742.0 342.7 L740.7 346.7 L736.0 346.0 L733.3 342.0 L730.0 338.7 L727.3 334.0 L724.0 328.7 L720.7 322.7ZM741.3 347.3 L746.7 347.3 L748.0 350.0 L758.7 350.7 L760.7 353.3 L760.0 355.3 L756.7 354.9 L755.3 352.7 L746.7 352.0 L744.0 351.3 L742.0 350.0ZM762.7 352.0 L766.7 352.0 L766.7 355.3 L762.7 355.3ZM768.0 352.7 L771.3 352.7 L772.7 358.0 L770.0 358.0 L768.7 355.3ZM748.0 326.7 L751.3 324.7 L756.7 322.0 L758.7 318.7 L763.3 317.3 L764.0 312.7 L768.7 312.7 L770.7 316.7 L768.0 318.0 L768.7 325.3 L770.0 327.3 L766.7 330.0 L765.3 338.7 L762.7 340.0 L760.0 338.7 L750.7 338.7 L749.3 332.0ZM770.7 333.3 L777.3 333.3 L777.3 340.0 L774.7 340.0 L774.0 344.0 L771.3 344.0ZM772.7 328.0 L782.7 328.0 L782.7 330.0 L772.7 330.0ZM788.7 326.0 L791.3 326.0 L793.3 330.0 L790.0 330.0ZM782.0 354.0 L784.7 352.0 L788.7 352.3 L788.7 354.9 L784.7 355.3 L783.3 357.6 L781.6 357.3ZM798.0 332.7 L802.0 332.7 L808.0 340.0 L806.0 340.7 L800.0 336.7ZM786.7 338.7 L788.7 338.7 L788.7 340.7 L786.7 340.7ZM793.3 338.7 L797.3 338.7 L797.3 340.7 L793.3 340.7ZM808.0 340.0 L810.0 337.3 L820.0 336.7 L821.3 338.7 L827.3 339.3 L830.0 341.3 L832.0 346.0 L835.3 347.3 L835.3 350.0 L829.3 351.3 L826.7 354.0 L818.7 354.7 L817.3 352.0 L814.0 351.3 L813.3 346.7 L810.0 344.0ZM838.7 344.7 L845.3 344.7 L845.3 347.3 L838.7 347.3ZM834.0 350.7 L835.3 354.0 L840.7 354.7 L840.7 357.3 L834.0 357.3ZM851.3 346.0 L855.3 346.0 L855.3 350.0 L851.3 350.0ZM756.7 400.0 L757.3 393.3 L760.0 392.0 L761.3 386.7 L766.7 386.0 L768.7 383.3 L774.7 382.7 L776.7 376.0 L781.3 375.3 L783.3 368.7 L793.3 368.7 L794.7 366.0 L797.3 364.0 L797.3 360.7 L800.7 360.0 L802.0 362.0 L808.0 362.7 L808.7 369.3 L812.0 372.0 L814.0 376.0 L820.0 376.0 L821.3 365.3 L823.3 363.3 L826.0 364.0 L826.0 368.0 L830.0 368.7 L831.3 377.3 L835.3 380.0 L836.7 385.3 L841.3 388.0 L843.3 393.3 L846.7 396.0 L846.0 395.7 L848.0 399.7 L848.7 405.0 L850.0 406.3 L848.0 409.0 L847.3 416.3 L845.3 421.0 L842.0 423.7 L841.3 431.0 L836.0 431.7 L833.3 434.3 L829.3 432.3 L826.7 433.7 L824.0 434.3 L822.0 431.7 L819.3 431.0 L817.3 427.7 L814.0 423.7 L813.3 426.3 L811.3 425.7 L810.7 421.0 L808.7 423.0 L806.7 422.3 L806.7 418.3 L804.0 416.3 L786.7 416.3 L785.3 417.7 L780.0 418.3 L778.7 421.0 L771.3 421.7 L770.7 423.7 L761.3 423.7 L761.3 417.7 L763.3 416.3 L762.7 409.0 L759.3 407.7 L758.7 399.7 L756.7 397.0ZM829.3 439.7 L835.3 439.7 L835.3 445.0 L834.0 447.7 L831.3 447.0 L830.0 443.7ZM892.7 423.7 L895.3 423.7 L897.3 427.7 L900.0 429.7 L904.7 431.0 L905.3 434.3 L902.7 437.0 L901.3 441.0 L898.0 442.3 L896.0 437.7 L896.7 433.0 L894.0 427.7ZM890.7 439.7 L895.3 439.7 L894.7 445.0 L891.3 448.3 L888.0 450.3 L886.7 454.3 L883.3 456.3 L880.7 453.7 L879.3 450.3 L883.3 447.0 L887.3 443.7Z" fill="none" stroke="#000" stroke-width="1.9" stroke-linejoin="miter"/>
</g>
<path d="M90.5 93.6V567.5" stroke="#000" stroke-width="1.4" fill="none"/>
<path d="M908.5 93.6V567.5" stroke="#000" stroke-width="1.4" fill="none"/>
<path d="M89.8 93.6H909.2" stroke="#000" stroke-width="2" fill="none"/>
<path d="M89.8 567.5H909.2" stroke="#000" stroke-width="2" fill="none"/>
<g stroke="#000" stroke-width="1.2">
<line x1="90.4" y1="567.5" x2="90.4" y2="573.0"/>
<line x1="226.8" y1="567.5" x2="226.8" y2="573.0"/>
<line x1="363.1" y1="567.5" x2="363.1" y2="573.0"/>
<line x1="499.5" y1="567.5" x2="499.5" y2="573.0"/>
<line x1="635.9" y1="567.5" x2="635.9" y2="573.0"/>
<line x1="772.2" y1="567.5" x2="772.2" y2="573.0"/>
<line x1="908.5" y1="567.5" x2="908.5" y2="573.0"/>
<line x1="84.0" y1="172.3" x2="90.5" y2="172.3"/>
<line x1="84.0" y1="251.3" x2="90.5" y2="251.3"/>
<line x1="84.0" y1="330.8" x2="90.5" y2="330.8"/>
<line x1="84.0" y1="410.8" x2="90.5" y2="410.8"/>
<line x1="84.0" y1="490.0" x2="90.5" y2="490.0"/>
</g>
<g class="ax">
<text x="72.4" y="595.0" font-size="19.8" textLength="38.4" lengthAdjust="spacingAndGlyphs">180</text>
<text x="201.6" y="595.0" font-size="19.8" textLength="54.2" lengthAdjust="spacingAndGlyphs">120W</text>
<text x="342.4" y="595.0" font-size="19.8" textLength="41.7" lengthAdjust="spacingAndGlyphs">60W</text>
<text x="493.4" y="595.0" font-size="19.8" textLength="14.4" lengthAdjust="spacingAndGlyphs">0</text>
<text x="616.6" y="595.0" font-size="19.8" textLength="40.7" lengthAdjust="spacingAndGlyphs">60E</text>
<text x="748.6" y="595.0" font-size="19.8" textLength="51.2" lengthAdjust="spacingAndGlyphs">120E</text>
<text x="891.1" y="595.0" font-size="19.8" textLength="38.0" lengthAdjust="spacingAndGlyphs">180</text>
<text x="37.4" y="180.6" font-size="19.9" textLength="41.9" lengthAdjust="spacingAndGlyphs">60N</text>
<text x="37.4" y="259.6" font-size="19.9" textLength="41.9" lengthAdjust="spacingAndGlyphs">30N</text>
<text x="50.2" y="339.2" font-size="19.9" textLength="29.1" lengthAdjust="spacingAndGlyphs">EQ</text>
<text x="39.0" y="418.9" font-size="19.9" textLength="40.3" lengthAdjust="spacingAndGlyphs">30S</text>
<text x="37.4" y="498.3" font-size="19.9" textLength="41.9" lengthAdjust="spacingAndGlyphs">60S</text>
</g>
<text x="418.6" y="559.0" font-size="19.2" textLength="165.4" lengthAdjust="spacingAndGlyphs" stroke-width="0.22">(C)JAXA/NIES/MOE</text>
</g>
<rect x="188.00" y="637.0" width="12.80" height="14.0" fill="rgb(5,255,5)"/>
<rect x="200.50" y="637.0" width="12.80" height="14.0" fill="rgb(16,255,16)"/>
<rect x="213.00" y="637.0" width="12.80" height="14.0" fill="rgb(27,255,27)"/>
<rect x="225.50" y="637.0" width="12.80" height="14.0" fill="rgb(37,255,37)"/>
<rect x="238.00" y="637.0" width="12.80" height="14.0" fill="rgb(48,255,48)"/>
<rect x="250.50" y="637.0" width="12.80" height="14.0" fill="rgb(58,255,58)"/>
<rect x="263.00" y="637.0" width="12.80" height="14.0" fill="rgb(69,255,69)"/>
<rect x="275.50" y="637.0" width="12.80" height="14.0" fill="rgb(80,255,80)"/>
<rect x="288.00" y="637.0" width="12.80" height="14.0" fill="rgb(90,255,90)"/>
<rect x="300.50" y="637.0" width="12.80" height="14.0" fill="rgb(101,255,101)"/>
<rect x="313.00" y="637.0" width="12.80" height="14.0" fill="rgb(112,255,112)"/>
<rect x="325.50" y="637.0" width="12.80" height="14.0" fill="rgb(122,255,122)"/>
<rect x="338.00" y="637.0" width="12.80" height="14.0" fill="rgb(133,255,133)"/>
<rect x="350.50" y="637.0" width="12.80" height="14.0" fill="rgb(143,255,143)"/>
<rect x="363.00" y="637.0" width="12.80" height="14.0" fill="rgb(154,255,154)"/>
<rect x="375.50" y="637.0" width="12.80" height="14.0" fill="rgb(165,255,165)"/>
<rect x="388.00" y="637.0" width="12.80" height="14.0" fill="rgb(175,255,175)"/>
<rect x="400.50" y="637.0" width="12.80" height="14.0" fill="rgb(186,255,186)"/>
<rect x="413.00" y="637.0" width="12.80" height="14.0" fill="rgb(197,255,197)"/>
<rect x="425.50" y="637.0" width="12.80" height="14.0" fill="rgb(207,255,207)"/>
<rect x="438.00" y="637.0" width="12.80" height="14.0" fill="rgb(218,255,218)"/>
<rect x="450.50" y="637.0" width="12.80" height="14.0" fill="rgb(228,255,228)"/>
<rect x="463.00" y="637.0" width="12.80" height="14.0" fill="rgb(239,255,239)"/>
<rect x="475.50" y="637.0" width="12.80" height="14.0" fill="rgb(250,255,250)"/>
<rect x="488.00" y="637.0" width="12.80" height="14.0" fill="rgb(255,255,255)"/>
<rect x="500.50" y="637.0" width="12.80" height="14.0" fill="rgb(255,255,255)"/>
<rect x="513.00" y="637.0" width="12.80" height="14.0" fill="rgb(255,250,250)"/>
<rect x="525.50" y="637.0" width="12.80" height="14.0" fill="rgb(255,239,239)"/>
<rect x="538.00" y="637.0" width="12.80" height="14.0" fill="rgb(255,228,228)"/>
<rect x="550.50" y="637.0" width="12.80" height="14.0" fill="rgb(255,218,218)"/>
<rect x="563.00" y="637.0" width="12.80" height="14.0" fill="rgb(255,207,207)"/>
<rect x="575.50" y="637.0" width="12.80" height="14.0" fill="rgb(255,197,197)"/>
<rect x="588.00" y="637.0" width="12.80" height="14.0" fill="rgb(255,186,186)"/>
<rect x="600.50" y="637.0" width="12.80" height="14.0" fill="rgb(255,175,175)"/>
<rect x="613.00" y="637.0" width="12.80" height="14.0" fill="rgb(255,165,165)"/>
<rect x="625.50" y="637.0" width="12.80" height="14.0" fill="rgb(255,154,154)"/>
<rect x="638.00" y="637.0" width="12.80" height="14.0" fill="rgb(255,143,143)"/>
<rect x="650.50" y="637.0" width="12.80" height="14.0" fill="rgb(255,133,133)"/>
<rect x="663.00" y="637.0" width="12.80" height="14.0" fill="rgb(255,122,122)"/>
<rect x="675.50" y="637.0" width="12.80" height="14.0" fill="rgb(255,112,112)"/>
<rect x="688.00" y="637.0" width="12.80" height="14.0" fill="rgb(255,101,101)"/>
<rect x="700.50" y="637.0" width="12.80" height="14.0" fill="rgb(255,90,90)"/>
<rect x="713.00" y="637.0" width="12.80" height="14.0" fill="rgb(255,80,80)"/>
<rect x="725.50" y="637.0" width="12.80" height="14.0" fill="rgb(255,69,69)"/>
<rect x="738.00" y="637.0" width="12.80" height="14.0" fill="rgb(255,58,58)"/>
<rect x="750.50" y="637.0" width="12.80" height="14.0" fill="rgb(255,48,48)"/>
<rect x="763.00" y="637.0" width="12.80" height="14.0" fill="rgb(255,37,37)"/>
<rect x="775.50" y="637.0" width="12.80" height="14.0" fill="rgb(255,27,27)"/>
<rect x="788.00" y="637.0" width="12.80" height="14.0" fill="rgb(255,16,16)"/>
<rect x="800.50" y="637.0" width="12.80" height="14.0" fill="rgb(255,5,5)"/>
<polygon points="188.3,637.0 160.0,644.0 188.3,651.0" fill="#00ff00"/>
<polygon points="812.7,637.0 841.0,644.0 812.7,651.0" fill="#ff0000"/>
<polygon points="188.0,637.0 813.0,637.0 841.0,644.0 813.0,651.0 188.0,651.0 160.0,644.0" fill="none" stroke="#444" stroke-width="0.8"/>
<g stroke="#333" stroke-width="0.9">
<line x1="188.0" y1="637.0" x2="188.0" y2="641.5"/>
<line x1="200.5" y1="637.0" x2="200.5" y2="639.5"/>
<line x1="213.0" y1="637.0" x2="213.0" y2="639.5"/>
<line x1="225.5" y1="637.0" x2="225.5" y2="639.5"/>
<line x1="238.0" y1="637.0" x2="238.0" y2="639.5"/>
<line x1="250.5" y1="637.0" x2="250.5" y2="641.5"/>
<line x1="263.0" y1="637.0" x2="263.0" y2="639.5"/>
<line x1="275.5" y1="637.0" x2="275.5" y2="639.5"/>
<line x1="288.0" y1="637.0" x2="288.0" y2="639.5"/>
<line x1="300.5" y1="637.0" x2="300.5" y2="639.5"/>
<line x1="313.0" y1="637.0" x2="313.0" y2="641.5"/>
<line x1="325.5" y1="637.0" x2="325.5" y2="639.5"/>
<line x1="338.0" y1="637.0" x2="338.0" y2="639.5"/>
<line x1="350.5" y1="637.0" x2="350.5" y2="639.5"/>
<line x1="363.0" y1="637.0" x2="363.0" y2="639.5"/>
<line x1="375.5" y1="637.0" x2="375.5" y2="641.5"/>
<line x1="388.0" y1="637.0" x2="388.0" y2="639.5"/>
<line x1="400.5" y1="637.0" x2="400.5" y2="639.5"/>
<line x1="413.0" y1="637.0" x2="413.0" y2="639.5"/>
<line x1="425.5" y1="637.0" x2="425.5" y2="639.5"/>
<line x1="438.0" y1="637.0" x2="438.0" y2="641.5"/>
<line x1="450.5" y1="637.0" x2="450.5" y2="639.5"/>
<line x1="463.0" y1="637.0" x2="463.0" y2="639.5"/>
<line x1="475.5" y1="637.0" x2="475.5" y2="639.5"/>
<line x1="488.0" y1="637.0" x2="488.0" y2="639.5"/>
<line x1="500.5" y1="637.0" x2="500.5" y2="641.5"/>
<line x1="513.0" y1="637.0" x2="513.0" y2="639.5"/>
<line x1="525.5" y1="637.0" x2="525.5" y2="639.5"/>
<line x1="538.0" y1="637.0" x2="538.0" y2="639.5"/>
<line x1="550.5" y1="637.0" x2="550.5" y2="639.5"/>
<line x1="563.0" y1="637.0" x2="563.0" y2="641.5"/>
<line x1="575.5" y1="637.0" x2="575.5" y2="639.5"/>
<line x1="588.0" y1="637.0" x2="588.0" y2="639.5"/>
<line x1="600.5" y1="637.0" x2="600.5" y2="639.5"/>
<line x1="613.0" y1="637.0" x2="613.0" y2="639.5"/>
<line x1="625.5" y1="637.0" x2="625.5" y2="641.5"/>
<line x1="638.0" y1="637.0" x2="638.0" y2="639.5"/>
<line x1="650.5" y1="637.0" x2="650.5" y2="639.5"/>
<line x1="663.0" y1="637.0" x2="663.0" y2="639.5"/>
<line x1="675.5" y1="637.0" x2="675.5" y2="639.5"/>
<line x1="688.0" y1="637.0" x2="688.0" y2="641.5"/>
<line x1="700.5" y1="637.0" x2="700.5" y2="639.5"/>
<line x1="713.0" y1="637.0" x2="713.0" y2="639.5"/>
<line x1="725.5" y1="637.0" x2="725.5" y2="639.5"/>
<line x1="738.0" y1="637.0" x2="738.0" y2="639.5"/>
<line x1="750.5" y1="637.0" x2="750.5" y2="641.5"/>
<line x1="763.0" y1="637.0" x2="763.0" y2="639.5"/>
<line x1="775.5" y1="637.0" x2="775.5" y2="639.5"/>
<line x1="788.0" y1="637.0" x2="788.0" y2="639.5"/>
<line x1="800.5" y1="637.0" x2="800.5" y2="639.5"/>
<line x1="813.0" y1="637.0" x2="813.0" y2="641.5"/>
</g>
<rect x="188.00" y="655.5" width="12.80" height="14.0" fill="rgb(5,5,255)"/>
<rect x="200.50" y="655.5" width="12.80" height="14.0" fill="rgb(16,16,255)"/>
<rect x="213.00" y="655.5" width="12.80" height="14.0" fill="rgb(27,27,255)"/>
<rect x="225.50" y="655.5" width="12.80" height="14.0" fill="rgb(37,37,255)"/>
<rect x="238.00" y="655.5" width="12.80" height="14.0" fill="rgb(48,48,255)"/>
<rect x="250.50" y="655.5" width="12.80" height="14.0" fill="rgb(58,58,255)"/>
<rect x="263.00" y="655.5" width="12.80" height="14.0" fill="rgb(69,69,255)"/>
<rect x="275.50" y="655.5" width="12.80" height="14.0" fill="rgb(80,80,255)"/>
<rect x="288.00" y="655.5" width="12.80" height="14.0" fill="rgb(90,90,255)"/>
<rect x="300.50" y="655.5" width="12.80" height="14.0" fill="rgb(101,101,255)"/>
<rect x="313.00" y="655.5" width="12.80" height="14.0" fill="rgb(112,112,255)"/>
<rect x="325.50" y="655.5" width="12.80" height="14.0" fill="rgb(122,122,255)"/>
<rect x="338.00" y="655.5" width="12.80" height="14.0" fill="rgb(133,133,255)"/>
<rect x="350.50" y="655.5" width="12.80" height="14.0" fill="rgb(143,143,255)"/>
<rect x="363.00" y="655.5" width="12.80" height="14.0" fill="rgb(154,154,255)"/>
<rect x="375.50" y="655.5" width="12.80" height="14.0" fill="rgb(165,165,255)"/>
<rect x="388.00" y="655.5" width="12.80" height="14.0" fill="rgb(175,175,255)"/>
<rect x="400.50" y="655.5" width="12.80" height="14.0" fill="rgb(186,186,255)"/>
<rect x="413.00" y="655.5" width="12.80" height="14.0" fill="rgb(197,197,255)"/>
<rect x="425.50" y="655.5" width="12.80" height="14.0" fill="rgb(207,207,255)"/>
<rect x="438.00" y="655.5" width="12.80" height="14.0" fill="rgb(218,218,255)"/>
<rect x="450.50" y="655.5" width="12.80" height="14.0" fill="rgb(228,228,255)"/>
<rect x="463.00" y="655.5" width="12.80" height="14.0" fill="rgb(239,239,255)"/>
<rect x="475.50" y="655.5" width="12.80" height="14.0" fill="rgb(250,250,255)"/>
<rect x="488.00" y="655.5" width="12.80" height="14.0" fill="rgb(255,255,255)"/>
<rect x="500.50" y="655.5" width="12.80" height="14.0" fill="rgb(255,255,255)"/>
<rect x="513.00" y="655.5" width="12.80" height="14.0" fill="rgb(255,250,250)"/>
<rect x="525.50" y="655.5" width="12.80" height="14.0" fill="rgb(255,239,239)"/>
<rect x="538.00" y="655.5" width="12.80" height="14.0" fill="rgb(255,228,228)"/>
<rect x="550.50" y="655.5" width="12.80" height="14.0" fill="rgb(255,218,218)"/>
<rect x="563.00" y="655.5" width="12.80" height="14.0" fill="rgb(255,207,207)"/>
<rect x="575.50" y="655.5" width="12.80" height="14.0" fill="rgb(255,197,197)"/>
<rect x="588.00" y="655.5" width="12.80" height="14.0" fill="rgb(255,186,186)"/>
<rect x="600.50" y="655.5" width="12.80" height="14.0" fill="rgb(255,175,175)"/>
<rect x="613.00" y="655.5" width="12.80" height="14.0" fill="rgb(255,165,165)"/>
<rect x="625.50" y="655.5" width="12.80" height="14.0" fill="rgb(255,154,154)"/>
<rect x="638.00" y="655.5" width="12.80" height="14.0" fill="rgb(255,143,143)"/>
<rect x="650.50" y="655.5" width="12.80" height="14.0" fill="rgb(255,133,133)"/>
<rect x="663.00" y="655.5" width="12.80" height="14.0" fill="rgb(255,122,122)"/>
<rect x="675.50" y="655.5" width="12.80" height="14.0" fill="rgb(255,112,112)"/>
<rect x="688.00" y="655.5" width="12.80" height="14.0" fill="rgb(255,101,101)"/>
<rect x="700.50" y="655.5" width="12.80" height="14.0" fill="rgb(255,90,90)"/>
<rect x="713.00" y="655.5" width="12.80" height="14.0" fill="rgb(255,80,80)"/>
<rect x="725.50" y="655.5" width="12.80" height="14.0" fill="rgb(255,69,69)"/>
<rect x="738.00" y="655.5" width="12.80" height="14.0" fill="rgb(255,58,58)"/>
<rect x="750.50" y="655.5" width="12.80" height="14.0" fill="rgb(255,48,48)"/>
<rect x="763.00" y="655.5" width="12.80" height="14.0" fill="rgb(255,37,37)"/>
<rect x="775.50" y="655.5" width="12.80" height="14.0" fill="rgb(255,27,27)"/>
<rect x="788.00" y="655.5" width="12.80" height="14.0" fill="rgb(255,16,16)"/>
<rect x="800.50" y="655.5" width="12.80" height="14.0" fill="rgb(255,5,5)"/>
<polygon points="188.3,655.5 160.0,662.5 188.3,669.5" fill="#0000ff"/>
<polygon points="812.7,655.5 841.0,662.5 812.7,669.5" fill="#ff0000"/>
<polygon points="188.0,655.5 813.0,655.5 841.0,662.5 813.0,669.5 188.0,669.5 160.0,662.5" fill="none" stroke="#444" stroke-width="0.8"/>
<g stroke="#333" stroke-width="0.9">
<line x1="188.0" y1="669.5" x2="188.0" y2="665.0"/>
<line x1="200.5" y1="669.5" x2="200.5" y2="667.0"/>
<line x1="213.0" y1="669.5" x2="213.0" y2="667.0"/>
<line x1="225.5" y1="669.5" x2="225.5" y2="667.0"/>
<line x1="238.0" y1="669.5" x2="238.0" y2="667.0"/>
<line x1="250.5" y1="669.5" x2="250.5" y2="665.0"/>
<line x1="263.0" y1="669.5" x2="263.0" y2="667.0"/>
<line x1="275.5" y1="669.5" x2="275.5" y2="667.0"/>
<line x1="288.0" y1="669.5" x2="288.0" y2="667.0"/>
<line x1="300.5" y1="669.5" x2="300.5" y2="667.0"/>
<line x1="313.0" y1="669.5" x2="313.0" y2="665.0"/>
<line x1="325.5" y1="669.5" x2="325.5" y2="667.0"/>
<line x1="338.0" y1="669.5" x2="338.0" y2="667.0"/>
<line x1="350.5" y1="669.5" x2="350.5" y2="667.0"/>
<line x1="363.0" y1="669.5" x2="363.0" y2="667.0"/>
<line x1="375.5" y1="669.5" x2="375.5" y2="665.0"/>
<line x1="388.0" y1="669.5" x2="388.0" y2="667.0"/>
<line x1="400.5" y1="669.5" x2="400.5" y2="667.0"/>
<line x1="413.0" y1="669.5" x2="413.0" y2="667.0"/>
<line x1="425.5" y1="669.5" x2="425.5" y2="667.0"/>
<line x1="438.0" y1="669.5" x2="438.0" y2="665.0"/>
<line x1="450.5" y1="669.5" x2="450.5" y2="667.0"/>
<line x1="463.0" y1="669.5" x2="463.0" y2="667.0"/>
<line x1="475.5" y1="669.5" x2="475.5" y2="667.0"/>
<line x1="488.0" y1="669.5" x2="488.0" y2="667.0"/>
<line x1="500.5" y1="669.5" x2="500.5" y2="665.0"/>
<line x1="513.0" y1="669.5" x2="513.0" y2="667.0"/>
<line x1="525.5" y1="669.5" x2="525.5" y2="667.0"/>
<line x1="538.0" y1="669.5" x2="538.0" y2="667.0"/>
<line x1="550.5" y1="669.5" x2="550.5" y2="667.0"/>
<line x1="563.0" y1="669.5" x2="563.0" y2="665.0"/>
<line x1="575.5" y1="669.5" x2="575.5" y2="667.0"/>
<line x1="588.0" y1="669.5" x2="588.0" y2="667.0"/>
<line x1="600.5" y1="669.5" x2="600.5" y2="667.0"/>
<line x1="613.0" y1="669.5" x2="613.0" y2="667.0"/>
<line x1="625.5" y1="669.5" x2="625.5" y2="665.0"/>
<line x1="638.0" y1="669.5" x2="638.0" y2="667.0"/>
<line x1="650.5" y1="669.5" x2="650.5" y2="667.0"/>
<line x1="663.0" y1="669.5" x2="663.0" y2="667.0"/>
<line x1="675.5" y1="669.5" x2="675.5" y2="667.0"/>
<line x1="688.0" y1="669.5" x2="688.0" y2="665.0"/>
<line x1="700.5" y1="669.5" x2="700.5" y2="667.0"/>
<line x1="713.0" y1="669.5" x2="713.0" y2="667.0"/>
<line x1="725.5" y1="669.5" x2="725.5" y2="667.0"/>
<line x1="738.0" y1="669.5" x2="738.0" y2="667.0"/>
<line x1="750.5" y1="669.5" x2="750.5" y2="665.0"/>
<line x1="763.0" y1="669.5" x2="763.0" y2="667.0"/>
<line x1="775.5" y1="669.5" x2="775.5" y2="667.0"/>
<line x1="788.0" y1="669.5" x2="788.0" y2="667.0"/>
<line x1="800.5" y1="669.5" x2="800.5" y2="667.0"/>
<line x1="813.0" y1="669.5" x2="813.0" y2="665.0"/>
</g>
<g class="cb">
<text x="174.8" y="630.5" font-size="17.2" textLength="27.4" lengthAdjust="spacingAndGlyphs">−5</text>
<text x="166.1" y="687.5" font-size="17.2" textLength="45.4" lengthAdjust="spacingAndGlyphs">−0.5</text>
<text x="237.3" y="630.5" font-size="17.2" textLength="27.4" lengthAdjust="spacingAndGlyphs">−4</text>
<text x="228.6" y="687.5" font-size="17.2" textLength="45.4" lengthAdjust="spacingAndGlyphs">−0.4</text>
<text x="299.8" y="630.5" font-size="17.2" textLength="27.4" lengthAdjust="spacingAndGlyphs">−3</text>
<text x="291.1" y="687.5" font-size="17.2" textLength="45.4" lengthAdjust="spacingAndGlyphs">−0.3</text>
<text x="362.3" y="630.5" font-size="17.2" textLength="27.4" lengthAdjust="spacingAndGlyphs">−2</text>
<text x="353.6" y="687.5" font-size="17.2" textLength="45.4" lengthAdjust="spacingAndGlyphs">−0.2</text>
<text x="424.8" y="630.5" font-size="17.2" textLength="24.7" lengthAdjust="spacingAndGlyphs">−1</text>
<text x="416.1" y="687.5" font-size="17.2" textLength="42.2" lengthAdjust="spacingAndGlyphs">−0.1</text>
<text x="493.8" y="630.5" font-size="17.2" textLength="13.7" lengthAdjust="spacingAndGlyphs">0</text>
<text x="493.8" y="687.5" font-size="17.2" textLength="13.7" lengthAdjust="spacingAndGlyphs">0</text>
<text x="557.1" y="630.5" font-size="17.2" textLength="10.4" lengthAdjust="spacingAndGlyphs">1</text>
<text x="546.3" y="687.5" font-size="17.2" textLength="29.4" lengthAdjust="spacingAndGlyphs">0.1</text>
<text x="618.8" y="630.5" font-size="17.2" textLength="13.7" lengthAdjust="spacingAndGlyphs">2</text>
<text x="608.8" y="687.5" font-size="17.2" textLength="32.1" lengthAdjust="spacingAndGlyphs">0.2</text>
<text x="681.3" y="630.5" font-size="17.2" textLength="13.7" lengthAdjust="spacingAndGlyphs">3</text>
<text x="671.3" y="687.5" font-size="17.2" textLength="32.1" lengthAdjust="spacingAndGlyphs">0.3</text>
<text x="743.8" y="630.5" font-size="17.2" textLength="13.7" lengthAdjust="spacingAndGlyphs">4</text>
<text x="733.8" y="687.5" font-size="17.2" textLength="32.1" lengthAdjust="spacingAndGlyphs">0.4</text>
<text x="806.3" y="630.5" font-size="17.2" textLength="13.7" lengthAdjust="spacingAndGlyphs">5</text>
<text x="796.3" y="687.5" font-size="17.2" textLength="32.1" lengthAdjust="spacingAndGlyphs">0.5</text>
<text x="97.4" y="646.2" font-size="18.9" textLength="48.9" lengthAdjust="spacingAndGlyphs">Land</text>
<text x="109.1" y="673.8" font-size="18.9" textLength="37.2" lengthAdjust="spacingAndGlyphs">Sea</text>
<text x="841.6" y="687.5" font-size="17.2" textLength="114.4" lengthAdjust="spacingAndGlyphs">(gC/m²/day)</text>
</g>
<defs><linearGradient id="gl" x1="0" x2="1" y1="0" y2="0"><stop offset="0" stop-color="#ffffff"/><stop offset="0.167" stop-color="#ffecd2"/><stop offset="0.333" stop-color="#ffd9a6"/><stop offset="0.5" stop-color="#fcc184"/><stop offset="0.633" stop-color="#f2aa6c"/><stop offset="0.70" stop-color="#dc9c64"/><stop offset="0.78" stop-color="#a87848"/><stop offset="0.86" stop-color="#6c4c30"/><stop offset="0.93" stop-color="#302010"/><stop offset="1" stop-color="#000000"/></linearGradient><linearGradient id="gs" x1="0" x2="1" y1="0" y2="0"><stop offset="0" stop-color="#ffffff"/><stop offset="1" stop-color="#000000"/></linearGradient></defs>
<rect x="1117.5" y="637.0" width="625.5" height="14.0" fill="url(#gl)"/>
<polygon points="1742.7,637.0 1771.0,644.0 1742.7,651.0" fill="#000"/>
<polygon points="1117.5,637.0 1743.0,637.0 1771.0,644.0 1743.0,651.0 1117.5,651.0" fill="none" stroke="#444" stroke-width="0.9"/>
<g stroke="#444" stroke-width="0.8">
<line x1="1159.2" y1="637.0" x2="1159.2" y2="639.6"/>
<line x1="1200.9" y1="637.0" x2="1200.9" y2="639.6"/>
<line x1="1242.6" y1="637.0" x2="1242.6" y2="639.6"/>
<line x1="1284.3" y1="637.0" x2="1284.3" y2="639.6"/>
<line x1="1326.0" y1="637.0" x2="1326.0" y2="641.0"/>
<line x1="1367.7" y1="637.0" x2="1367.7" y2="639.6"/>
<line x1="1409.4" y1="637.0" x2="1409.4" y2="639.6"/>
<line x1="1451.1" y1="637.0" x2="1451.1" y2="639.6"/>
<line x1="1492.8" y1="637.0" x2="1492.8" y2="639.6"/>
<line x1="1534.5" y1="637.0" x2="1534.5" y2="641.0"/>
<line x1="1576.2" y1="637.0" x2="1576.2" y2="639.6"/>
<line x1="1617.9" y1="637.0" x2="1617.9" y2="639.6"/>
<line x1="1659.6" y1="637.0" x2="1659.6" y2="639.6"/>
<line x1="1701.3" y1="637.0" x2="1701.3" y2="639.6"/>
<line x1="1743.0" y1="637.0" x2="1743.0" y2="641.0"/>
</g>
<rect x="1117.5" y="655.5" width="625.5" height="14.0" fill="url(#gs)"/>
<polygon points="1742.7,655.5 1771.0,662.5 1742.7,669.5" fill="#000"/>
<polygon points="1117.5,655.5 1743.0,655.5 1771.0,662.5 1743.0,669.5 1117.5,669.5" fill="none" stroke="#444" stroke-width="0.9"/>
<g stroke="#444" stroke-width="0.8">
<line x1="1159.2" y1="669.5" x2="1159.2" y2="666.9"/>
<line x1="1200.9" y1="669.5" x2="1200.9" y2="666.9"/>
<line x1="1242.6" y1="669.5" x2="1242.6" y2="666.9"/>
<line x1="1284.3" y1="669.5" x2="1284.3" y2="666.9"/>
<line x1="1326.0" y1="669.5" x2="1326.0" y2="665.5"/>
<line x1="1367.7" y1="669.5" x2="1367.7" y2="666.9"/>
<line x1="1409.4" y1="669.5" x2="1409.4" y2="666.9"/>
<line x1="1451.1" y1="669.5" x2="1451.1" y2="666.9"/>
<line x1="1492.8" y1="669.5" x2="1492.8" y2="666.9"/>
<line x1="1534.5" y1="669.5" x2="1534.5" y2="665.5"/>
<line x1="1576.2" y1="669.5" x2="1576.2" y2="666.9"/>
<line x1="1617.9" y1="669.5" x2="1617.9" y2="666.9"/>
<line x1="1659.6" y1="669.5" x2="1659.6" y2="666.9"/>
<line x1="1701.3" y1="669.5" x2="1701.3" y2="666.9"/>
<line x1="1743.0" y1="669.5" x2="1743.0" y2="665.5"/>
</g>
<g class="cb">
<text x="1111.4" y="630.5" font-size="17.2" textLength="13.8" lengthAdjust="spacingAndGlyphs">0</text>
<text x="1111.4" y="687.5" font-size="17.2" textLength="13.8" lengthAdjust="spacingAndGlyphs">0</text>
<text x="1309.9" y="630.5" font-size="17.2" textLength="32.4" lengthAdjust="spacingAndGlyphs">0.5</text>
<text x="1303.6" y="687.5" font-size="17.2" textLength="44.9" lengthAdjust="spacingAndGlyphs">0.05</text>
<text x="1528.1" y="630.5" font-size="17.2" textLength="10.4" lengthAdjust="spacingAndGlyphs">1</text>
<text x="1518.1" y="687.5" font-size="17.2" textLength="29.4" lengthAdjust="spacingAndGlyphs">0.1</text>
<text x="1727.4" y="630.5" font-size="17.2" textLength="31.1" lengthAdjust="spacingAndGlyphs">1.5</text>
<text x="1719.9" y="687.5" font-size="17.2" textLength="42.4" lengthAdjust="spacingAndGlyphs">0.15</text>
<text x="1044.9" y="646.2" font-size="18.9" textLength="50.1" lengthAdjust="spacingAndGlyphs">Land</text>
<text x="1056.6" y="673.8" font-size="18.9" textLength="38.4" lengthAdjust="spacingAndGlyphs">Sea</text>
<text x="1772.4" y="687.5" font-size="17.2" textLength="113.6" lengthAdjust="spacingAndGlyphs">(gC/m²/day)</text>
</g>
</svg>
</body></html>
